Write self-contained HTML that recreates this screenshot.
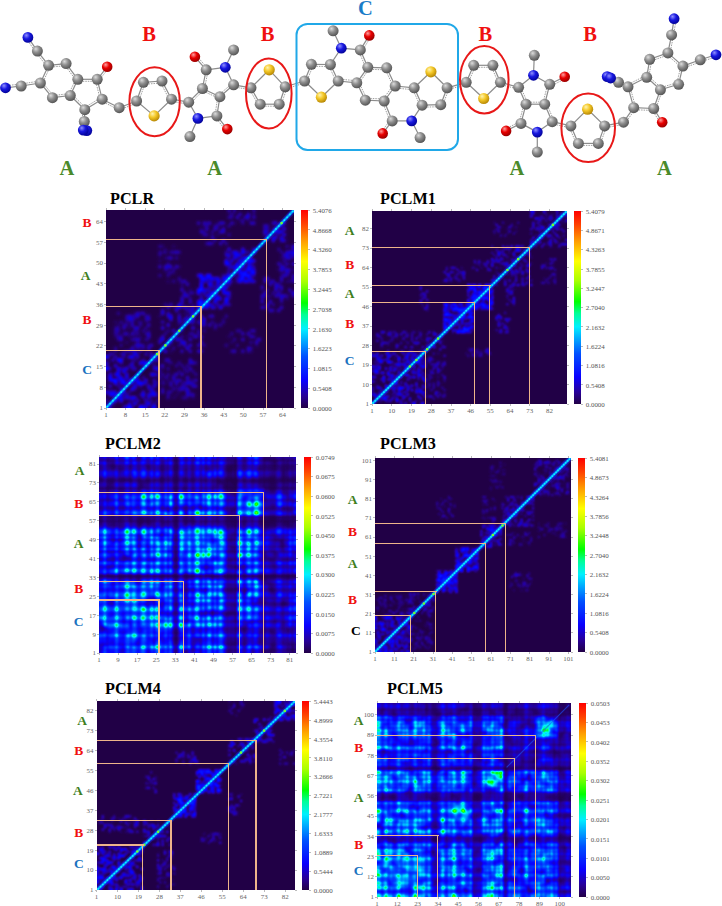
<!DOCTYPE html><html><head><meta charset="utf-8"><style>
html,body{margin:0;padding:0;background:#fff;width:722px;height:906px;overflow:hidden}
body{position:relative;font-family:"Liberation Serif",serif}
.ttl{position:absolute;font:bold 16.2px "Liberation Serif",serif;color:#000;white-space:nowrap;line-height:1}
.tl{position:absolute;font:6.9px "Liberation Serif",serif;color:#666;line-height:9px;white-space:nowrap}
.cl{position:absolute;font:6.9px "Liberation Serif",serif;color:#555;line-height:9px;white-space:nowrap}
.rl{position:absolute;font:bold 13.5px "Liberation Serif",serif;width:20px;text-align:center;line-height:18px}
.bl{position:absolute;background:#eeb48a}
.tk{position:absolute;background:#bbb}
.ml{position:absolute;font:bold 20.5px "Liberation Serif",serif;line-height:1;white-space:nowrap}
</style></head><body>
<svg width="722" height="180" style="position:absolute;left:0;top:0" viewBox="0 0 722 180"><defs><radialGradient id="atC" cx="0.4" cy="0.35" r="0.7" fx="0.35" fy="0.3"><stop offset="0" stop-color="#dcdcdc"/><stop offset="0.45" stop-color="#8e8e8e"/><stop offset="1" stop-color="#4e4e4e"/></radialGradient><radialGradient id="atN" cx="0.4" cy="0.35" r="0.7" fx="0.35" fy="0.3"><stop offset="0" stop-color="#9090ff"/><stop offset="0.45" stop-color="#1818e0"/><stop offset="1" stop-color="#000090"/></radialGradient><radialGradient id="atO" cx="0.4" cy="0.35" r="0.7" fx="0.35" fy="0.3"><stop offset="0" stop-color="#ffa0a0"/><stop offset="0.45" stop-color="#e80000"/><stop offset="1" stop-color="#900000"/></radialGradient><radialGradient id="atS" cx="0.4" cy="0.35" r="0.7" fx="0.35" fy="0.3"><stop offset="0" stop-color="#fff4b0"/><stop offset="0.45" stop-color="#f4c828"/><stop offset="1" stop-color="#b08000"/></radialGradient></defs><line x1="27.9" y1="37.4" x2="37.4" y2="51.1" stroke="#8c8c8c" stroke-width="1.2"/><line x1="26.3" y1="38.5" x2="35.8" y2="52.2" stroke="#a0a0a0" stroke-width="1" stroke-dasharray="1.5 1"/><line x1="37.4" y1="51.1" x2="48.6" y2="65.3" stroke="#8c8c8c" stroke-width="1.2"/><line x1="35.8" y1="52.3" x2="47.0" y2="66.5" stroke="#a0a0a0" stroke-width="1" stroke-dasharray="1.5 1"/><line x1="48.6" y1="65.3" x2="66.1" y2="63.6" stroke="#8c8c8c" stroke-width="1.2"/><line x1="48.8" y1="67.3" x2="66.3" y2="65.6" stroke="#a0a0a0" stroke-width="1" stroke-dasharray="1.5 1"/><line x1="66.1" y1="63.6" x2="77.8" y2="79.3" stroke="#8c8c8c" stroke-width="1.2"/><line x1="64.5" y1="64.8" x2="76.2" y2="80.5" stroke="#a0a0a0" stroke-width="1" stroke-dasharray="1.5 1"/><line x1="77.8" y1="79.3" x2="70.3" y2="95.5" stroke="#8c8c8c" stroke-width="1.2"/><line x1="76.0" y1="78.5" x2="68.5" y2="94.7" stroke="#a0a0a0" stroke-width="1" stroke-dasharray="1.5 1"/><line x1="70.3" y1="95.5" x2="52.4" y2="97.7" stroke="#8c8c8c" stroke-width="1.2"/><line x1="70.1" y1="93.5" x2="52.2" y2="95.7" stroke="#a0a0a0" stroke-width="1" stroke-dasharray="1.5 1"/><line x1="52.4" y1="97.7" x2="40.4" y2="83.0" stroke="#8c8c8c" stroke-width="1.2"/><line x1="53.9" y1="96.4" x2="41.9" y2="81.7" stroke="#a0a0a0" stroke-width="1" stroke-dasharray="1.5 1"/><line x1="40.4" y1="83.0" x2="48.6" y2="65.3" stroke="#8c8c8c" stroke-width="1.2"/><line x1="42.2" y1="83.8" x2="50.4" y2="66.1" stroke="#a0a0a0" stroke-width="1" stroke-dasharray="1.5 1"/><line x1="40.4" y1="83.0" x2="21.2" y2="86.0" stroke="#8c8c8c" stroke-width="1.2"/><line x1="40.1" y1="81.0" x2="20.9" y2="84.0" stroke="#a0a0a0" stroke-width="1" stroke-dasharray="1.5 1"/><line x1="21.2" y1="86.0" x2="5.5" y2="87.8" stroke="#8c8c8c" stroke-width="1.2"/><line x1="21.0" y1="84.0" x2="5.3" y2="85.8" stroke="#a0a0a0" stroke-width="1" stroke-dasharray="1.5 1"/><line x1="77.8" y1="79.3" x2="97.2" y2="79.3" stroke="#8c8c8c" stroke-width="1.2"/><line x1="77.8" y1="81.3" x2="97.2" y2="81.3" stroke="#a0a0a0" stroke-width="1" stroke-dasharray="1.5 1"/><line x1="97.2" y1="79.3" x2="107.2" y2="66.8" stroke="#8c8c8c" stroke-width="1.2"/><line x1="98.8" y1="80.5" x2="108.8" y2="68.0" stroke="#a0a0a0" stroke-width="1" stroke-dasharray="1.5 1"/><line x1="97.2" y1="79.3" x2="102.2" y2="99.2" stroke="#8c8c8c" stroke-width="1.2"/><line x1="95.3" y1="79.8" x2="100.3" y2="99.7" stroke="#a0a0a0" stroke-width="1" stroke-dasharray="1.5 1"/><line x1="102.2" y1="99.2" x2="84.8" y2="109.7" stroke="#8c8c8c" stroke-width="1.2"/><line x1="101.2" y1="97.5" x2="83.8" y2="108.0" stroke="#a0a0a0" stroke-width="1" stroke-dasharray="1.5 1"/><line x1="84.8" y1="109.7" x2="70.3" y2="95.5" stroke="#8c8c8c" stroke-width="1.2"/><line x1="86.2" y1="108.3" x2="71.7" y2="94.1" stroke="#a0a0a0" stroke-width="1" stroke-dasharray="1.5 1"/><line x1="84.8" y1="109.7" x2="84.3" y2="121.5" stroke="#8c8c8c" stroke-width="1.2"/><line x1="82.8" y1="109.6" x2="82.3" y2="121.4" stroke="#a0a0a0" stroke-width="1" stroke-dasharray="1.5 1"/><line x1="84.3" y1="121.5" x2="83.3" y2="130.1" stroke="#8c8c8c" stroke-width="1.2"/><line x1="82.3" y1="121.3" x2="81.3" y2="129.9" stroke="#a0a0a0" stroke-width="1" stroke-dasharray="1.5 1"/><line x1="102.2" y1="99.2" x2="119.2" y2="107.7" stroke="#8c8c8c" stroke-width="1.2"/><line x1="101.3" y1="101.0" x2="118.3" y2="109.5" stroke="#a0a0a0" stroke-width="1" stroke-dasharray="1.5 1"/><line x1="119.2" y1="107.7" x2="136.6" y2="101.0" stroke="#8c8c8c" stroke-width="1.2"/><line x1="119.9" y1="109.6" x2="137.3" y2="102.9" stroke="#a0a0a0" stroke-width="1" stroke-dasharray="1.5 1"/><line x1="136.6" y1="101.0" x2="143.4" y2="82.3" stroke="#8c8c8c" stroke-width="1.2"/><line x1="138.5" y1="101.7" x2="145.3" y2="83.0" stroke="#a0a0a0" stroke-width="1" stroke-dasharray="1.5 1"/><line x1="143.4" y1="82.3" x2="162.0" y2="81.0" stroke="#8c8c8c" stroke-width="1.2"/><line x1="143.5" y1="84.3" x2="162.1" y2="83.0" stroke="#a0a0a0" stroke-width="1" stroke-dasharray="1.5 1"/><line x1="162.0" y1="81.0" x2="171.5" y2="99.2" stroke="#8c8c8c" stroke-width="1.2"/><line x1="160.2" y1="81.9" x2="169.7" y2="100.1" stroke="#a0a0a0" stroke-width="1" stroke-dasharray="1.5 1"/><line x1="171.5" y1="99.2" x2="188.7" y2="102.2" stroke="#8c8c8c" stroke-width="1.2"/><line x1="171.2" y1="101.2" x2="188.4" y2="104.2" stroke="#a0a0a0" stroke-width="1" stroke-dasharray="1.5 1"/><line x1="171.5" y1="99.2" x2="154.1" y2="115.9" stroke="#8c8c8c" stroke-width="1.2"/><line x1="154.1" y1="115.9" x2="136.6" y2="101.0" stroke="#8c8c8c" stroke-width="1.2"/><line x1="188.7" y1="102.2" x2="202.4" y2="88.5" stroke="#8c8c8c" stroke-width="1.2"/><line x1="190.1" y1="103.6" x2="203.8" y2="89.9" stroke="#a0a0a0" stroke-width="1" stroke-dasharray="1.5 1"/><line x1="202.4" y1="88.5" x2="206.2" y2="69.8" stroke="#8c8c8c" stroke-width="1.2"/><line x1="204.4" y1="88.9" x2="208.2" y2="70.2" stroke="#a0a0a0" stroke-width="1" stroke-dasharray="1.5 1"/><line x1="206.2" y1="69.8" x2="194.9" y2="56.8" stroke="#8c8c8c" stroke-width="1.2"/><line x1="207.7" y1="68.5" x2="196.4" y2="55.5" stroke="#a0a0a0" stroke-width="1" stroke-dasharray="1.5 1"/><line x1="202.4" y1="88.5" x2="219.9" y2="96.7" stroke="#8c8c8c" stroke-width="1.2"/><line x1="201.6" y1="90.3" x2="219.1" y2="98.5" stroke="#a0a0a0" stroke-width="1" stroke-dasharray="1.5 1"/><line x1="219.9" y1="96.7" x2="216.9" y2="115.9" stroke="#8c8c8c" stroke-width="1.2"/><line x1="217.9" y1="96.4" x2="214.9" y2="115.6" stroke="#a0a0a0" stroke-width="1" stroke-dasharray="1.5 1"/><line x1="216.9" y1="115.9" x2="227.3" y2="129.1" stroke="#8c8c8c" stroke-width="1.2"/><line x1="215.3" y1="117.1" x2="225.7" y2="130.3" stroke="#a0a0a0" stroke-width="1" stroke-dasharray="1.5 1"/><line x1="233.6" y1="84.8" x2="219.9" y2="96.7" stroke="#8c8c8c" stroke-width="1.2"/><line x1="232.3" y1="83.3" x2="218.6" y2="95.2" stroke="#a0a0a0" stroke-width="1" stroke-dasharray="1.5 1"/><line x1="233.6" y1="84.8" x2="251.0" y2="87.8" stroke="#8c8c8c" stroke-width="1.2"/><line x1="233.3" y1="86.8" x2="250.7" y2="89.8" stroke="#a0a0a0" stroke-width="1" stroke-dasharray="1.5 1"/><line x1="206.2" y1="69.8" x2="225.3" y2="67.3" stroke="#8c8c8c" stroke-width="1.2"/><line x1="225.3" y1="67.3" x2="233.6" y2="84.8" stroke="#8c8c8c" stroke-width="1.2"/><line x1="216.9" y1="115.9" x2="197.9" y2="118.4" stroke="#8c8c8c" stroke-width="1.2"/><line x1="197.9" y1="118.4" x2="188.7" y2="102.2" stroke="#8c8c8c" stroke-width="1.2"/><line x1="225.3" y1="67.3" x2="233.6" y2="49.9" stroke="#8c8c8c" stroke-width="1.2"/><line x1="197.9" y1="118.4" x2="189.9" y2="136.6" stroke="#8c8c8c" stroke-width="1.2"/><line x1="251.0" y1="87.8" x2="260.2" y2="104.2" stroke="#8c8c8c" stroke-width="1.2"/><line x1="249.3" y1="88.8" x2="258.5" y2="105.2" stroke="#a0a0a0" stroke-width="1" stroke-dasharray="1.5 1"/><line x1="260.2" y1="104.2" x2="279.2" y2="104.2" stroke="#8c8c8c" stroke-width="1.2"/><line x1="260.2" y1="106.2" x2="279.2" y2="106.2" stroke="#a0a0a0" stroke-width="1" stroke-dasharray="1.5 1"/><line x1="279.2" y1="104.2" x2="285.2" y2="86.8" stroke="#8c8c8c" stroke-width="1.2"/><line x1="281.1" y1="104.9" x2="287.1" y2="87.5" stroke="#a0a0a0" stroke-width="1" stroke-dasharray="1.5 1"/><line x1="285.2" y1="86.8" x2="304.6" y2="81.0" stroke="#8c8c8c" stroke-width="1.2"/><line x1="285.8" y1="88.7" x2="305.2" y2="82.9" stroke="#a0a0a0" stroke-width="1" stroke-dasharray="1.5 1"/><line x1="251.0" y1="87.8" x2="269.2" y2="69.8" stroke="#8c8c8c" stroke-width="1.2"/><line x1="269.2" y1="69.8" x2="285.2" y2="86.8" stroke="#8c8c8c" stroke-width="1.2"/><line x1="304.6" y1="81.0" x2="311.4" y2="64.3" stroke="#8c8c8c" stroke-width="1.2"/><line x1="306.5" y1="81.8" x2="313.3" y2="65.1" stroke="#a0a0a0" stroke-width="1" stroke-dasharray="1.5 1"/><line x1="311.4" y1="64.3" x2="330.4" y2="64.5" stroke="#8c8c8c" stroke-width="1.2"/><line x1="311.4" y1="66.3" x2="330.4" y2="66.5" stroke="#a0a0a0" stroke-width="1" stroke-dasharray="1.5 1"/><line x1="330.4" y1="64.5" x2="338.2" y2="81.0" stroke="#8c8c8c" stroke-width="1.2"/><line x1="328.6" y1="65.4" x2="336.4" y2="81.9" stroke="#a0a0a0" stroke-width="1" stroke-dasharray="1.5 1"/><line x1="367.8" y1="67.3" x2="386.7" y2="67.8" stroke="#8c8c8c" stroke-width="1.2"/><line x1="367.7" y1="69.3" x2="386.6" y2="69.8" stroke="#a0a0a0" stroke-width="1" stroke-dasharray="1.5 1"/><line x1="386.7" y1="67.8" x2="395.2" y2="86.0" stroke="#8c8c8c" stroke-width="1.2"/><line x1="384.9" y1="68.6" x2="393.4" y2="86.8" stroke="#a0a0a0" stroke-width="1" stroke-dasharray="1.5 1"/><line x1="395.2" y1="86.0" x2="384.2" y2="101.0" stroke="#8c8c8c" stroke-width="1.2"/><line x1="393.6" y1="84.8" x2="382.6" y2="99.8" stroke="#a0a0a0" stroke-width="1" stroke-dasharray="1.5 1"/><line x1="384.2" y1="101.0" x2="365.3" y2="100.2" stroke="#8c8c8c" stroke-width="1.2"/><line x1="384.3" y1="99.0" x2="365.4" y2="98.2" stroke="#a0a0a0" stroke-width="1" stroke-dasharray="1.5 1"/><line x1="365.3" y1="100.2" x2="356.8" y2="82.8" stroke="#8c8c8c" stroke-width="1.2"/><line x1="367.1" y1="99.3" x2="358.6" y2="81.9" stroke="#a0a0a0" stroke-width="1" stroke-dasharray="1.5 1"/><line x1="356.8" y1="82.8" x2="367.8" y2="67.3" stroke="#8c8c8c" stroke-width="1.2"/><line x1="358.4" y1="84.0" x2="369.4" y2="68.5" stroke="#a0a0a0" stroke-width="1" stroke-dasharray="1.5 1"/><line x1="356.8" y1="82.8" x2="338.2" y2="81.0" stroke="#8c8c8c" stroke-width="1.2"/><line x1="357.0" y1="80.8" x2="338.4" y2="79.0" stroke="#a0a0a0" stroke-width="1" stroke-dasharray="1.5 1"/><line x1="360.3" y1="49.9" x2="369.3" y2="35.4" stroke="#8c8c8c" stroke-width="1.2"/><line x1="362.0" y1="51.0" x2="371.0" y2="36.5" stroke="#a0a0a0" stroke-width="1" stroke-dasharray="1.5 1"/><line x1="360.3" y1="49.9" x2="367.8" y2="67.3" stroke="#8c8c8c" stroke-width="1.2"/><line x1="358.5" y1="50.7" x2="366.0" y2="68.1" stroke="#a0a0a0" stroke-width="1" stroke-dasharray="1.5 1"/><line x1="395.2" y1="86.0" x2="414.2" y2="87.8" stroke="#8c8c8c" stroke-width="1.2"/><line x1="395.0" y1="88.0" x2="414.0" y2="89.8" stroke="#a0a0a0" stroke-width="1" stroke-dasharray="1.5 1"/><line x1="414.2" y1="87.8" x2="422.1" y2="105.2" stroke="#8c8c8c" stroke-width="1.2"/><line x1="412.4" y1="88.6" x2="420.3" y2="106.0" stroke="#a0a0a0" stroke-width="1" stroke-dasharray="1.5 1"/><line x1="422.1" y1="105.2" x2="440.8" y2="104.7" stroke="#8c8c8c" stroke-width="1.2"/><line x1="422.2" y1="107.2" x2="440.9" y2="106.7" stroke="#a0a0a0" stroke-width="1" stroke-dasharray="1.5 1"/><line x1="440.8" y1="104.7" x2="447.1" y2="87.8" stroke="#8c8c8c" stroke-width="1.2"/><line x1="442.7" y1="105.4" x2="449.0" y2="88.5" stroke="#a0a0a0" stroke-width="1" stroke-dasharray="1.5 1"/><line x1="384.2" y1="101.0" x2="392.2" y2="120.9" stroke="#8c8c8c" stroke-width="1.2"/><line x1="382.3" y1="101.7" x2="390.3" y2="121.6" stroke="#a0a0a0" stroke-width="1" stroke-dasharray="1.5 1"/><line x1="392.2" y1="120.9" x2="382.7" y2="133.4" stroke="#8c8c8c" stroke-width="1.2"/><line x1="390.6" y1="119.7" x2="381.1" y2="132.2" stroke="#a0a0a0" stroke-width="1" stroke-dasharray="1.5 1"/><line x1="447.1" y1="87.8" x2="466.2" y2="82.3" stroke="#8c8c8c" stroke-width="1.2"/><line x1="447.7" y1="89.7" x2="466.8" y2="84.2" stroke="#a0a0a0" stroke-width="1" stroke-dasharray="1.5 1"/><line x1="338.2" y1="81.0" x2="321.4" y2="97.2" stroke="#8c8c8c" stroke-width="1.2"/><line x1="321.4" y1="97.2" x2="304.6" y2="81.0" stroke="#8c8c8c" stroke-width="1.2"/><line x1="330.4" y1="64.5" x2="341.3" y2="48.2" stroke="#8c8c8c" stroke-width="1.2"/><line x1="341.3" y1="48.2" x2="333.1" y2="30.8" stroke="#8c8c8c" stroke-width="1.2"/><line x1="341.3" y1="48.2" x2="360.3" y2="49.9" stroke="#8c8c8c" stroke-width="1.2"/><line x1="392.2" y1="120.9" x2="411.7" y2="120.9" stroke="#8c8c8c" stroke-width="1.2"/><line x1="411.7" y1="120.9" x2="420.1" y2="137.6" stroke="#8c8c8c" stroke-width="1.2"/><line x1="411.7" y1="120.9" x2="422.1" y2="105.2" stroke="#8c8c8c" stroke-width="1.2"/><line x1="414.2" y1="87.8" x2="430.9" y2="71.8" stroke="#8c8c8c" stroke-width="1.2"/><line x1="430.9" y1="71.8" x2="447.1" y2="87.8" stroke="#8c8c8c" stroke-width="1.2"/><line x1="466.2" y1="82.3" x2="473.7" y2="65.3" stroke="#8c8c8c" stroke-width="1.2"/><line x1="468.0" y1="83.1" x2="475.5" y2="66.1" stroke="#a0a0a0" stroke-width="1" stroke-dasharray="1.5 1"/><line x1="473.7" y1="65.3" x2="492.9" y2="65.3" stroke="#8c8c8c" stroke-width="1.2"/><line x1="473.7" y1="67.3" x2="492.9" y2="67.3" stroke="#a0a0a0" stroke-width="1" stroke-dasharray="1.5 1"/><line x1="492.9" y1="65.3" x2="500.4" y2="82.3" stroke="#8c8c8c" stroke-width="1.2"/><line x1="491.1" y1="66.1" x2="498.6" y2="83.1" stroke="#a0a0a0" stroke-width="1" stroke-dasharray="1.5 1"/><line x1="500.4" y1="82.3" x2="518.6" y2="87.3" stroke="#8c8c8c" stroke-width="1.2"/><line x1="499.9" y1="84.2" x2="518.1" y2="89.2" stroke="#a0a0a0" stroke-width="1" stroke-dasharray="1.5 1"/><line x1="500.4" y1="82.3" x2="483.7" y2="98.5" stroke="#8c8c8c" stroke-width="1.2"/><line x1="483.7" y1="98.5" x2="466.2" y2="82.3" stroke="#8c8c8c" stroke-width="1.2"/><line x1="549.7" y1="84.3" x2="564.7" y2="76.8" stroke="#8c8c8c" stroke-width="1.2"/><line x1="550.6" y1="86.1" x2="565.6" y2="78.6" stroke="#a0a0a0" stroke-width="1" stroke-dasharray="1.5 1"/><line x1="549.7" y1="84.3" x2="544.7" y2="104.2" stroke="#8c8c8c" stroke-width="1.2"/><line x1="547.8" y1="83.8" x2="542.8" y2="103.7" stroke="#a0a0a0" stroke-width="1" stroke-dasharray="1.5 1"/><line x1="544.7" y1="104.2" x2="526.0" y2="104.2" stroke="#8c8c8c" stroke-width="1.2"/><line x1="544.7" y1="102.2" x2="526.0" y2="102.2" stroke="#a0a0a0" stroke-width="1" stroke-dasharray="1.5 1"/><line x1="526.0" y1="104.2" x2="518.6" y2="87.3" stroke="#8c8c8c" stroke-width="1.2"/><line x1="527.8" y1="103.4" x2="520.4" y2="86.5" stroke="#a0a0a0" stroke-width="1" stroke-dasharray="1.5 1"/><line x1="526.0" y1="104.2" x2="521.0" y2="123.4" stroke="#8c8c8c" stroke-width="1.2"/><line x1="524.1" y1="103.7" x2="519.1" y2="122.9" stroke="#a0a0a0" stroke-width="1" stroke-dasharray="1.5 1"/><line x1="521.0" y1="123.4" x2="506.1" y2="130.9" stroke="#8c8c8c" stroke-width="1.2"/><line x1="520.1" y1="121.6" x2="505.2" y2="129.1" stroke="#a0a0a0" stroke-width="1" stroke-dasharray="1.5 1"/><line x1="552.2" y1="121.7" x2="544.7" y2="104.2" stroke="#8c8c8c" stroke-width="1.2"/><line x1="554.0" y1="120.9" x2="546.5" y2="103.4" stroke="#a0a0a0" stroke-width="1" stroke-dasharray="1.5 1"/><line x1="552.2" y1="121.7" x2="570.9" y2="125.9" stroke="#8c8c8c" stroke-width="1.2"/><line x1="551.8" y1="123.7" x2="570.5" y2="127.9" stroke="#a0a0a0" stroke-width="1" stroke-dasharray="1.5 1"/><line x1="518.6" y1="87.3" x2="533.5" y2="75.3" stroke="#8c8c8c" stroke-width="1.2"/><line x1="533.5" y1="75.3" x2="534.3" y2="55.3" stroke="#8c8c8c" stroke-width="1.2"/><line x1="533.5" y1="75.3" x2="549.7" y2="84.3" stroke="#8c8c8c" stroke-width="1.2"/><line x1="521.0" y1="123.4" x2="537.3" y2="132.1" stroke="#8c8c8c" stroke-width="1.2"/><line x1="537.3" y1="132.1" x2="537.3" y2="152.1" stroke="#8c8c8c" stroke-width="1.2"/><line x1="537.3" y1="132.1" x2="552.2" y2="121.7" stroke="#8c8c8c" stroke-width="1.2"/><line x1="570.9" y1="125.9" x2="578.4" y2="143.4" stroke="#8c8c8c" stroke-width="1.2"/><line x1="569.1" y1="126.7" x2="576.6" y2="144.2" stroke="#a0a0a0" stroke-width="1" stroke-dasharray="1.5 1"/><line x1="578.4" y1="143.4" x2="598.3" y2="143.4" stroke="#8c8c8c" stroke-width="1.2"/><line x1="578.4" y1="145.4" x2="598.3" y2="145.4" stroke="#a0a0a0" stroke-width="1" stroke-dasharray="1.5 1"/><line x1="598.3" y1="143.4" x2="604.6" y2="125.9" stroke="#8c8c8c" stroke-width="1.2"/><line x1="600.2" y1="144.1" x2="606.5" y2="126.6" stroke="#a0a0a0" stroke-width="1" stroke-dasharray="1.5 1"/><line x1="604.6" y1="125.9" x2="623.5" y2="122.2" stroke="#8c8c8c" stroke-width="1.2"/><line x1="605.0" y1="127.9" x2="623.9" y2="124.2" stroke="#a0a0a0" stroke-width="1" stroke-dasharray="1.5 1"/><line x1="570.9" y1="125.9" x2="587.6" y2="109.2" stroke="#8c8c8c" stroke-width="1.2"/><line x1="587.6" y1="109.2" x2="604.6" y2="125.9" stroke="#8c8c8c" stroke-width="1.2"/><line x1="623.5" y1="122.2" x2="633.7" y2="107.7" stroke="#8c8c8c" stroke-width="1.2"/><line x1="625.1" y1="123.4" x2="635.3" y2="108.9" stroke="#a0a0a0" stroke-width="1" stroke-dasharray="1.5 1"/><line x1="633.7" y1="107.7" x2="628.0" y2="86.8" stroke="#8c8c8c" stroke-width="1.2"/><line x1="635.6" y1="107.2" x2="629.9" y2="86.3" stroke="#a0a0a0" stroke-width="1" stroke-dasharray="1.5 1"/><line x1="628.0" y1="86.8" x2="618.5" y2="82.3" stroke="#8c8c8c" stroke-width="1.2"/><line x1="628.9" y1="85.0" x2="619.4" y2="80.5" stroke="#a0a0a0" stroke-width="1" stroke-dasharray="1.5 1"/><line x1="618.5" y1="82.3" x2="610.6" y2="78.0" stroke="#8c8c8c" stroke-width="1.2"/><line x1="619.5" y1="80.5" x2="611.6" y2="76.2" stroke="#a0a0a0" stroke-width="1" stroke-dasharray="1.5 1"/><line x1="633.7" y1="107.7" x2="653.7" y2="108.5" stroke="#8c8c8c" stroke-width="1.2"/><line x1="633.6" y1="109.7" x2="653.6" y2="110.5" stroke="#a0a0a0" stroke-width="1" stroke-dasharray="1.5 1"/><line x1="653.7" y1="108.5" x2="662.2" y2="122.2" stroke="#8c8c8c" stroke-width="1.2"/><line x1="652.0" y1="109.6" x2="660.5" y2="123.3" stroke="#a0a0a0" stroke-width="1" stroke-dasharray="1.5 1"/><line x1="653.7" y1="108.5" x2="660.4" y2="89.8" stroke="#8c8c8c" stroke-width="1.2"/><line x1="655.6" y1="109.2" x2="662.3" y2="90.5" stroke="#a0a0a0" stroke-width="1" stroke-dasharray="1.5 1"/><line x1="660.4" y1="89.8" x2="646.7" y2="77.3" stroke="#8c8c8c" stroke-width="1.2"/><line x1="661.7" y1="88.3" x2="648.0" y2="75.8" stroke="#a0a0a0" stroke-width="1" stroke-dasharray="1.5 1"/><line x1="646.7" y1="77.3" x2="628.0" y2="86.8" stroke="#8c8c8c" stroke-width="1.2"/><line x1="645.8" y1="75.5" x2="627.1" y2="85.0" stroke="#a0a0a0" stroke-width="1" stroke-dasharray="1.5 1"/><line x1="646.7" y1="77.3" x2="649.7" y2="59.3" stroke="#8c8c8c" stroke-width="1.2"/><line x1="648.7" y1="77.6" x2="651.7" y2="59.6" stroke="#a0a0a0" stroke-width="1" stroke-dasharray="1.5 1"/><line x1="649.7" y1="59.3" x2="667.9" y2="52.9" stroke="#8c8c8c" stroke-width="1.2"/><line x1="650.4" y1="61.2" x2="668.6" y2="54.8" stroke="#a0a0a0" stroke-width="1" stroke-dasharray="1.5 1"/><line x1="667.9" y1="52.9" x2="682.9" y2="66.1" stroke="#8c8c8c" stroke-width="1.2"/><line x1="666.6" y1="54.4" x2="681.6" y2="67.6" stroke="#a0a0a0" stroke-width="1" stroke-dasharray="1.5 1"/><line x1="682.9" y1="66.1" x2="678.6" y2="84.3" stroke="#8c8c8c" stroke-width="1.2"/><line x1="681.0" y1="65.6" x2="676.7" y2="83.8" stroke="#a0a0a0" stroke-width="1" stroke-dasharray="1.5 1"/><line x1="678.6" y1="84.3" x2="660.4" y2="89.8" stroke="#8c8c8c" stroke-width="1.2"/><line x1="678.0" y1="82.4" x2="659.8" y2="87.9" stroke="#a0a0a0" stroke-width="1" stroke-dasharray="1.5 1"/><line x1="667.9" y1="52.9" x2="671.6" y2="34.9" stroke="#8c8c8c" stroke-width="1.2"/><line x1="669.9" y1="53.3" x2="673.6" y2="35.3" stroke="#a0a0a0" stroke-width="1" stroke-dasharray="1.5 1"/><line x1="671.6" y1="34.9" x2="674.1" y2="18.7" stroke="#8c8c8c" stroke-width="1.2"/><line x1="673.6" y1="35.2" x2="676.1" y2="19.0" stroke="#a0a0a0" stroke-width="1" stroke-dasharray="1.5 1"/><line x1="682.9" y1="66.1" x2="700.3" y2="59.8" stroke="#8c8c8c" stroke-width="1.2"/><line x1="683.6" y1="68.0" x2="701.0" y2="61.7" stroke="#a0a0a0" stroke-width="1" stroke-dasharray="1.5 1"/><line x1="700.3" y1="59.8" x2="716.0" y2="54.8" stroke="#8c8c8c" stroke-width="1.2"/><line x1="700.9" y1="61.7" x2="716.6" y2="56.7" stroke="#a0a0a0" stroke-width="1" stroke-dasharray="1.5 1"/><circle cx="27.9" cy="37.4" r="5.4" fill="url(#atN)"/><circle cx="37.4" cy="51.1" r="5.5" fill="url(#atC)"/><circle cx="48.6" cy="65.3" r="5.5" fill="url(#atC)"/><circle cx="66.1" cy="63.6" r="5.5" fill="url(#atC)"/><circle cx="77.8" cy="79.3" r="5.5" fill="url(#atC)"/><circle cx="70.3" cy="95.5" r="5.5" fill="url(#atC)"/><circle cx="52.4" cy="97.7" r="5.5" fill="url(#atC)"/><circle cx="40.4" cy="83.0" r="5.5" fill="url(#atC)"/><circle cx="21.2" cy="86.0" r="5.5" fill="url(#atC)"/><circle cx="5.5" cy="87.8" r="5.4" fill="url(#atN)"/><circle cx="97.2" cy="79.3" r="5.5" fill="url(#atC)"/><circle cx="107.2" cy="66.8" r="5.3" fill="url(#atO)"/><circle cx="102.2" cy="99.2" r="5.5" fill="url(#atC)"/><circle cx="84.8" cy="109.7" r="5.5" fill="url(#atC)"/><circle cx="84.3" cy="121.5" r="5.5" fill="url(#atC)"/><circle cx="86.8" cy="130.6" r="5.4" fill="url(#atN)"/><circle cx="83.3" cy="130.1" r="5.4" fill="url(#atN)"/><circle cx="119.2" cy="107.7" r="5.5" fill="url(#atC)"/><circle cx="136.6" cy="101.0" r="5.5" fill="url(#atC)"/><circle cx="143.4" cy="82.3" r="5.5" fill="url(#atC)"/><circle cx="162.0" cy="81.0" r="5.5" fill="url(#atC)"/><circle cx="171.5" cy="99.2" r="5.5" fill="url(#atC)"/><circle cx="154.1" cy="115.9" r="5.6" fill="url(#atS)"/><circle cx="188.7" cy="102.2" r="5.5" fill="url(#atC)"/><circle cx="202.4" cy="88.5" r="5.5" fill="url(#atC)"/><circle cx="206.2" cy="69.8" r="5.5" fill="url(#atC)"/><circle cx="194.9" cy="56.8" r="5.3" fill="url(#atO)"/><circle cx="225.3" cy="67.3" r="5.4" fill="url(#atN)"/><circle cx="233.6" cy="49.9" r="5.5" fill="url(#atC)"/><circle cx="233.6" cy="84.8" r="5.5" fill="url(#atC)"/><circle cx="219.9" cy="96.7" r="5.5" fill="url(#atC)"/><circle cx="216.9" cy="115.9" r="5.5" fill="url(#atC)"/><circle cx="227.3" cy="129.1" r="5.3" fill="url(#atO)"/><circle cx="197.9" cy="118.4" r="5.4" fill="url(#atN)"/><circle cx="189.9" cy="136.6" r="5.5" fill="url(#atC)"/><circle cx="251.0" cy="87.8" r="5.5" fill="url(#atC)"/><circle cx="269.2" cy="69.8" r="5.6" fill="url(#atS)"/><circle cx="285.2" cy="86.8" r="5.5" fill="url(#atC)"/><circle cx="279.2" cy="104.2" r="5.5" fill="url(#atC)"/><circle cx="260.2" cy="104.2" r="5.5" fill="url(#atC)"/><circle cx="304.6" cy="81.0" r="5.5" fill="url(#atC)"/><circle cx="311.4" cy="64.3" r="5.5" fill="url(#atC)"/><circle cx="330.4" cy="64.5" r="5.5" fill="url(#atC)"/><circle cx="338.2" cy="81.0" r="5.5" fill="url(#atC)"/><circle cx="321.4" cy="97.2" r="5.6" fill="url(#atS)"/><circle cx="341.3" cy="48.2" r="5.4" fill="url(#atN)"/><circle cx="333.1" cy="30.8" r="5.5" fill="url(#atC)"/><circle cx="360.3" cy="49.9" r="5.5" fill="url(#atC)"/><circle cx="369.3" cy="35.4" r="5.3" fill="url(#atO)"/><circle cx="367.8" cy="67.3" r="5.5" fill="url(#atC)"/><circle cx="386.7" cy="67.8" r="5.5" fill="url(#atC)"/><circle cx="356.8" cy="82.8" r="5.5" fill="url(#atC)"/><circle cx="395.2" cy="86.0" r="5.5" fill="url(#atC)"/><circle cx="365.3" cy="100.2" r="5.5" fill="url(#atC)"/><circle cx="384.2" cy="101.0" r="5.5" fill="url(#atC)"/><circle cx="392.2" cy="120.9" r="5.5" fill="url(#atC)"/><circle cx="382.7" cy="133.4" r="5.3" fill="url(#atO)"/><circle cx="411.7" cy="120.9" r="5.4" fill="url(#atN)"/><circle cx="420.1" cy="137.6" r="5.5" fill="url(#atC)"/><circle cx="414.2" cy="87.8" r="5.5" fill="url(#atC)"/><circle cx="422.1" cy="105.2" r="5.5" fill="url(#atC)"/><circle cx="430.9" cy="71.8" r="5.6" fill="url(#atS)"/><circle cx="447.1" cy="87.8" r="5.5" fill="url(#atC)"/><circle cx="440.8" cy="104.7" r="5.5" fill="url(#atC)"/><circle cx="466.2" cy="82.3" r="5.5" fill="url(#atC)"/><circle cx="473.7" cy="65.3" r="5.5" fill="url(#atC)"/><circle cx="492.9" cy="65.3" r="5.5" fill="url(#atC)"/><circle cx="500.4" cy="82.3" r="5.5" fill="url(#atC)"/><circle cx="483.7" cy="98.5" r="5.6" fill="url(#atS)"/><circle cx="518.6" cy="87.3" r="5.5" fill="url(#atC)"/><circle cx="533.5" cy="75.3" r="5.4" fill="url(#atN)"/><circle cx="534.3" cy="55.3" r="5.5" fill="url(#atC)"/><circle cx="549.7" cy="84.3" r="5.5" fill="url(#atC)"/><circle cx="564.7" cy="76.8" r="5.3" fill="url(#atO)"/><circle cx="526.0" cy="104.2" r="5.5" fill="url(#atC)"/><circle cx="544.7" cy="104.2" r="5.5" fill="url(#atC)"/><circle cx="552.2" cy="121.7" r="5.5" fill="url(#atC)"/><circle cx="521.0" cy="123.4" r="5.5" fill="url(#atC)"/><circle cx="506.1" cy="130.9" r="5.3" fill="url(#atO)"/><circle cx="537.3" cy="132.1" r="5.4" fill="url(#atN)"/><circle cx="537.3" cy="152.1" r="5.5" fill="url(#atC)"/><circle cx="570.9" cy="125.9" r="5.5" fill="url(#atC)"/><circle cx="587.6" cy="109.2" r="5.6" fill="url(#atS)"/><circle cx="604.6" cy="125.9" r="5.5" fill="url(#atC)"/><circle cx="598.3" cy="143.4" r="5.5" fill="url(#atC)"/><circle cx="578.4" cy="143.4" r="5.5" fill="url(#atC)"/><circle cx="623.5" cy="122.2" r="5.5" fill="url(#atC)"/><circle cx="633.7" cy="107.7" r="5.5" fill="url(#atC)"/><circle cx="628.0" cy="86.8" r="5.5" fill="url(#atC)"/><circle cx="618.5" cy="82.3" r="5.5" fill="url(#atC)"/><circle cx="607.2" cy="76.6" r="5.4" fill="url(#atN)"/><circle cx="610.6" cy="78.0" r="5.4" fill="url(#atN)"/><circle cx="653.7" cy="108.5" r="5.5" fill="url(#atC)"/><circle cx="662.2" cy="122.2" r="5.3" fill="url(#atO)"/><circle cx="646.7" cy="77.3" r="5.5" fill="url(#atC)"/><circle cx="660.4" cy="89.8" r="5.5" fill="url(#atC)"/><circle cx="678.6" cy="84.3" r="5.5" fill="url(#atC)"/><circle cx="682.9" cy="66.1" r="5.5" fill="url(#atC)"/><circle cx="667.9" cy="52.9" r="5.5" fill="url(#atC)"/><circle cx="649.7" cy="59.3" r="5.5" fill="url(#atC)"/><circle cx="671.6" cy="34.9" r="5.5" fill="url(#atC)"/><circle cx="674.1" cy="18.7" r="5.4" fill="url(#atN)"/><circle cx="700.3" cy="59.8" r="5.5" fill="url(#atC)"/><circle cx="716.0" cy="54.8" r="5.4" fill="url(#atN)"/><ellipse cx="154.6" cy="101.7" rx="25.2" ry="34.5" fill="none" stroke="#e81818" stroke-width="2"/><ellipse cx="268.8" cy="93.5" rx="22.8" ry="34.9" fill="none" stroke="#e81818" stroke-width="2"/><ellipse cx="484.3" cy="79.8" rx="24.3" ry="33.7" fill="none" stroke="#e81818" stroke-width="2"/><ellipse cx="588.2" cy="127.8" rx="26.8" ry="34.3" fill="none" stroke="#e81818" stroke-width="2"/><rect x="296.5" y="23.9" width="161.5" height="126" rx="11" ry="11" fill="none" stroke="#20a8e8" stroke-width="2"/></svg><div class="ml" style="left:149.0px;top:24.4px;color:#f01010;width:30px;margin-left:-15px;text-align:center">B</div><div class="ml" style="left:267.6px;top:24.4px;color:#f01010;width:30px;margin-left:-15px;text-align:center">B</div><div class="ml" style="left:485.3px;top:24.4px;color:#f01010;width:30px;margin-left:-15px;text-align:center">B</div><div class="ml" style="left:590.0px;top:24.4px;color:#f01010;width:30px;margin-left:-15px;text-align:center">B</div><div class="ml" style="left:67.0px;top:158.3px;color:#4a8a2a;width:30px;margin-left:-15px;text-align:center">A</div><div class="ml" style="left:214.6px;top:158.3px;color:#4a8a2a;width:30px;margin-left:-15px;text-align:center">A</div><div class="ml" style="left:517.0px;top:158.3px;color:#4a8a2a;width:30px;margin-left:-15px;text-align:center">A</div><div class="ml" style="left:664.4px;top:158.3px;color:#4a8a2a;width:30px;margin-left:-15px;text-align:center">A</div><div class="ml" style="left:365.4px;top:-2.0px;color:#1a7cc8;width:30px;margin-left:-15px;text-align:center">C</div><div class="ttl" style="left:110.0px;top:191.0px">PCLR</div><svg width="188.00" height="198.00" viewBox="0 0 68 68" preserveAspectRatio="none" style="position:absolute;left:106.00px;top:210.00px"><defs><filter id="cmPCLR" x="0" y="0" width="100%" height="100%" color-interpolation-filters="sRGB"><feGaussianBlur stdDeviation="0.55" edgeMode="duplicate"/><feComponentTransfer><feFuncR type="table" tableValues="0.133 0.141 0.153 0.133 0.098 0.063 0.035 0.027 0.020 0.012 0.004 0.000 0.000 0.000 0.000 0.000 0.000 0.000 0.000 0.000 0.000 0.000 0.122 0.275 0.424 0.576 0.698 0.784 0.867 0.949 1.000 1.000 1.000 1.000 1.000 1.000 1.000 1.000 1.000 1.000 1.000"/><feFuncG type="table" tableValues="0.000 0.000 0.000 0.000 0.000 0.000 0.027 0.090 0.157 0.224 0.286 0.380 0.490 0.600 0.714 0.827 0.941 0.961 0.984 1.000 1.000 1.000 1.000 1.000 1.000 1.000 1.000 1.000 1.000 1.000 0.965 0.871 0.776 0.682 0.584 0.482 0.376 0.271 0.180 0.090 0.000"/><feFuncB type="table" tableValues="0.275 0.404 0.537 0.667 0.792 0.922 1.000 1.000 1.000 1.000 1.000 1.000 1.000 1.000 1.000 1.000 1.000 0.855 0.706 0.541 0.294 0.047 0.000 0.000 0.000 0.000 0.000 0.000 0.000 0.000 0.000 0.000 0.000 0.000 0.000 0.000 0.000 0.000 0.000 0.000 0.000"/><feFuncA type="linear" slope="0" intercept="1"/></feComponentTransfer></filter></defs><g filter="url(#cmPCLR)"><rect width="68" height="68" fill="#000"/><path fill="#fff" fill-opacity="0.04" d="M53 1h1v1h-1zM48 3h1v1h-1zM51 3h1v1h-1zM40 4h1v1h-1zM46 4h1v1h-1zM35 5h1v1h-1zM34 6h1v1h-1zM40 6h1v1h-1zM62 6h1v1h-1zM38 8h1v1h-1zM40 8h1v1h-1zM62 8h1v1h-1zM20 12h1v1h-1zM24 12h1v1h-1zM21 13h1v1h-1zM20 14h1v1h-1zM66 15h1v1h-1zM21 16h1v1h-1zM63 16h2v1h-2zM67 16h1v1h-1zM19 17h1v1h-1zM63 18h1v1h-1zM26 19h1v1h-1zM22 20h1v1h-1zM62 20h1v1h-1zM67 20h1v1h-1zM22 21h1v1h-1zM24 21h1v1h-1zM63 21h1v1h-1zM66 21h1v1h-1zM63 22h1v1h-1zM22 24h1v1h-1zM26 24h1v1h-1zM65 24h2v1h-2zM27 25h1v1h-1zM27 26h1v1h-1zM30 27h1v1h-1zM56 27h1v1h-1zM27 29h1v1h-1zM58 29h2v1h-2zM58 30h1v1h-1zM65 30h1v1h-1zM31 32h1v1h-1zM24 33h1v1h-1zM27 33h1v1h-1zM30 33h1v1h-1zM57 33h1v1h-1zM10 35h1v1h-1zM26 35h1v1h-1zM28 35h1v1h-1zM19 36h1v1h-1zM10 37h1v1h-1zM34 37h1v1h-1zM42 37h1v1h-1zM3 38h1v1h-1zM7 38h2v1h-2zM11 38h1v1h-1zM14 38h1v1h-1zM28 38h1v1h-1zM4 39h1v1h-1zM26 39h1v1h-1zM40 39h1v1h-1zM8 40h1v1h-1zM11 41h1v1h-1zM15 41h1v1h-1zM4 42h1v1h-1zM10 42h1v1h-1zM3 43h1v1h-1zM8 43h1v1h-1zM10 43h1v1h-1zM12 43h1v1h-1zM25 43h1v1h-1zM29 43h1v1h-1zM31 43h1v1h-1zM44 43h1v1h-1zM12 44h1v1h-1zM15 44h1v1h-1zM22 44h1v1h-1zM27 44h1v1h-1zM34 44h1v1h-1zM54 44h1v1h-1zM7 45h1v1h-1zM45 45h1v1h-1zM34 46h1v1h-1zM54 46h1v1h-1zM6 48h1v1h-1zM15 48h1v1h-1zM23 48h1v1h-1zM52 48h1v1h-1zM22 52h1v1h-1zM12 53h1v1h-1zM19 53h1v1h-1zM20 54h1v1h-1zM28 55h1v1h-1zM24 56h1v1h-1zM22 57h1v1h-1zM20 58h1v1h-1zM22 58h1v1h-1zM27 58h1v1h-1zM30 58h2v1h-2zM21 59h1v1h-1zM27 59h1v1h-1zM25 60h1v1h-1zM25 61h1v1h-1zM26 62h1v1h-1zM30 62h1v1h-1zM25 63h1v1h-1zM24 64h1v1h-1zM27 64h1v1h-1zM29 64h1v1h-1zM31 64h1v1h-1z"/><path fill="#fff" fill-opacity="0.08" d="M44 0h1v1h-1zM46 0h1v1h-1zM53 0h1v1h-1zM45 1h1v1h-1zM44 2h2v1h-2zM49 3h1v1h-1zM36 4h1v1h-1zM49 4h1v1h-1zM63 4h1v1h-1zM36 5h1v1h-1zM39 5h2v1h-2zM44 5h1v1h-1zM58 5h1v1h-1zM57 6h2v1h-2zM60 6h1v1h-1zM35 7h1v1h-1zM38 7h1v1h-1zM58 7h1v1h-1zM35 8h2v1h-2zM44 8h1v1h-1zM57 8h2v1h-2zM61 8h1v1h-1zM39 10h1v1h-1zM36 11h1v1h-1zM38 11h1v1h-1zM43 11h1v1h-1zM19 12h1v1h-1zM65 12h1v1h-1zM62 13h1v1h-1zM67 13h1v1h-1zM19 14h1v1h-1zM21 14h1v1h-1zM23 14h2v1h-2zM26 14h1v1h-1zM43 14h1v1h-1zM45 14h1v1h-1zM50 14h2v1h-2zM63 14h1v1h-1zM19 15h1v1h-1zM22 16h1v1h-1zM25 16h1v1h-1zM44 16h1v1h-1zM47 16h1v1h-1zM64 17h1v1h-1zM22 18h1v1h-1zM52 18h1v1h-1zM44 19h1v1h-1zM53 19h1v1h-1zM64 19h1v1h-1zM21 20h1v1h-1zM24 20h1v1h-1zM44 20h1v1h-1zM47 20h1v1h-1zM50 20h1v1h-1zM64 20h1v1h-1zM66 20h1v1h-1zM23 21h1v1h-1zM44 21h1v1h-1zM47 21h1v1h-1zM19 22h1v1h-1zM22 22h1v1h-1zM42 22h2v1h-2zM46 22h1v1h-1zM52 22h2v1h-2zM65 22h1v1h-1zM67 22h1v1h-1zM26 23h1v1h-1zM47 23h1v1h-1zM57 23h1v1h-1zM67 23h1v1h-1zM24 24h1v1h-1zM27 24h1v1h-1zM36 24h3v1h-3zM42 24h1v1h-1zM45 24h1v1h-1zM47 24h1v1h-1zM49 24h1v1h-1zM59 24h1v1h-1zM63 24h1v1h-1zM67 24h1v1h-1zM38 25h1v1h-1zM62 25h1v1h-1zM37 26h3v1h-3zM41 26h1v1h-1zM62 26h1v1h-1zM37 27h1v1h-1zM39 27h1v1h-1zM58 27h1v1h-1zM63 27h1v1h-1zM30 28h2v1h-2zM37 28h1v1h-1zM60 28h1v1h-1zM34 29h1v1h-1zM38 29h2v1h-2zM57 29h1v1h-1zM62 29h1v1h-1zM65 29h1v1h-1zM67 29h1v1h-1zM30 30h1v1h-1zM44 30h1v1h-1zM56 30h1v1h-1zM35 31h1v1h-1zM63 31h1v1h-1zM21 32h1v1h-1zM27 32h1v1h-1zM35 32h1v1h-1zM38 32h1v1h-1zM43 32h1v1h-1zM60 32h1v1h-1zM25 33h1v1h-1zM29 33h1v1h-1zM35 33h1v1h-1zM39 33h1v1h-1zM58 33h1v1h-1zM29 34h2v1h-2zM33 34h1v1h-1zM60 34h1v1h-1zM4 35h1v1h-1zM12 35h1v1h-1zM30 35h1v1h-1zM7 36h1v1h-1zM9 36h2v1h-2zM14 36h2v1h-2zM29 36h1v1h-1zM37 36h1v1h-1zM43 36h1v1h-1zM7 37h1v1h-1zM14 37h1v1h-1zM5 38h1v1h-1zM9 38h1v1h-1zM12 38h1v1h-1zM26 38h2v1h-2zM34 38h1v1h-1zM38 38h1v1h-1zM42 38h1v1h-1zM6 39h2v1h-2zM12 39h1v1h-1zM34 39h1v1h-1zM39 39h1v1h-1zM41 39h1v1h-1zM3 40h2v1h-2zM14 40h1v1h-1zM39 40h1v1h-1zM3 41h2v1h-2zM10 41h1v1h-1zM13 41h1v1h-1zM22 41h1v1h-1zM27 41h1v1h-1zM33 41h1v1h-1zM35 41h1v1h-1zM47 41h2v1h-2zM52 41h1v1h-1zM3 42h1v1h-1zM6 42h1v1h-1zM11 42h1v1h-1zM14 42h1v1h-1zM21 42h1v1h-1zM30 42h2v1h-2zM33 42h1v1h-1zM45 42h1v1h-1zM4 43h2v1h-2zM27 43h1v1h-1zM53 43h1v1h-1zM4 44h1v1h-1zM9 44h2v1h-2zM14 44h1v1h-1zM19 44h1v1h-1zM46 44h1v1h-1zM11 45h1v1h-1zM52 45h1v1h-1zM5 46h1v1h-1zM10 46h1v1h-1zM13 46h1v1h-1zM15 46h1v1h-1zM26 46h1v1h-1zM35 46h1v1h-1zM43 46h1v1h-1zM47 46h1v1h-1zM3 47h1v1h-1zM11 47h1v1h-1zM13 47h1v1h-1zM20 47h1v1h-1zM24 47h1v1h-1zM52 47h1v1h-1zM3 48h1v1h-1zM7 48h4v1h-4zM12 48h1v1h-1zM45 48h1v1h-1zM51 48h1v1h-1zM2 49h1v1h-1zM5 49h1v1h-1zM11 49h1v1h-1zM6 50h1v1h-1zM18 50h1v1h-1zM10 51h1v1h-1zM13 51h1v1h-1zM21 51h1v1h-1zM16 52h1v1h-1zM23 52h1v1h-1zM26 52h1v1h-1zM32 52h1v1h-1zM0 53h1v1h-1zM8 53h1v1h-1zM17 53h1v1h-1zM25 53h1v1h-1zM27 53h1v1h-1zM29 53h1v1h-1zM1 54h1v1h-1zM5 54h2v1h-2zM9 54h1v1h-1zM22 54h1v1h-1zM28 54h1v1h-1zM19 55h1v1h-1zM26 55h1v1h-1zM29 55h1v1h-1zM31 55h1v1h-1zM18 56h1v1h-1zM20 56h1v1h-1zM22 56h1v1h-1zM32 56h1v1h-1zM11 57h1v1h-1zM13 57h1v1h-1zM19 57h1v1h-1zM21 57h1v1h-1zM4 58h1v1h-1zM24 58h2v1h-2zM29 58h1v1h-1zM14 59h1v1h-1zM17 59h2v1h-2zM20 59h1v1h-1zM28 59h1v1h-1zM31 59h1v1h-1zM4 60h1v1h-1zM7 60h1v1h-1zM12 60h1v1h-1zM23 60h1v1h-1zM27 60h2v1h-2zM10 61h1v1h-1zM15 61h1v1h-1zM20 61h1v1h-1zM24 61h1v1h-1zM26 61h1v1h-1zM28 61h1v1h-1zM8 62h1v1h-1zM22 62h2v1h-2zM4 63h1v1h-1zM12 63h1v1h-1zM18 63h1v1h-1zM22 63h1v1h-1zM30 63h1v1h-1zM6 64h1v1h-1zM13 64h1v1h-1zM22 64h1v1h-1zM28 64h1v1h-1zM0 65h1v1h-1zM9 65h1v1h-1zM16 65h1v1h-1zM18 65h1v1h-1zM14 66h1v1h-1zM17 66h1v1h-1zM6 67h1v1h-1zM9 67h1v1h-1zM16 67h1v1h-1z"/><path fill="#fff" fill-opacity="0.12" d="M48 1h1v1h-1zM51 1h1v1h-1zM47 2h1v1h-1zM50 2h2v1h-2zM53 2h1v1h-1zM33 4h1v1h-1zM35 4h1v1h-1zM37 4h1v1h-1zM41 4h2v1h-2zM45 4h1v1h-1zM52 4h2v1h-2zM60 4h1v1h-1zM57 5h1v1h-1zM36 6h1v1h-1zM39 6h1v1h-1zM42 6h1v1h-1zM61 6h1v1h-1zM34 7h1v1h-1zM41 7h2v1h-2zM61 7h1v1h-1zM38 9h1v1h-1zM58 9h1v1h-1zM61 9h1v1h-1zM42 10h1v1h-1zM63 10h2v1h-2zM37 11h1v1h-1zM41 11h1v1h-1zM67 12h1v1h-1zM53 13h1v1h-1zM25 14h1v1h-1zM47 14h1v1h-1zM65 14h3v1h-3zM43 15h1v1h-1zM46 15h1v1h-1zM64 15h2v1h-2zM67 15h1v1h-1zM23 16h1v1h-1zM49 16h1v1h-1zM51 16h2v1h-2zM65 16h2v1h-2zM49 17h1v1h-1zM51 18h1v1h-1zM62 18h1v1h-1zM65 18h1v1h-1zM67 18h1v1h-1zM19 19h1v1h-1zM21 19h3v1h-3zM25 19h1v1h-1zM45 19h2v1h-2zM52 19h1v1h-1zM63 19h1v1h-1zM46 20h1v1h-1zM52 20h2v1h-2zM63 20h1v1h-1zM65 20h1v1h-1zM65 21h1v1h-1zM48 22h1v1h-1zM64 22h1v1h-1zM36 23h2v1h-2zM39 23h1v1h-1zM48 23h1v1h-1zM51 23h2v1h-2zM58 23h1v1h-1zM63 23h1v1h-1zM28 24h1v1h-1zM34 24h2v1h-2zM41 24h1v1h-1zM51 24h2v1h-2zM57 24h1v1h-1zM60 24h1v1h-1zM29 25h1v1h-1zM44 25h1v1h-1zM59 25h1v1h-1zM61 25h1v1h-1zM40 26h1v1h-1zM42 26h1v1h-1zM56 26h1v1h-1zM61 26h1v1h-1zM63 26h1v1h-1zM27 27h1v1h-1zM35 27h2v1h-2zM61 27h1v1h-1zM66 27h1v1h-1zM28 28h1v1h-1zM35 28h1v1h-1zM42 28h1v1h-1zM57 28h1v1h-1zM62 28h1v1h-1zM67 28h1v1h-1zM28 29h2v1h-2zM40 29h1v1h-1zM44 29h1v1h-1zM56 29h1v1h-1zM61 29h1v1h-1zM63 29h2v1h-2zM27 30h1v1h-1zM34 30h1v1h-1zM39 30h1v1h-1zM41 30h1v1h-1zM63 30h1v1h-1zM27 31h1v1h-1zM30 31h1v1h-1zM56 31h1v1h-1zM59 31h1v1h-1zM23 32h1v1h-1zM40 32h1v1h-1zM42 32h1v1h-1zM44 32h1v1h-1zM58 32h1v1h-1zM22 33h1v1h-1zM28 33h1v1h-1zM31 33h1v1h-1zM34 33h1v1h-1zM56 33h1v1h-1zM63 33h1v1h-1zM20 34h1v1h-1zM25 34h1v1h-1zM31 34h1v1h-1zM59 34h1v1h-1zM62 34h1v1h-1zM11 35h1v1h-1zM13 35h1v1h-1zM22 35h1v1h-1zM31 35h1v1h-1zM8 36h1v1h-1zM11 36h1v1h-1zM22 36h1v1h-1zM26 36h1v1h-1zM31 36h1v1h-1zM34 36h1v1h-1zM38 36h1v1h-1zM8 37h2v1h-2zM15 37h1v1h-1zM26 37h1v1h-1zM28 37h2v1h-2zM31 37h1v1h-1zM20 38h1v1h-1zM30 38h2v1h-2zM33 38h1v1h-1zM35 38h1v1h-1zM9 39h1v1h-1zM15 39h1v1h-1zM35 39h1v1h-1zM37 39h1v1h-1zM6 40h1v1h-1zM10 40h2v1h-2zM53 41h1v1h-1zM7 42h1v1h-1zM9 42h1v1h-1zM15 42h1v1h-1zM49 42h1v1h-1zM51 42h1v1h-1zM15 43h1v1h-1zM20 43h1v1h-1zM34 43h1v1h-1zM52 43h1v1h-1zM5 44h1v1h-1zM11 44h1v1h-1zM23 44h1v1h-1zM25 44h2v1h-2zM30 44h1v1h-1zM49 44h1v1h-1zM55 44h1v1h-1zM19 45h1v1h-1zM23 45h1v1h-1zM28 45h1v1h-1zM34 45h1v1h-1zM54 45h1v1h-1zM11 46h2v1h-2zM16 46h1v1h-1zM22 46h1v1h-1zM28 46h1v1h-1zM33 46h1v1h-1zM9 47h1v1h-1zM15 47h1v1h-1zM51 47h1v1h-1zM27 48h1v1h-1zM30 48h1v1h-1zM33 48h2v1h-2zM46 48h1v1h-1zM49 48h1v1h-1zM1 49h1v1h-1zM6 49h1v1h-1zM14 49h1v1h-1zM16 49h1v1h-1zM3 50h1v1h-1zM11 50h1v1h-1zM2 51h1v1h-1zM17 51h2v1h-2zM22 51h1v1h-1zM30 51h1v1h-1zM0 52h1v1h-1zM5 52h1v1h-1zM9 52h1v1h-1zM30 52h2v1h-2zM9 53h1v1h-1zM20 53h1v1h-1zM10 54h1v1h-1zM17 54h1v1h-1zM30 54h1v1h-1zM25 56h1v1h-1zM27 56h1v1h-1zM4 57h1v1h-1zM24 57h1v1h-1zM29 57h1v1h-1zM10 58h1v1h-1zM17 58h1v1h-1zM26 58h1v1h-1zM32 58h1v1h-1zM5 59h1v1h-1zM7 59h1v1h-1zM9 59h1v1h-1zM23 59h1v1h-1zM25 59h1v1h-1zM29 59h2v1h-2zM31 60h2v1h-2zM16 61h1v1h-1zM27 61h1v1h-1zM29 61h1v1h-1zM0 62h4v1h-4zM13 62h1v1h-1zM16 62h2v1h-2zM20 62h1v1h-1zM29 62h1v1h-1zM3 63h1v1h-1zM7 63h1v1h-1zM16 63h1v1h-1zM29 63h1v1h-1zM31 63h1v1h-1zM5 64h1v1h-1zM7 64h2v1h-2zM15 64h1v1h-1zM11 65h1v1h-1zM14 65h1v1h-1zM2 66h1v1h-1zM8 66h1v1h-1zM0 67h2v1h-2zM7 67h1v1h-1zM13 67h2v1h-2z"/><path fill="#fff" fill-opacity="0.16" d="M61 4h1v1h-1zM64 4h1v1h-1zM63 5h1v1h-1zM64 6h1v1h-1zM57 7h1v1h-1zM62 7h2v1h-2zM64 8h1v1h-1zM60 9h1v1h-1zM63 9h1v1h-1zM60 10h1v1h-1zM44 13h1v1h-1zM49 13h1v1h-1zM46 14h1v1h-1zM53 14h1v1h-1zM44 15h1v1h-1zM47 15h2v1h-2zM46 16h1v1h-1zM45 17h1v1h-1zM52 17h2v1h-2zM44 18h1v1h-1zM49 18h1v1h-1zM51 19h1v1h-1zM48 20h1v1h-1zM48 21h2v1h-2zM52 21h1v1h-1zM33 22h1v1h-1zM36 22h1v1h-1zM49 22h2v1h-2zM34 23h2v1h-2zM38 23h1v1h-1zM40 23h1v1h-1zM42 23h2v1h-2zM40 24h1v1h-1zM43 24h2v1h-2zM53 24h1v1h-1zM40 25h1v1h-1zM39 28h1v1h-1zM44 28h1v1h-1zM36 29h2v1h-2zM36 31h1v1h-1zM26 32h1v1h-1zM33 32h1v1h-1zM37 32h1v1h-1zM26 33h1v1h-1zM33 33h1v1h-1zM36 33h1v1h-1zM38 33h1v1h-1zM20 35h1v1h-1zM23 36h1v1h-1zM23 37h1v1h-1zM35 37h1v1h-1zM22 39h1v1h-1zM20 40h1v1h-1zM31 40h1v1h-1zM24 41h1v1h-1zM32 43h1v1h-1zM20 44h1v1h-1zM27 45h1v1h-1zM30 46h1v1h-1zM29 47h1v1h-1zM21 48h1v1h-1zM8 50h1v1h-1zM16 50h1v1h-1zM13 52h1v1h-1zM3 53h1v1h-1zM14 53h1v1h-1zM4 54h1v1h-1zM7 54h1v1h-1zM4 55h1v1h-1zM1 56h1v1h-1zM3 56h2v1h-2zM7 56h1v1h-1zM16 56h2v1h-2zM5 57h1v1h-1zM7 57h1v1h-1zM1 58h1v1h-1zM5 58h2v1h-2zM8 58h1v1h-1zM11 58h1v1h-1zM14 58h1v1h-1zM11 59h1v1h-1zM13 59h1v1h-1zM1 60h1v1h-1zM15 60h1v1h-1zM17 60h1v1h-1zM5 61h1v1h-1zM1 63h1v1h-1zM15 63h1v1h-1zM4 64h1v1h-1zM9 64h2v1h-2z"/><path fill="#fff" fill-opacity="0.20" d="M49 14h1v1h-1zM50 16h1v1h-1zM43 17h1v1h-1zM48 17h1v1h-1zM51 17h1v1h-1zM43 18h1v1h-1zM47 18h1v1h-1zM47 19h1v1h-1zM49 19h1v1h-1zM51 20h1v1h-1zM50 21h1v1h-1zM53 21h1v1h-1zM34 22h1v1h-1zM37 22h1v1h-1zM44 22h1v1h-1zM51 22h1v1h-1zM44 23h1v1h-1zM49 23h1v1h-1zM48 24h1v1h-1zM50 24h1v1h-1zM34 25h1v1h-1zM37 25h1v1h-1zM34 26h1v1h-1zM43 26h1v1h-1zM33 27h2v1h-2zM42 27h1v1h-1zM33 28h1v1h-1zM38 28h1v1h-1zM43 28h1v1h-1zM40 30h1v1h-1zM43 30h1v1h-1zM33 31h2v1h-2zM39 31h1v1h-1zM43 31h1v1h-1zM34 32h1v1h-1zM36 32h1v1h-1zM41 33h1v1h-1zM10 49h1v1h-1zM0 50h1v1h-1zM9 50h1v1h-1zM4 51h2v1h-2zM12 52h1v1h-1zM14 52h1v1h-1zM0 54h1v1h-1zM18 54h1v1h-1zM6 55h1v1h-1zM1 57h1v1h-1zM2 58h2v1h-2zM9 58h1v1h-1zM3 59h1v1h-1zM6 59h1v1h-1zM12 59h1v1h-1zM10 60h1v1h-1zM9 61h1v1h-1zM6 62h1v1h-1zM2 63h1v1h-1zM5 63h1v1h-1zM13 63h1v1h-1zM17 63h1v1h-1zM3 65h1v1h-1zM5 65h1v1h-1zM10 66h1v1h-1zM15 66h1v1h-1zM8 67h1v1h-1zM12 67h1v1h-1zM17 67h1v1h-1z"/></g></svg><svg width="188.00" height="198.00" style="position:absolute;left:106.00px;top:210.00px"><line x1="0" y1="198.00" x2="188.00" y2="0" stroke="#1030ff" stroke-width="5.5" opacity="0.35"/><line x1="0" y1="198.00" x2="188.00" y2="0" stroke="#0858ff" stroke-width="3.2" opacity="0.8"/><line x1="0" y1="198.00" x2="188.00" y2="0" stroke="#00b0ff" stroke-width="1.7"/><path d="M1.4 196.5h0M4.1 193.6h0M6.9 190.7h0M9.7 187.8h0M12.4 184.9h0M15.2 182.0h0M18.0 179.1h0M20.7 176.2h0M23.5 173.2h0M26.3 170.3h0M29.0 167.4h0M31.8 164.5h0M34.6 161.6h0M37.3 158.7h0M40.1 155.8h0M42.9 152.9h0M45.6 150.0h0M48.4 147.0h0M53.9 141.2h0M56.7 138.3h0M62.2 132.5h0M65.0 129.6h0M67.7 126.7h0M70.5 123.8h0M76.0 117.9h0M78.8 115.0h0M81.6 112.1h0M84.3 109.2h0M89.9 103.4h0M92.6 100.5h0M95.4 97.5h0M98.1 94.6h0M100.9 91.7h0M103.7 88.8h0M106.4 85.9h0M109.2 83.0h0M112.0 80.1h0M114.7 77.2h0M117.5 74.2h0M120.3 71.3h0M123.0 68.4h0M125.8 65.5h0M128.6 62.6h0M131.3 59.7h0M134.1 56.8h0M136.9 53.9h0M139.6 51.0h0M142.4 48.0h0M145.1 45.1h0M147.9 42.2h0M150.7 39.3h0M153.4 36.4h0M156.2 33.5h0M159.0 30.6h0M161.7 27.7h0M164.5 24.8h0M167.3 21.8h0M170.0 18.9h0M172.8 16.0h0M178.3 10.2h0M181.1 7.3h0M183.9 4.4h0M186.6 1.5h0" stroke="#10f0ff" stroke-width="1.7" stroke-linecap="round"/><path d="M51.1 144.1h0M59.4 135.4h0M73.3 120.8h0M87.1 106.3h0M175.6 13.1h0" stroke="#70ff30" stroke-width="2.7" stroke-linecap="round"/></svg><div class="tl" style="left:106.0px;top:410.0px;width:20px;margin-left:-10px;text-align:center">1</div><div class="tl" style="left:83.0px;top:403.4px;width:20px;text-align:right">1</div><div class="tk" style="left:105.6px;top:208.0px;width:0.8px;height:2px"></div><div class="tk" style="left:105.6px;top:408.0px;width:0.8px;height:2px"></div><div class="tk" style="left:104.0px;top:407.6px;width:2px;height:0.8px"></div><div class="tk" style="left:294.0px;top:407.6px;width:2px;height:0.8px"></div><div class="tl" style="left:125.6px;top:410.0px;width:20px;margin-left:-10px;text-align:center">8</div><div class="tl" style="left:83.0px;top:382.7px;width:20px;text-align:right">8</div><div class="tk" style="left:125.2px;top:208.0px;width:0.8px;height:2px"></div><div class="tk" style="left:125.2px;top:408.0px;width:0.8px;height:2px"></div><div class="tk" style="left:104.0px;top:386.9px;width:2px;height:0.8px"></div><div class="tk" style="left:294.0px;top:386.9px;width:2px;height:0.8px"></div><div class="tl" style="left:145.2px;top:410.0px;width:20px;margin-left:-10px;text-align:center">15</div><div class="tl" style="left:83.0px;top:362.0px;width:20px;text-align:right">15</div><div class="tk" style="left:144.8px;top:208.0px;width:0.8px;height:2px"></div><div class="tk" style="left:144.8px;top:408.0px;width:0.8px;height:2px"></div><div class="tk" style="left:104.0px;top:366.2px;width:2px;height:0.8px"></div><div class="tk" style="left:294.0px;top:366.2px;width:2px;height:0.8px"></div><div class="tl" style="left:164.8px;top:410.0px;width:20px;margin-left:-10px;text-align:center">22</div><div class="tl" style="left:83.0px;top:341.2px;width:20px;text-align:right">22</div><div class="tk" style="left:164.4px;top:208.0px;width:0.8px;height:2px"></div><div class="tk" style="left:164.4px;top:408.0px;width:0.8px;height:2px"></div><div class="tk" style="left:104.0px;top:345.4px;width:2px;height:0.8px"></div><div class="tk" style="left:294.0px;top:345.4px;width:2px;height:0.8px"></div><div class="tl" style="left:184.5px;top:410.0px;width:20px;margin-left:-10px;text-align:center">29</div><div class="tl" style="left:83.0px;top:320.5px;width:20px;text-align:right">29</div><div class="tk" style="left:184.1px;top:208.0px;width:0.8px;height:2px"></div><div class="tk" style="left:184.1px;top:408.0px;width:0.8px;height:2px"></div><div class="tk" style="left:104.0px;top:324.7px;width:2px;height:0.8px"></div><div class="tk" style="left:294.0px;top:324.7px;width:2px;height:0.8px"></div><div class="tl" style="left:204.1px;top:410.0px;width:20px;margin-left:-10px;text-align:center">36</div><div class="tl" style="left:83.0px;top:299.8px;width:20px;text-align:right">36</div><div class="tk" style="left:203.7px;top:208.0px;width:0.8px;height:2px"></div><div class="tk" style="left:203.7px;top:408.0px;width:0.8px;height:2px"></div><div class="tk" style="left:104.0px;top:304.0px;width:2px;height:0.8px"></div><div class="tk" style="left:294.0px;top:304.0px;width:2px;height:0.8px"></div><div class="tl" style="left:223.7px;top:410.0px;width:20px;margin-left:-10px;text-align:center">43</div><div class="tl" style="left:83.0px;top:279.1px;width:20px;text-align:right">43</div><div class="tk" style="left:223.3px;top:208.0px;width:0.8px;height:2px"></div><div class="tk" style="left:223.3px;top:408.0px;width:0.8px;height:2px"></div><div class="tk" style="left:104.0px;top:283.3px;width:2px;height:0.8px"></div><div class="tk" style="left:294.0px;top:283.3px;width:2px;height:0.8px"></div><div class="tl" style="left:243.3px;top:410.0px;width:20px;margin-left:-10px;text-align:center">50</div><div class="tl" style="left:83.0px;top:258.4px;width:20px;text-align:right">50</div><div class="tk" style="left:242.9px;top:208.0px;width:0.8px;height:2px"></div><div class="tk" style="left:242.9px;top:408.0px;width:0.8px;height:2px"></div><div class="tk" style="left:104.0px;top:262.6px;width:2px;height:0.8px"></div><div class="tk" style="left:294.0px;top:262.6px;width:2px;height:0.8px"></div><div class="tl" style="left:262.9px;top:410.0px;width:20px;margin-left:-10px;text-align:center">57</div><div class="tl" style="left:83.0px;top:237.7px;width:20px;text-align:right">57</div><div class="tk" style="left:262.5px;top:208.0px;width:0.8px;height:2px"></div><div class="tk" style="left:262.5px;top:408.0px;width:0.8px;height:2px"></div><div class="tk" style="left:104.0px;top:241.9px;width:2px;height:0.8px"></div><div class="tk" style="left:294.0px;top:241.9px;width:2px;height:0.8px"></div><div class="tl" style="left:282.5px;top:410.0px;width:20px;margin-left:-10px;text-align:center">64</div><div class="tl" style="left:83.0px;top:216.9px;width:20px;text-align:right">64</div><div class="tk" style="left:282.1px;top:208.0px;width:0.8px;height:2px"></div><div class="tk" style="left:282.1px;top:408.0px;width:0.8px;height:2px"></div><div class="tk" style="left:104.0px;top:221.1px;width:2px;height:0.8px"></div><div class="tk" style="left:294.0px;top:221.1px;width:2px;height:0.8px"></div><svg style="position:absolute;left:301.00px;top:210.00px" width="7.00" height="198.00"><defs><linearGradient id="gPCLR" x1="0" y1="0" x2="0" y2="1"><stop offset="0.000" stop-color="#ff0000"/><stop offset="0.070" stop-color="#ff4000"/><stop offset="0.160" stop-color="#ffa000"/><stop offset="0.260" stop-color="#ffff00"/><stop offset="0.360" stop-color="#aaff00"/><stop offset="0.470" stop-color="#00ff00"/><stop offset="0.530" stop-color="#00ff96"/><stop offset="0.600" stop-color="#00f0ff"/><stop offset="0.660" stop-color="#00aaff"/><stop offset="0.740" stop-color="#0050ff"/><stop offset="0.860" stop-color="#0a00ff"/><stop offset="0.940" stop-color="#280096"/><stop offset="1.000" stop-color="#220046"/></linearGradient></defs><rect width="100%" height="100%" fill="url(#gPCLR)"/></svg><div class="cl" style="left:312.8px;top:403.8px">0.0000</div><div class="tk" style="left:308.0px;top:407.6px;width:2px;height:0.8px"></div><div class="cl" style="left:312.8px;top:384.0px">0.5408</div><div class="tk" style="left:308.0px;top:387.8px;width:2px;height:0.8px"></div><div class="cl" style="left:312.8px;top:364.2px">1.0815</div><div class="tk" style="left:308.0px;top:368.0px;width:2px;height:0.8px"></div><div class="cl" style="left:312.8px;top:344.4px">1.6223</div><div class="tk" style="left:308.0px;top:348.2px;width:2px;height:0.8px"></div><div class="cl" style="left:312.8px;top:324.6px">2.1630</div><div class="tk" style="left:308.0px;top:328.4px;width:2px;height:0.8px"></div><div class="cl" style="left:312.8px;top:304.8px">2.7038</div><div class="tk" style="left:308.0px;top:308.6px;width:2px;height:0.8px"></div><div class="cl" style="left:312.8px;top:285.0px">3.2445</div><div class="tk" style="left:308.0px;top:288.8px;width:2px;height:0.8px"></div><div class="cl" style="left:312.8px;top:265.2px">3.7853</div><div class="tk" style="left:308.0px;top:269.0px;width:2px;height:0.8px"></div><div class="cl" style="left:312.8px;top:245.4px">4.3260</div><div class="tk" style="left:308.0px;top:249.2px;width:2px;height:0.8px"></div><div class="cl" style="left:312.8px;top:225.6px">4.8668</div><div class="tk" style="left:308.0px;top:229.4px;width:2px;height:0.8px"></div><div class="cl" style="left:312.8px;top:205.8px">5.4076</div><div class="tk" style="left:308.0px;top:209.6px;width:2px;height:0.8px"></div><div class="rl" style="left:77.0px;top:213.5px;color:#f01010">B</div><div class="rl" style="left:75.5px;top:267.2px;color:#3f7f1f">A</div><div class="rl" style="left:77.0px;top:311.2px;color:#f01010">B</div><div class="rl" style="left:77.0px;top:360.6px;color:#1a72c0">C</div><div class="bl" style="left:106.0px;top:350.2px;width:53.7px;height:1.3px"></div><div class="bl" style="left:158.4px;top:350.2px;width:1.3px;height:57.8px"></div><div class="bl" style="left:106.0px;top:305.6px;width:95.7px;height:1.3px"></div><div class="bl" style="left:200.3px;top:305.6px;width:1.3px;height:102.5px"></div><div class="bl" style="left:106.0px;top:238.5px;width:161.0px;height:1.3px"></div><div class="bl" style="left:265.7px;top:238.5px;width:1.3px;height:169.5px"></div><div class="ttl" style="left:380.0px;top:191.0px">PCLM1</div><svg width="195.00" height="193.00" viewBox="0 0 90 90" preserveAspectRatio="none" style="position:absolute;left:372.00px;top:211.00px"><defs><filter id="cmPCLM1" x="0" y="0" width="100%" height="100%" color-interpolation-filters="sRGB"><feGaussianBlur stdDeviation="0.55" edgeMode="duplicate"/><feComponentTransfer><feFuncR type="table" tableValues="0.133 0.141 0.153 0.133 0.098 0.063 0.035 0.027 0.020 0.012 0.004 0.000 0.000 0.000 0.000 0.000 0.000 0.000 0.000 0.000 0.000 0.000 0.122 0.275 0.424 0.576 0.698 0.784 0.867 0.949 1.000 1.000 1.000 1.000 1.000 1.000 1.000 1.000 1.000 1.000 1.000"/><feFuncG type="table" tableValues="0.000 0.000 0.000 0.000 0.000 0.000 0.027 0.090 0.157 0.224 0.286 0.380 0.490 0.600 0.714 0.827 0.941 0.961 0.984 1.000 1.000 1.000 1.000 1.000 1.000 1.000 1.000 1.000 1.000 1.000 0.965 0.871 0.776 0.682 0.584 0.482 0.376 0.271 0.180 0.090 0.000"/><feFuncB type="table" tableValues="0.275 0.404 0.537 0.667 0.792 0.922 1.000 1.000 1.000 1.000 1.000 1.000 1.000 1.000 1.000 1.000 1.000 0.855 0.706 0.541 0.294 0.047 0.000 0.000 0.000 0.000 0.000 0.000 0.000 0.000 0.000 0.000 0.000 0.000 0.000 0.000 0.000 0.000 0.000 0.000 0.000"/><feFuncA type="linear" slope="0" intercept="1"/></feComponentTransfer></filter></defs><g filter="url(#cmPCLM1)"><rect width="90" height="90" fill="#000"/><path fill="#fff" fill-opacity="0.04" d="M83 1h1v1h-1zM77 2h1v1h-1zM80 2h1v1h-1zM86 2h1v1h-1zM56 5h1v1h-1zM78 5h1v1h-1zM88 5h1v1h-1zM59 7h1v1h-1zM64 7h1v1h-1zM66 7h1v1h-1zM77 7h1v1h-1zM58 8h1v1h-1zM62 8h1v1h-1zM86 8h1v1h-1zM66 9h1v1h-1zM56 10h1v1h-1zM62 10h1v1h-1zM77 10h1v1h-1zM80 10h1v1h-1zM75 11h2v1h-2zM78 11h3v1h-3zM81 12h1v1h-1zM86 15h1v1h-1zM57 17h1v1h-1zM66 17h1v1h-1zM72 17h1v1h-1zM58 18h2v1h-2zM63 18h1v1h-1zM63 19h1v1h-1zM59 21h1v1h-1zM72 21h2v1h-2zM83 22h1v1h-1zM62 23h1v1h-1zM47 24h2v1h-2zM73 24h1v1h-1zM80 24h1v1h-1zM83 24h1v1h-1zM49 25h1v1h-1zM41 26h1v1h-1zM47 26h1v1h-1zM50 26h1v1h-1zM59 26h1v1h-1zM61 26h1v1h-1zM71 26h1v1h-1zM81 26h1v1h-1zM72 27h1v1h-1zM82 27h1v1h-1zM57 28h1v1h-1zM66 29h1v1h-1zM41 30h1v1h-1zM64 30h1v1h-1zM84 30h1v1h-1zM60 31h1v1h-1zM79 31h1v1h-1zM84 31h1v1h-1zM35 32h1v1h-1zM39 32h1v1h-1zM72 32h1v1h-1zM83 32h1v1h-1zM63 34h1v1h-1zM66 34h1v1h-1zM63 36h1v1h-1zM65 36h1v1h-1zM22 38h1v1h-1zM62 40h1v1h-1zM23 41h1v1h-1zM23 43h1v1h-1zM23 44h1v1h-1zM25 46h1v1h-1zM59 52h1v1h-1zM59 53h1v1h-1zM60 54h1v1h-1zM7 56h1v1h-1zM9 56h1v1h-1zM18 56h1v1h-1zM21 56h2v1h-2zM58 56h1v1h-1zM4 57h1v1h-1zM10 57h1v1h-1zM15 57h1v1h-1zM8 58h2v1h-2zM22 58h1v1h-1zM22 59h1v1h-1zM4 60h1v1h-1zM9 60h1v1h-1zM15 60h1v1h-1zM23 60h1v1h-1zM32 60h1v1h-1zM7 62h1v1h-1zM12 62h1v1h-1zM20 62h1v1h-1zM32 62h1v1h-1zM4 63h1v1h-1zM17 63h1v1h-1zM26 63h1v1h-1zM29 63h1v1h-1zM44 64h1v1h-1zM48 64h1v1h-1zM52 64h1v1h-1zM21 65h1v1h-1zM47 65h1v1h-1zM49 65h2v1h-2zM15 66h1v1h-1zM22 66h1v1h-1zM30 66h1v1h-1zM43 66h1v1h-1zM48 66h2v1h-2zM10 68h1v1h-1zM11 69h1v1h-1zM28 69h1v1h-1zM31 70h1v1h-1zM11 72h1v1h-1zM28 72h1v1h-1zM32 73h1v1h-1zM26 74h1v1h-1zM26 77h1v1h-1zM30 77h1v1h-1zM17 78h1v1h-1zM1 79h1v1h-1zM33 79h1v1h-1zM31 80h1v1h-1zM17 81h1v1h-1zM4 82h1v1h-1zM20 82h1v1h-1zM26 82h1v1h-1zM0 84h1v1h-1zM4 88h1v1h-1z"/><path fill="#fff" fill-opacity="0.08" d="M73 1h2v1h-2zM80 1h1v1h-1zM85 1h1v1h-1zM78 2h1v1h-1zM89 2h1v1h-1zM77 3h3v1h-3zM81 3h1v1h-1zM83 3h1v1h-1zM85 3h1v1h-1zM80 4h1v1h-1zM82 4h1v1h-1zM87 4h1v1h-1zM60 5h1v1h-1zM67 5h1v1h-1zM64 6h1v1h-1zM77 6h1v1h-1zM81 6h1v1h-1zM84 6h1v1h-1zM76 7h1v1h-1zM79 7h1v1h-1zM85 7h1v1h-1zM57 8h1v1h-1zM75 8h1v1h-1zM77 8h3v1h-3zM83 8h1v1h-1zM56 9h1v1h-1zM77 9h1v1h-1zM83 9h1v1h-1zM65 10h1v1h-1zM73 10h1v1h-1zM78 10h1v1h-1zM59 11h1v1h-1zM61 11h1v1h-1zM88 11h1v1h-1zM83 12h1v1h-1zM86 12h1v1h-1zM73 13h1v1h-1zM81 14h1v1h-1zM84 14h2v1h-2zM76 15h1v1h-1zM81 15h1v1h-1zM55 16h1v1h-1zM62 16h1v1h-1zM68 16h1v1h-1zM75 16h1v1h-1zM82 16h1v1h-1zM57 18h1v1h-1zM60 18h1v1h-1zM55 19h1v1h-1zM59 19h2v1h-2zM71 19h1v1h-1zM56 20h1v1h-1zM60 20h1v1h-1zM57 21h1v1h-1zM62 21h1v1h-1zM66 21h2v1h-2zM60 22h1v1h-1zM64 22h2v1h-2zM69 22h2v1h-2zM55 23h1v1h-1zM57 23h1v1h-1zM64 23h2v1h-2zM70 23h2v1h-2zM83 23h1v1h-1zM49 24h1v1h-1zM51 24h3v1h-3zM59 24h1v1h-1zM68 24h1v1h-1zM72 24h1v1h-1zM61 25h1v1h-1zM63 25h1v1h-1zM66 25h1v1h-1zM69 25h1v1h-1zM78 25h1v1h-1zM34 26h1v1h-1zM36 26h1v1h-1zM38 26h1v1h-1zM46 26h1v1h-1zM53 26h1v1h-1zM57 26h1v1h-1zM80 26h1v1h-1zM83 26h1v1h-1zM34 27h1v1h-1zM53 27h1v1h-1zM68 27h1v1h-1zM84 27h1v1h-1zM37 28h1v1h-1zM40 28h2v1h-2zM65 28h2v1h-2zM71 28h2v1h-2zM41 29h1v1h-1zM62 29h1v1h-1zM64 29h2v1h-2zM84 29h1v1h-1zM38 30h1v1h-1zM42 30h1v1h-1zM59 30h1v1h-1zM66 30h1v1h-1zM82 30h1v1h-1zM34 31h1v1h-1zM38 31h2v1h-2zM56 31h1v1h-1zM66 31h1v1h-1zM81 31h1v1h-1zM36 32h1v1h-1zM40 32h1v1h-1zM58 32h1v1h-1zM61 32h1v1h-1zM69 32h1v1h-1zM73 32h1v1h-1zM80 32h1v1h-1zM84 32h1v1h-1zM65 33h1v1h-1zM78 33h2v1h-2zM81 33h1v1h-1zM84 33h1v1h-1zM50 34h1v1h-1zM57 34h1v1h-1zM64 34h1v1h-1zM70 34h1v1h-1zM47 35h2v1h-2zM63 35h2v1h-2zM63 37h1v1h-1zM24 38h1v1h-1zM44 38h1v1h-1zM48 38h1v1h-1zM55 38h1v1h-1zM63 38h1v1h-1zM22 39h1v1h-1zM51 39h2v1h-2zM62 39h1v1h-1zM23 40h2v1h-2zM49 40h1v1h-1zM22 41h1v1h-1zM55 41h1v1h-1zM63 41h1v1h-1zM45 42h1v1h-1zM50 42h2v1h-2zM64 42h1v1h-1zM25 43h1v1h-1zM35 43h2v1h-2zM65 43h1v1h-1zM33 44h1v1h-1zM43 44h1v1h-1zM50 44h1v1h-1zM25 45h1v1h-1zM35 45h2v1h-2zM34 46h2v1h-2zM33 47h1v1h-1zM61 47h1v1h-1zM38 48h1v1h-1zM40 48h1v1h-1zM33 49h1v1h-1zM35 49h1v1h-1zM37 49h1v1h-1zM43 49h1v1h-1zM37 50h1v1h-1zM42 50h2v1h-2zM45 50h1v1h-1zM59 50h1v1h-1zM58 51h1v1h-1zM42 52h1v1h-1zM60 52h1v1h-1zM43 53h1v1h-1zM45 53h1v1h-1zM46 54h1v1h-1zM62 54h1v1h-1zM33 55h1v1h-1zM39 55h1v1h-1zM46 55h1v1h-1zM57 55h1v1h-1zM62 55h1v1h-1zM8 56h1v1h-1zM10 56h1v1h-1zM15 56h1v1h-1zM19 56h1v1h-1zM28 56h1v1h-1zM34 56h1v1h-1zM37 56h1v1h-1zM61 56h1v1h-1zM16 57h1v1h-1zM18 57h1v1h-1zM25 57h1v1h-1zM31 57h1v1h-1zM2 58h1v1h-1zM10 58h2v1h-2zM15 58h2v1h-2zM18 58h1v1h-1zM21 58h1v1h-1zM30 58h3v1h-3zM4 59h1v1h-1zM9 59h1v1h-1zM18 59h1v1h-1zM27 59h1v1h-1zM29 59h1v1h-1zM8 60h1v1h-1zM18 60h1v1h-1zM29 60h3v1h-3zM4 61h1v1h-1zM6 61h2v1h-2zM13 61h1v1h-1zM16 61h1v1h-1zM26 61h1v1h-1zM27 62h1v1h-1zM25 63h1v1h-1zM32 63h1v1h-1zM26 64h1v1h-1zM45 64h1v1h-1zM14 65h1v1h-1zM23 65h1v1h-1zM45 65h1v1h-1zM48 65h1v1h-1zM0 66h1v1h-1zM17 66h2v1h-2zM20 66h1v1h-1zM28 66h1v1h-1zM46 66h1v1h-1zM50 66h1v1h-1zM53 66h2v1h-2zM15 67h1v1h-1zM18 67h1v1h-1zM44 67h1v1h-1zM46 67h2v1h-2zM49 67h2v1h-2zM26 68h2v1h-2zM5 69h1v1h-1zM7 69h1v1h-1zM24 69h1v1h-1zM27 69h1v1h-1zM1 70h1v1h-1zM9 70h1v1h-1zM12 70h1v1h-1zM15 70h1v1h-1zM22 70h3v1h-3zM26 70h1v1h-1zM30 70h1v1h-1zM33 70h1v1h-1zM2 71h1v1h-1zM10 71h1v1h-1zM17 71h1v1h-1zM21 71h1v1h-1zM27 71h3v1h-3zM32 71h1v1h-1zM2 72h1v1h-1zM8 72h2v1h-2zM12 72h1v1h-1zM16 72h1v1h-1zM32 72h1v1h-1zM1 73h2v1h-2zM11 73h1v1h-1zM13 73h1v1h-1zM16 73h2v1h-2zM19 73h1v1h-1zM23 73h1v1h-1zM0 74h1v1h-1zM9 74h1v1h-1zM12 74h1v1h-1zM15 74h1v1h-1zM18 74h2v1h-2zM27 74h1v1h-1zM31 74h1v1h-1zM14 75h1v1h-1zM18 75h1v1h-1zM20 75h1v1h-1zM28 75h1v1h-1zM30 75h1v1h-1zM11 76h1v1h-1zM24 76h1v1h-1zM26 76h1v1h-1zM32 76h1v1h-1zM8 77h1v1h-1zM10 77h1v1h-1zM18 77h1v1h-1zM27 77h1v1h-1zM9 78h1v1h-1zM21 78h1v1h-1zM26 78h1v1h-1zM33 78h1v1h-1zM13 79h1v1h-1zM30 79h1v1h-1zM8 80h1v1h-1zM13 80h1v1h-1zM26 80h1v1h-1zM28 80h1v1h-1zM30 80h1v1h-1zM2 81h1v1h-1zM10 81h1v1h-1zM12 81h1v1h-1zM15 81h1v1h-1zM24 81h1v1h-1zM26 81h1v1h-1zM28 81h1v1h-1zM30 81h1v1h-1zM0 82h1v1h-1zM6 82h1v1h-1zM11 82h1v1h-1zM17 82h1v1h-1zM21 82h1v1h-1zM23 82h2v1h-2zM28 82h1v1h-1zM32 82h1v1h-1zM0 83h1v1h-1zM9 83h2v1h-2zM13 83h1v1h-1zM21 83h1v1h-1zM27 83h1v1h-1zM33 83h1v1h-1zM5 84h1v1h-1zM7 84h1v1h-1zM14 84h1v1h-1zM30 84h1v1h-1zM5 85h1v1h-1zM9 85h1v1h-1zM31 85h1v1h-1zM33 85h1v1h-1zM10 86h1v1h-1zM32 86h2v1h-2zM28 87h1v1h-1zM3 88h1v1h-1zM7 88h1v1h-1zM12 88h2v1h-2zM17 88h1v1h-1zM20 88h1v1h-1zM18 89h1v1h-1zM22 89h1v1h-1z"/><path fill="#fff" fill-opacity="0.12" d="M73 0h1v1h-1zM85 0h1v1h-1zM89 1h1v1h-1zM82 2h1v1h-1zM85 2h1v1h-1zM87 2h1v1h-1zM82 3h1v1h-1zM86 3h1v1h-1zM77 4h1v1h-1zM89 4h1v1h-1zM74 5h1v1h-1zM76 5h1v1h-1zM85 5h1v1h-1zM57 6h1v1h-1zM74 6h1v1h-1zM82 6h1v1h-1zM85 6h2v1h-2zM58 7h1v1h-1zM63 7h1v1h-1zM74 7h1v1h-1zM84 7h1v1h-1zM73 8h1v1h-1zM76 8h1v1h-1zM81 8h1v1h-1zM87 8h1v1h-1zM58 9h1v1h-1zM63 9h1v1h-1zM88 9h1v1h-1zM84 10h1v1h-1zM77 11h1v1h-1zM82 11h1v1h-1zM77 12h2v1h-2zM76 13h1v1h-1zM82 13h1v1h-1zM84 13h1v1h-1zM89 13h1v1h-1zM73 14h2v1h-2zM82 14h1v1h-1zM73 15h1v1h-1zM79 15h1v1h-1zM82 15h1v1h-1zM87 15h1v1h-1zM89 15h1v1h-1zM60 16h1v1h-1zM66 16h2v1h-2zM69 16h1v1h-1zM78 16h1v1h-1zM86 16h1v1h-1zM61 17h3v1h-3zM68 18h1v1h-1zM65 19h1v1h-1zM72 19h1v1h-1zM61 20h1v1h-1zM70 20h1v1h-1zM72 20h1v1h-1zM57 22h1v1h-1zM82 22h1v1h-1zM84 22h1v1h-1zM47 23h1v1h-1zM49 23h1v1h-1zM53 23h1v1h-1zM56 23h1v1h-1zM55 24h1v1h-1zM60 24h3v1h-3zM82 24h1v1h-1zM52 25h1v1h-1zM62 25h1v1h-1zM65 25h1v1h-1zM71 25h1v1h-1zM79 25h1v1h-1zM37 26h1v1h-1zM68 26h1v1h-1zM78 26h1v1h-1zM82 26h1v1h-1zM39 27h1v1h-1zM48 27h1v1h-1zM54 27h1v1h-1zM64 27h1v1h-1zM66 27h1v1h-1zM71 27h1v1h-1zM33 28h1v1h-1zM36 28h1v1h-1zM42 28h1v1h-1zM64 28h1v1h-1zM67 28h1v1h-1zM34 29h2v1h-2zM39 29h1v1h-1zM42 29h1v1h-1zM58 29h1v1h-1zM69 29h1v1h-1zM83 29h1v1h-1zM35 30h1v1h-1zM56 30h1v1h-1zM72 30h1v1h-1zM36 31h1v1h-1zM42 31h1v1h-1zM58 31h1v1h-1zM69 31h1v1h-1zM71 31h1v1h-1zM33 32h2v1h-2zM56 32h1v1h-1zM63 32h1v1h-1zM66 32h1v1h-1zM61 33h1v1h-1zM69 33h1v1h-1zM71 33h1v1h-1zM45 34h2v1h-2zM61 34h1v1h-1zM65 34h1v1h-1zM69 34h1v1h-1zM22 35h1v1h-1zM46 35h1v1h-1zM53 35h1v1h-1zM22 36h1v1h-1zM44 36h1v1h-1zM55 36h1v1h-1zM62 36h1v1h-1zM25 37h1v1h-1zM48 37h1v1h-1zM62 37h1v1h-1zM64 37h1v1h-1zM23 38h1v1h-1zM46 38h2v1h-2zM53 38h1v1h-1zM64 38h1v1h-1zM24 39h1v1h-1zM44 39h1v1h-1zM49 39h2v1h-2zM55 39h1v1h-1zM45 40h1v1h-1zM47 40h1v1h-1zM50 40h1v1h-1zM65 40h1v1h-1zM25 41h1v1h-1zM46 41h1v1h-1zM49 41h1v1h-1zM65 41h1v1h-1zM22 42h1v1h-1zM48 42h1v1h-1zM54 42h1v1h-1zM65 42h1v1h-1zM43 43h1v1h-1zM48 43h2v1h-2zM52 43h1v1h-1zM62 43h1v1h-1zM25 44h1v1h-1zM39 44h1v1h-1zM41 44h1v1h-1zM44 44h2v1h-2zM49 44h1v1h-1zM54 44h1v1h-1zM24 45h1v1h-1zM34 45h1v1h-1zM48 45h1v1h-1zM50 45h4v1h-4zM55 45h1v1h-1zM38 46h1v1h-1zM45 46h1v1h-1zM35 47h1v1h-1zM44 47h1v1h-1zM37 48h1v1h-1zM39 48h1v1h-1zM58 48h1v1h-1zM57 49h3v1h-3zM35 50h2v1h-2zM39 50h1v1h-1zM46 50h1v1h-1zM57 50h1v1h-1zM61 50h3v1h-3zM33 51h1v1h-1zM35 51h1v1h-1zM45 51h1v1h-1zM62 51h1v1h-1zM41 52h1v1h-1zM43 52h3v1h-3zM58 52h1v1h-1zM37 53h2v1h-2zM40 53h1v1h-1zM58 53h1v1h-1zM61 53h1v1h-1zM36 54h1v1h-1zM40 54h1v1h-1zM43 54h1v1h-1zM61 54h1v1h-1zM37 55h2v1h-2zM40 55h2v1h-2zM59 55h1v1h-1zM4 56h2v1h-2zM14 56h1v1h-1zM26 56h1v1h-1zM33 56h1v1h-1zM43 56h3v1h-3zM59 56h1v1h-1zM62 56h1v1h-1zM2 57h1v1h-1zM7 57h2v1h-2zM11 57h1v1h-1zM13 57h1v1h-1zM22 57h1v1h-1zM28 57h1v1h-1zM3 58h1v1h-1zM14 59h1v1h-1zM20 59h1v1h-1zM25 59h2v1h-2zM2 60h1v1h-1zM25 60h1v1h-1zM5 61h1v1h-1zM19 61h3v1h-3zM31 61h1v1h-1zM4 62h1v1h-1zM11 62h1v1h-1zM25 62h1v1h-1zM28 62h1v1h-1zM11 63h1v1h-1zM15 63h1v1h-1zM18 63h1v1h-1zM23 63h1v1h-1zM33 63h1v1h-1zM31 64h1v1h-1zM46 64h1v1h-1zM53 64h1v1h-1zM13 65h1v1h-1zM17 65h2v1h-2zM22 65h1v1h-1zM52 65h2v1h-2zM6 66h2v1h-2zM9 66h2v1h-2zM14 66h1v1h-1zM19 66h1v1h-1zM23 66h1v1h-1zM0 67h1v1h-1zM2 67h1v1h-1zM11 67h1v1h-1zM19 67h1v1h-1zM33 67h1v1h-1zM2 68h2v1h-2zM16 68h1v1h-1zM23 68h1v1h-1zM2 69h3v1h-3zM6 69h1v1h-1zM14 69h1v1h-1zM16 69h1v1h-1zM19 69h1v1h-1zM22 69h1v1h-1zM26 69h1v1h-1zM17 70h1v1h-1zM13 71h1v1h-1zM15 71h1v1h-1zM22 71h1v1h-1zM24 71h1v1h-1zM30 71h1v1h-1zM33 71h1v1h-1zM1 72h1v1h-1zM22 72h1v1h-1zM29 72h1v1h-1zM21 73h1v1h-1zM28 73h1v1h-1zM30 73h1v1h-1zM8 74h1v1h-1zM10 74h1v1h-1zM22 74h1v1h-1zM30 74h1v1h-1zM1 75h1v1h-1zM5 75h1v1h-1zM21 75h1v1h-1zM23 75h1v1h-1zM27 75h1v1h-1zM7 76h2v1h-2zM0 77h2v1h-2zM9 77h1v1h-1zM17 77h1v1h-1zM21 77h1v1h-1zM33 77h1v1h-1zM4 78h2v1h-2zM7 78h2v1h-2zM16 78h1v1h-1zM23 78h1v1h-1zM11 79h1v1h-1zM10 80h1v1h-1zM16 81h1v1h-1zM20 81h1v1h-1zM23 81h1v1h-1zM2 82h1v1h-1zM10 82h1v1h-1zM16 82h1v1h-1zM4 83h1v1h-1zM20 83h1v1h-1zM3 84h1v1h-1zM6 84h1v1h-1zM10 84h1v1h-1zM12 84h1v1h-1zM15 84h1v1h-1zM21 84h1v1h-1zM23 84h2v1h-2zM29 84h1v1h-1zM0 85h1v1h-1zM3 85h1v1h-1zM11 85h1v1h-1zM23 85h1v1h-1zM29 85h1v1h-1zM2 86h1v1h-1zM5 86h2v1h-2zM15 86h1v1h-1zM26 86h2v1h-2zM30 86h1v1h-1zM4 87h1v1h-1zM6 87h1v1h-1zM14 87h1v1h-1zM6 88h1v1h-1zM0 89h1v1h-1zM13 89h1v1h-1zM15 89h1v1h-1z"/><path fill="#fff" fill-opacity="0.16" d="M74 0h1v1h-1zM79 0h1v1h-1zM87 1h1v1h-1zM73 2h1v1h-1zM75 3h2v1h-2zM78 7h1v1h-1zM85 8h1v1h-1zM81 11h1v1h-1zM85 11h1v1h-1zM74 12h1v1h-1zM77 14h1v1h-1zM88 15h1v1h-1zM64 16h1v1h-1zM67 17h1v1h-1zM66 18h2v1h-2zM70 18h1v1h-1zM58 19h1v1h-1zM58 20h1v1h-1zM65 20h1v1h-1zM55 22h1v1h-1zM59 22h1v1h-1zM58 23h1v1h-1zM55 25h1v1h-1zM72 25h1v1h-1zM63 26h1v1h-1zM69 28h1v1h-1zM55 32h1v1h-1zM53 34h1v1h-1zM55 34h1v1h-1zM67 34h1v1h-1zM73 34h1v1h-1zM45 35h1v1h-1zM46 36h1v1h-1zM52 36h1v1h-1zM44 37h1v1h-1zM49 37h1v1h-1zM54 37h2v1h-2zM49 38h1v1h-1zM54 38h1v1h-1zM46 39h1v1h-1zM48 39h1v1h-1zM53 39h1v1h-1zM53 40h1v1h-1zM53 41h2v1h-2zM44 42h1v1h-1zM41 43h1v1h-1zM55 43h1v1h-1zM38 44h1v1h-1zM48 44h1v1h-1zM52 44h2v1h-2zM33 45h1v1h-1zM40 45h2v1h-2zM46 45h1v1h-1zM54 45h1v1h-1zM37 46h1v1h-1zM39 46h1v1h-1zM42 46h1v1h-1zM34 47h1v1h-1zM40 47h1v1h-1zM45 47h2v1h-2zM35 48h1v1h-1zM41 48h1v1h-1zM38 49h1v1h-1zM42 49h1v1h-1zM38 50h1v1h-1zM41 50h1v1h-1zM34 51h1v1h-1zM36 51h1v1h-1zM38 51h1v1h-1zM41 51h1v1h-1zM35 52h1v1h-1zM33 53h2v1h-2zM46 53h1v1h-1zM44 54h1v1h-1zM42 55h1v1h-1zM40 56h1v1h-1zM29 57h1v1h-1zM28 63h1v1h-1zM7 65h1v1h-1zM2 66h1v1h-1zM16 66h1v1h-1zM1 67h1v1h-1zM4 67h1v1h-1zM7 67h2v1h-2zM16 67h1v1h-1zM20 67h1v1h-1zM7 68h1v1h-1zM15 68h1v1h-1zM18 68h1v1h-1zM22 68h1v1h-1zM12 69h1v1h-1zM18 69h1v1h-1zM20 69h2v1h-2zM3 70h2v1h-2zM16 70h1v1h-1zM20 70h1v1h-1zM11 71h2v1h-2zM14 71h1v1h-1zM0 72h1v1h-1zM3 72h1v1h-1zM15 72h1v1h-1zM24 72h1v1h-1zM3 73h1v1h-1zM6 73h1v1h-1zM8 73h1v1h-1zM10 73h1v1h-1zM15 73h1v1h-1zM2 74h1v1h-1zM16 74h1v1h-1zM21 74h1v1h-1zM2 75h1v1h-1zM4 75h1v1h-1zM12 75h1v1h-1zM19 75h1v1h-1zM9 76h1v1h-1zM15 76h1v1h-1zM21 76h2v1h-2zM11 77h1v1h-1zM13 77h1v1h-1zM23 77h1v1h-1zM24 78h1v1h-1zM0 79h1v1h-1zM5 79h1v1h-1zM10 79h1v1h-1zM24 79h1v1h-1zM11 80h1v1h-1zM15 80h1v1h-1zM20 80h1v1h-1zM18 81h1v1h-1zM3 82h1v1h-1zM7 82h1v1h-1zM9 82h1v1h-1zM12 82h1v1h-1zM14 82h1v1h-1zM12 83h1v1h-1zM16 83h1v1h-1zM18 83h1v1h-1zM22 83h1v1h-1zM20 84h1v1h-1zM22 84h1v1h-1zM1 85h1v1h-1zM12 85h2v1h-2zM16 85h1v1h-1zM1 86h1v1h-1zM3 86h1v1h-1zM7 86h1v1h-1zM14 86h1v1h-1zM24 86h1v1h-1zM9 87h1v1h-1zM11 87h1v1h-1zM17 87h1v1h-1zM22 87h1v1h-1zM8 88h1v1h-1zM23 89h1v1h-1z"/><path fill="#fff" fill-opacity="0.20" d="M47 34h1v1h-1zM49 34h1v1h-1zM52 34h1v1h-1zM54 34h1v1h-1zM51 35h2v1h-2zM45 36h1v1h-1zM47 37h1v1h-1zM50 37h1v1h-1zM52 37h2v1h-2zM50 38h2v1h-2zM47 39h1v1h-1zM46 40h1v1h-1zM48 40h1v1h-1zM51 40h2v1h-2zM55 40h1v1h-1zM44 41h1v1h-1zM47 41h2v1h-2zM51 41h1v1h-1zM55 42h1v1h-1zM33 43h2v1h-2zM37 43h2v1h-2zM40 43h1v1h-1zM44 43h2v1h-2zM50 43h2v1h-2zM54 43h1v1h-1zM34 44h1v1h-1zM36 44h1v1h-1zM46 44h2v1h-2zM51 44h1v1h-1zM37 45h3v1h-3zM42 45h2v1h-2zM47 45h1v1h-1zM33 46h1v1h-1zM44 46h1v1h-1zM33 48h1v1h-1zM36 48h1v1h-1zM42 48h1v1h-1zM45 48h1v1h-1zM40 49h2v1h-2zM44 49h3v1h-3zM34 50h1v1h-1zM46 51h1v1h-1zM33 52h1v1h-1zM36 52h1v1h-1zM39 52h1v1h-1zM36 53h1v1h-1zM33 54h2v1h-2zM45 54h1v1h-1zM43 55h2v1h-2zM41 56h2v1h-2zM12 68h1v1h-1zM21 68h1v1h-1zM7 70h2v1h-2zM21 70h1v1h-1zM19 72h1v1h-1zM23 72h1v1h-1zM1 74h1v1h-1zM7 75h1v1h-1zM16 76h1v1h-1zM5 77h1v1h-1zM19 77h1v1h-1zM9 79h1v1h-1zM6 81h1v1h-1zM13 82h1v1h-1zM21 86h1v1h-1zM5 87h1v1h-1zM11 88h1v1h-1zM19 89h1v1h-1z"/><path fill="#fff" fill-opacity="0.24" d="M44 34h1v1h-1zM49 35h1v1h-1zM47 36h1v1h-1zM51 36h1v1h-1zM46 42h2v1h-2zM44 45h2v1h-2zM40 46h2v1h-2zM43 46h1v1h-1zM42 47h1v1h-1zM34 48h1v1h-1zM33 50h1v1h-1zM42 54h1v1h-1zM39 56h1v1h-1z"/></g></svg><svg width="195.00" height="193.00" style="position:absolute;left:372.00px;top:211.00px"><line x1="0" y1="193.00" x2="195.00" y2="0" stroke="#1030ff" stroke-width="5.5" opacity="0.35"/><line x1="0" y1="193.00" x2="195.00" y2="0" stroke="#0858ff" stroke-width="3.2" opacity="0.8"/><line x1="0" y1="193.00" x2="195.00" y2="0" stroke="#00b0ff" stroke-width="1.7"/><path d="M1.1 191.9h0M3.2 189.8h0M5.4 187.6h0M7.6 185.5h0M9.8 183.3h0M11.9 181.2h0M14.1 179.1h0M16.2 176.9h0M18.4 174.8h0M20.6 172.6h0M22.8 170.5h0M24.9 168.3h0M27.1 166.2h0M29.2 164.1h0M31.4 161.9h0M33.6 159.8h0M35.8 157.6h0M40.1 153.3h0M42.2 151.2h0M46.6 146.9h0M48.8 144.8h0M50.9 142.6h0M53.1 140.5h0M57.4 136.2h0M59.6 134.0h0M61.8 131.9h0M63.9 129.7h0M68.2 125.5h0M70.4 123.3h0M72.6 121.2h0M74.8 119.0h0M76.9 116.9h0M79.1 114.7h0M81.2 112.6h0M83.4 110.4h0M85.6 108.3h0M87.8 106.2h0M89.9 104.0h0M92.1 101.9h0M94.2 99.7h0M96.4 97.6h0M98.6 95.4h0M100.8 93.3h0M102.9 91.1h0M105.1 89.0h0M107.2 86.8h0M109.4 84.7h0M111.6 82.6h0M113.8 80.4h0M115.9 78.3h0M118.1 76.1h0M120.2 74.0h0M122.4 71.8h0M124.6 69.7h0M126.8 67.5h0M128.9 65.4h0M131.1 63.3h0M133.2 61.1h0M137.6 56.8h0M139.8 54.7h0M141.9 52.5h0M144.1 50.4h0M148.4 46.1h0M150.6 44.0h0M152.8 41.8h0M154.9 39.7h0M157.1 37.5h0M159.2 35.4h0M161.4 33.2h0M163.6 31.1h0M165.8 28.9h0M167.9 26.8h0M170.1 24.7h0M172.2 22.5h0M174.4 20.4h0M176.6 18.2h0M178.8 16.1h0M183.1 11.8h0M185.2 9.7h0M187.4 7.5h0M189.6 5.4h0M191.8 3.2h0M193.9 1.1h0" stroke="#10f0ff" stroke-width="1.7" stroke-linecap="round"/><path d="M37.9 155.5h0M44.4 149.0h0M55.2 138.3h0M66.1 127.6h0M135.4 59.0h0M146.2 48.2h0M180.9 13.9h0" stroke="#70ff30" stroke-width="2.7" stroke-linecap="round"/></svg><div class="tl" style="left:372.0px;top:406.0px;width:20px;margin-left:-10px;text-align:center">1</div><div class="tl" style="left:349.0px;top:399.4px;width:20px;text-align:right">1</div><div class="tk" style="left:371.6px;top:209.0px;width:0.8px;height:2px"></div><div class="tk" style="left:371.6px;top:404.0px;width:0.8px;height:2px"></div><div class="tk" style="left:370.0px;top:403.6px;width:2px;height:0.8px"></div><div class="tk" style="left:567.0px;top:403.6px;width:2px;height:0.8px"></div><div class="tl" style="left:391.7px;top:406.0px;width:20px;margin-left:-10px;text-align:center">10</div><div class="tl" style="left:349.0px;top:379.9px;width:20px;text-align:right">10</div><div class="tk" style="left:391.3px;top:209.0px;width:0.8px;height:2px"></div><div class="tk" style="left:391.3px;top:404.0px;width:0.8px;height:2px"></div><div class="tk" style="left:370.0px;top:384.1px;width:2px;height:0.8px"></div><div class="tk" style="left:567.0px;top:384.1px;width:2px;height:0.8px"></div><div class="tl" style="left:411.4px;top:406.0px;width:20px;margin-left:-10px;text-align:center">19</div><div class="tl" style="left:349.0px;top:360.4px;width:20px;text-align:right">19</div><div class="tk" style="left:411.0px;top:209.0px;width:0.8px;height:2px"></div><div class="tk" style="left:411.0px;top:404.0px;width:0.8px;height:2px"></div><div class="tk" style="left:370.0px;top:364.6px;width:2px;height:0.8px"></div><div class="tk" style="left:567.0px;top:364.6px;width:2px;height:0.8px"></div><div class="tl" style="left:431.2px;top:406.0px;width:20px;margin-left:-10px;text-align:center">28</div><div class="tl" style="left:349.0px;top:340.9px;width:20px;text-align:right">28</div><div class="tk" style="left:430.8px;top:209.0px;width:0.8px;height:2px"></div><div class="tk" style="left:430.8px;top:404.0px;width:0.8px;height:2px"></div><div class="tk" style="left:370.0px;top:345.1px;width:2px;height:0.8px"></div><div class="tk" style="left:567.0px;top:345.1px;width:2px;height:0.8px"></div><div class="tl" style="left:450.9px;top:406.0px;width:20px;margin-left:-10px;text-align:center">37</div><div class="tl" style="left:349.0px;top:321.4px;width:20px;text-align:right">37</div><div class="tk" style="left:450.5px;top:209.0px;width:0.8px;height:2px"></div><div class="tk" style="left:450.5px;top:404.0px;width:0.8px;height:2px"></div><div class="tk" style="left:370.0px;top:325.6px;width:2px;height:0.8px"></div><div class="tk" style="left:567.0px;top:325.6px;width:2px;height:0.8px"></div><div class="tl" style="left:470.6px;top:406.0px;width:20px;margin-left:-10px;text-align:center">46</div><div class="tl" style="left:349.0px;top:301.9px;width:20px;text-align:right">46</div><div class="tk" style="left:470.2px;top:209.0px;width:0.8px;height:2px"></div><div class="tk" style="left:470.2px;top:404.0px;width:0.8px;height:2px"></div><div class="tk" style="left:370.0px;top:306.1px;width:2px;height:0.8px"></div><div class="tk" style="left:567.0px;top:306.1px;width:2px;height:0.8px"></div><div class="tl" style="left:490.3px;top:406.0px;width:20px;margin-left:-10px;text-align:center">55</div><div class="tl" style="left:349.0px;top:282.4px;width:20px;text-align:right">55</div><div class="tk" style="left:489.9px;top:209.0px;width:0.8px;height:2px"></div><div class="tk" style="left:489.9px;top:404.0px;width:0.8px;height:2px"></div><div class="tk" style="left:370.0px;top:286.6px;width:2px;height:0.8px"></div><div class="tk" style="left:567.0px;top:286.6px;width:2px;height:0.8px"></div><div class="tl" style="left:510.0px;top:406.0px;width:20px;margin-left:-10px;text-align:center">64</div><div class="tl" style="left:349.0px;top:262.9px;width:20px;text-align:right">64</div><div class="tk" style="left:509.6px;top:209.0px;width:0.8px;height:2px"></div><div class="tk" style="left:509.6px;top:404.0px;width:0.8px;height:2px"></div><div class="tk" style="left:370.0px;top:267.1px;width:2px;height:0.8px"></div><div class="tk" style="left:567.0px;top:267.1px;width:2px;height:0.8px"></div><div class="tl" style="left:529.8px;top:406.0px;width:20px;margin-left:-10px;text-align:center">73</div><div class="tl" style="left:349.0px;top:243.4px;width:20px;text-align:right">73</div><div class="tk" style="left:529.4px;top:209.0px;width:0.8px;height:2px"></div><div class="tk" style="left:529.4px;top:404.0px;width:0.8px;height:2px"></div><div class="tk" style="left:370.0px;top:247.6px;width:2px;height:0.8px"></div><div class="tk" style="left:567.0px;top:247.6px;width:2px;height:0.8px"></div><div class="tl" style="left:549.5px;top:406.0px;width:20px;margin-left:-10px;text-align:center">82</div><div class="tl" style="left:349.0px;top:223.9px;width:20px;text-align:right">82</div><div class="tk" style="left:549.1px;top:209.0px;width:0.8px;height:2px"></div><div class="tk" style="left:549.1px;top:404.0px;width:0.8px;height:2px"></div><div class="tk" style="left:370.0px;top:228.1px;width:2px;height:0.8px"></div><div class="tk" style="left:567.0px;top:228.1px;width:2px;height:0.8px"></div><svg style="position:absolute;left:574.00px;top:211.00px" width="7.00" height="193.00"><defs><linearGradient id="gPCLM1" x1="0" y1="0" x2="0" y2="1"><stop offset="0.000" stop-color="#ff0000"/><stop offset="0.070" stop-color="#ff4000"/><stop offset="0.160" stop-color="#ffa000"/><stop offset="0.260" stop-color="#ffff00"/><stop offset="0.360" stop-color="#aaff00"/><stop offset="0.470" stop-color="#00ff00"/><stop offset="0.530" stop-color="#00ff96"/><stop offset="0.600" stop-color="#00f0ff"/><stop offset="0.660" stop-color="#00aaff"/><stop offset="0.740" stop-color="#0050ff"/><stop offset="0.860" stop-color="#0a00ff"/><stop offset="0.940" stop-color="#280096"/><stop offset="1.000" stop-color="#220046"/></linearGradient></defs><rect width="100%" height="100%" fill="url(#gPCLM1)"/></svg><div class="cl" style="left:585.8px;top:399.8px">0.0000</div><div class="tk" style="left:581.0px;top:403.6px;width:2px;height:0.8px"></div><div class="cl" style="left:585.8px;top:380.5px">0.5408</div><div class="tk" style="left:581.0px;top:384.3px;width:2px;height:0.8px"></div><div class="cl" style="left:585.8px;top:361.2px">1.0816</div><div class="tk" style="left:581.0px;top:365.0px;width:2px;height:0.8px"></div><div class="cl" style="left:585.8px;top:341.9px">1.6224</div><div class="tk" style="left:581.0px;top:345.7px;width:2px;height:0.8px"></div><div class="cl" style="left:585.8px;top:322.6px">2.1632</div><div class="tk" style="left:581.0px;top:326.4px;width:2px;height:0.8px"></div><div class="cl" style="left:585.8px;top:303.3px">2.7040</div><div class="tk" style="left:581.0px;top:307.1px;width:2px;height:0.8px"></div><div class="cl" style="left:585.8px;top:284.0px">3.2447</div><div class="tk" style="left:581.0px;top:287.8px;width:2px;height:0.8px"></div><div class="cl" style="left:585.8px;top:264.7px">3.7855</div><div class="tk" style="left:581.0px;top:268.5px;width:2px;height:0.8px"></div><div class="cl" style="left:585.8px;top:245.4px">4.3263</div><div class="tk" style="left:581.0px;top:249.2px;width:2px;height:0.8px"></div><div class="cl" style="left:585.8px;top:226.1px">4.8671</div><div class="tk" style="left:581.0px;top:229.9px;width:2px;height:0.8px"></div><div class="cl" style="left:585.8px;top:206.8px">5.4079</div><div class="tk" style="left:581.0px;top:210.6px;width:2px;height:0.8px"></div><div class="rl" style="left:339.7px;top:221.6px;color:#3f7f1f">A</div><div class="rl" style="left:339.7px;top:255.7px;color:#f01010">B</div><div class="rl" style="left:339.7px;top:284.8px;color:#3f7f1f">A</div><div class="rl" style="left:339.7px;top:315.4px;color:#f01010">B</div><div class="rl" style="left:339.7px;top:352.3px;color:#1a72c0">C</div><div class="bl" style="left:372.0px;top:351.2px;width:53.8px;height:1.3px"></div><div class="bl" style="left:424.5px;top:351.2px;width:1.3px;height:52.8px"></div><div class="bl" style="left:372.0px;top:302.1px;width:103.2px;height:1.3px"></div><div class="bl" style="left:473.9px;top:302.1px;width:1.3px;height:102.0px"></div><div class="bl" style="left:372.0px;top:284.8px;width:118.5px;height:1.3px"></div><div class="bl" style="left:489.2px;top:284.8px;width:1.3px;height:119.3px"></div><div class="bl" style="left:372.0px;top:246.9px;width:157.9px;height:1.3px"></div><div class="bl" style="left:528.6px;top:246.9px;width:1.3px;height:157.1px"></div><div class="ttl" style="left:105.0px;top:436.0px">PCLM2</div><svg width="197.00" height="196.00" viewBox="0 0 84 84" preserveAspectRatio="none" style="position:absolute;left:99.00px;top:457.00px"><defs><filter id="cmPCLM2" x="0" y="0" width="100%" height="100%" color-interpolation-filters="sRGB"><feTurbulence type="fractalNoise" baseFrequency="0.200" numOctaves="2" seed="3" result="n"/><feColorMatrix in="n" type="matrix" values="1.60 0 0 0 -0.05 1.60 0 0 0 -0.05 1.60 0 0 0 -0.05 0 0 0 0 1" result="m"/><feComposite in="SourceGraphic" in2="m" operator="arithmetic" k1="1" k2="0" k3="0" k4="0"/><feGaussianBlur stdDeviation="0.45" edgeMode="duplicate"/><feComponentTransfer><feFuncR type="table" tableValues="0.133 0.141 0.153 0.133 0.098 0.063 0.035 0.027 0.020 0.012 0.004 0.000 0.000 0.000 0.000 0.000 0.000 0.000 0.000 0.000 0.000 0.000 0.122 0.275 0.424 0.576 0.698 0.784 0.867 0.949 1.000 1.000 1.000 1.000 1.000 1.000 1.000 1.000 1.000 1.000 1.000"/><feFuncG type="table" tableValues="0.000 0.000 0.000 0.000 0.000 0.000 0.027 0.090 0.157 0.224 0.286 0.380 0.490 0.600 0.714 0.827 0.941 0.961 0.984 1.000 1.000 1.000 1.000 1.000 1.000 1.000 1.000 1.000 1.000 1.000 0.965 0.871 0.776 0.682 0.584 0.482 0.376 0.271 0.180 0.090 0.000"/><feFuncB type="table" tableValues="0.275 0.404 0.537 0.667 0.792 0.922 1.000 1.000 1.000 1.000 1.000 1.000 1.000 1.000 1.000 1.000 1.000 0.855 0.706 0.541 0.294 0.047 0.000 0.000 0.000 0.000 0.000 0.000 0.000 0.000 0.000 0.000 0.000 0.000 0.000 0.000 0.000 0.000 0.000 0.000 0.000"/><feFuncA type="linear" slope="0" intercept="1"/></feComponentTransfer></filter></defs><g filter="url(#cmPCLM2)"><rect width="84" height="84" fill="#000"/><rect x="0" y="83" width="84" height="1" fill="#fff" fill-opacity="0.396"/><rect x="0" y="82" width="84" height="1" fill="#fff" fill-opacity="0.396"/><rect x="0" y="81" width="84" height="1" fill="#fff" fill-opacity="0.900"/><rect x="0" y="80" width="84" height="1" fill="#fff" fill-opacity="0.396"/><rect x="0" y="79" width="84" height="1" fill="#fff" fill-opacity="0.396"/><rect x="0" y="78" width="84" height="1" fill="#fff" fill-opacity="0.396"/><rect x="0" y="77" width="84" height="1" fill="#fff" fill-opacity="0.396"/><rect x="0" y="76" width="84" height="1" fill="#fff" fill-opacity="0.900"/><rect x="0" y="75" width="84" height="1" fill="#fff" fill-opacity="0.396"/><rect x="0" y="74" width="84" height="1" fill="#fff" fill-opacity="0.396"/><rect x="0" y="73" width="84" height="1" fill="#fff" fill-opacity="0.396"/><rect x="0" y="72" width="84" height="1" fill="#fff" fill-opacity="0.900"/><rect x="0" y="71" width="84" height="1" fill="#fff" fill-opacity="0.900"/><rect x="0" y="70" width="84" height="1" fill="#fff" fill-opacity="0.396"/><rect x="0" y="69" width="84" height="1" fill="#fff" fill-opacity="0.900"/><rect x="0" y="68" width="84" height="1" fill="#fff" fill-opacity="0.900"/><rect x="0" y="67" width="84" height="1" fill="#fff" fill-opacity="0.396"/><rect x="0" y="66" width="84" height="1" fill="#fff" fill-opacity="0.396"/><rect x="0" y="65" width="84" height="1" fill="#fff" fill-opacity="0.900"/><rect x="0" y="64" width="84" height="1" fill="#fff" fill-opacity="0.900"/><rect x="0" y="63" width="84" height="1" fill="#fff" fill-opacity="0.396"/><rect x="0" y="62" width="84" height="1" fill="#fff" fill-opacity="0.396"/><rect x="0" y="61" width="84" height="1" fill="#fff" fill-opacity="0.900"/><rect x="0" y="60" width="84" height="1" fill="#fff" fill-opacity="0.396"/><rect x="0" y="59" width="84" height="1" fill="#fff" fill-opacity="0.900"/><rect x="0" y="58" width="84" height="1" fill="#fff" fill-opacity="0.900"/><rect x="0" y="57" width="84" height="1" fill="#fff" fill-opacity="0.396"/><rect x="0" y="56" width="84" height="1" fill="#fff" fill-opacity="0.396"/><rect x="0" y="55" width="84" height="1" fill="#fff" fill-opacity="0.900"/><rect x="0" y="54" width="84" height="1" fill="#fff" fill-opacity="0.396"/><rect x="0" y="53" width="84" height="1" fill="#fff" fill-opacity="0.900"/><rect x="0" y="52" width="84" height="1" fill="#fff" fill-opacity="0.396"/><rect x="0" y="51" width="84" height="1" fill="#fff" fill-opacity="0.097"/><rect x="0" y="50" width="84" height="1" fill="#fff" fill-opacity="0.097"/><rect x="0" y="49" width="84" height="1" fill="#fff" fill-opacity="0.900"/><rect x="0" y="48" width="84" height="1" fill="#fff" fill-opacity="0.900"/><rect x="0" y="47" width="84" height="1" fill="#fff" fill-opacity="0.396"/><rect x="0" y="46" width="84" height="1" fill="#fff" fill-opacity="0.396"/><rect x="0" y="45" width="84" height="1" fill="#fff" fill-opacity="0.900"/><rect x="0" y="44" width="84" height="1" fill="#fff" fill-opacity="0.396"/><rect x="0" y="43" width="84" height="1" fill="#fff" fill-opacity="0.396"/><rect x="0" y="42" width="84" height="1" fill="#fff" fill-opacity="0.900"/><rect x="0" y="41" width="84" height="1" fill="#fff" fill-opacity="0.900"/><rect x="0" y="40" width="84" height="1" fill="#fff" fill-opacity="0.396"/><rect x="0" y="39" width="84" height="1" fill="#fff" fill-opacity="0.900"/><rect x="0" y="38" width="84" height="1" fill="#fff" fill-opacity="0.396"/><rect x="0" y="37" width="84" height="1" fill="#fff" fill-opacity="0.900"/><rect x="0" y="36" width="84" height="1" fill="#fff" fill-opacity="0.900"/><rect x="0" y="35" width="84" height="1" fill="#fff" fill-opacity="0.396"/><rect x="0" y="34" width="84" height="1" fill="#fff" fill-opacity="0.900"/><rect x="0" y="33" width="84" height="1" fill="#fff" fill-opacity="0.396"/><rect x="0" y="32" width="84" height="1" fill="#fff" fill-opacity="0.900"/><rect x="0" y="31" width="84" height="1" fill="#fff" fill-opacity="0.900"/><rect x="0" y="30" width="84" height="1" fill="#fff" fill-opacity="0.396"/><rect x="0" y="29" width="84" height="1" fill="#fff" fill-opacity="0.200"/><rect x="0" y="28" width="84" height="1" fill="#fff" fill-opacity="0.200"/><rect x="0" y="27" width="84" height="1" fill="#fff" fill-opacity="0.088"/><rect x="0" y="26" width="84" height="1" fill="#fff" fill-opacity="0.200"/><rect x="0" y="25" width="84" height="1" fill="#fff" fill-opacity="0.088"/><rect x="0" y="24" width="84" height="1" fill="#fff" fill-opacity="0.900"/><rect x="0" y="23" width="84" height="1" fill="#fff" fill-opacity="0.900"/><rect x="0" y="22" width="84" height="1" fill="#fff" fill-opacity="0.396"/><rect x="0" y="21" width="84" height="1" fill="#fff" fill-opacity="0.396"/><rect x="0" y="20" width="84" height="1" fill="#fff" fill-opacity="0.900"/><rect x="0" y="19" width="84" height="1" fill="#fff" fill-opacity="0.900"/><rect x="0" y="18" width="84" height="1" fill="#fff" fill-opacity="0.396"/><rect x="0" y="17" width="84" height="1" fill="#fff" fill-opacity="0.900"/><rect x="0" y="16" width="84" height="1" fill="#fff" fill-opacity="0.900"/><rect x="0" y="15" width="84" height="1" fill="#fff" fill-opacity="0.396"/><rect x="0" y="14" width="84" height="1" fill="#fff" fill-opacity="0.396"/><rect x="0" y="13" width="84" height="1" fill="#fff" fill-opacity="0.110"/><rect x="0" y="12" width="84" height="1" fill="#fff" fill-opacity="0.250"/><rect x="0" y="11" width="84" height="1" fill="#fff" fill-opacity="0.250"/><rect x="0" y="10" width="84" height="1" fill="#fff" fill-opacity="0.110"/><rect x="0" y="9" width="84" height="1" fill="#fff" fill-opacity="0.110"/><rect x="0" y="8" width="84" height="1" fill="#fff" fill-opacity="0.250"/><rect x="0" y="7" width="84" height="1" fill="#fff" fill-opacity="0.440"/><rect x="0" y="6" width="84" height="1" fill="#fff" fill-opacity="0.440"/><rect x="0" y="5" width="84" height="1" fill="#fff" fill-opacity="0.198"/><rect x="0" y="4" width="84" height="1" fill="#fff" fill-opacity="0.198"/><rect x="0" y="3" width="84" height="1" fill="#fff" fill-opacity="0.198"/><rect x="0" y="2" width="84" height="1" fill="#fff" fill-opacity="0.450"/><rect x="0" y="1" width="84" height="1" fill="#fff" fill-opacity="0.198"/><rect x="0" y="0" width="84" height="1" fill="#fff" fill-opacity="0.450"/><rect x="0" y="0" width="1" height="84" fill="#000" fill-opacity="0.604"/><rect x="1" y="0" width="1" height="84" fill="#000" fill-opacity="0.604"/><rect x="2" y="0" width="1" height="84" fill="#000" fill-opacity="0.100"/><rect x="3" y="0" width="1" height="84" fill="#000" fill-opacity="0.604"/><rect x="4" y="0" width="1" height="84" fill="#000" fill-opacity="0.604"/><rect x="5" y="0" width="1" height="84" fill="#000" fill-opacity="0.604"/><rect x="6" y="0" width="1" height="84" fill="#000" fill-opacity="0.604"/><rect x="7" y="0" width="1" height="84" fill="#000" fill-opacity="0.100"/><rect x="8" y="0" width="1" height="84" fill="#000" fill-opacity="0.604"/><rect x="9" y="0" width="1" height="84" fill="#000" fill-opacity="0.604"/><rect x="10" y="0" width="1" height="84" fill="#000" fill-opacity="0.604"/><rect x="11" y="0" width="1" height="84" fill="#000" fill-opacity="0.100"/><rect x="12" y="0" width="1" height="84" fill="#000" fill-opacity="0.100"/><rect x="13" y="0" width="1" height="84" fill="#000" fill-opacity="0.604"/><rect x="14" y="0" width="1" height="84" fill="#000" fill-opacity="0.100"/><rect x="15" y="0" width="1" height="84" fill="#000" fill-opacity="0.100"/><rect x="16" y="0" width="1" height="84" fill="#000" fill-opacity="0.604"/><rect x="17" y="0" width="1" height="84" fill="#000" fill-opacity="0.604"/><rect x="18" y="0" width="1" height="84" fill="#000" fill-opacity="0.100"/><rect x="19" y="0" width="1" height="84" fill="#000" fill-opacity="0.100"/><rect x="20" y="0" width="1" height="84" fill="#000" fill-opacity="0.604"/><rect x="21" y="0" width="1" height="84" fill="#000" fill-opacity="0.604"/><rect x="22" y="0" width="1" height="84" fill="#000" fill-opacity="0.100"/><rect x="23" y="0" width="1" height="84" fill="#000" fill-opacity="0.604"/><rect x="24" y="0" width="1" height="84" fill="#000" fill-opacity="0.100"/><rect x="25" y="0" width="1" height="84" fill="#000" fill-opacity="0.100"/><rect x="26" y="0" width="1" height="84" fill="#000" fill-opacity="0.604"/><rect x="27" y="0" width="1" height="84" fill="#000" fill-opacity="0.604"/><rect x="28" y="0" width="1" height="84" fill="#000" fill-opacity="0.100"/><rect x="29" y="0" width="1" height="84" fill="#000" fill-opacity="0.604"/><rect x="30" y="0" width="1" height="84" fill="#000" fill-opacity="0.100"/><rect x="31" y="0" width="1" height="84" fill="#000" fill-opacity="0.604"/><rect x="32" y="0" width="1" height="84" fill="#000" fill-opacity="0.903"/><rect x="33" y="0" width="1" height="84" fill="#000" fill-opacity="0.903"/><rect x="34" y="0" width="1" height="84" fill="#000" fill-opacity="0.100"/><rect x="35" y="0" width="1" height="84" fill="#000" fill-opacity="0.100"/><rect x="36" y="0" width="1" height="84" fill="#000" fill-opacity="0.604"/><rect x="37" y="0" width="1" height="84" fill="#000" fill-opacity="0.604"/><rect x="38" y="0" width="1" height="84" fill="#000" fill-opacity="0.100"/><rect x="39" y="0" width="1" height="84" fill="#000" fill-opacity="0.604"/><rect x="40" y="0" width="1" height="84" fill="#000" fill-opacity="0.604"/><rect x="41" y="0" width="1" height="84" fill="#000" fill-opacity="0.100"/><rect x="42" y="0" width="1" height="84" fill="#000" fill-opacity="0.100"/><rect x="43" y="0" width="1" height="84" fill="#000" fill-opacity="0.604"/><rect x="44" y="0" width="1" height="84" fill="#000" fill-opacity="0.100"/><rect x="45" y="0" width="1" height="84" fill="#000" fill-opacity="0.604"/><rect x="46" y="0" width="1" height="84" fill="#000" fill-opacity="0.100"/><rect x="47" y="0" width="1" height="84" fill="#000" fill-opacity="0.100"/><rect x="48" y="0" width="1" height="84" fill="#000" fill-opacity="0.604"/><rect x="49" y="0" width="1" height="84" fill="#000" fill-opacity="0.100"/><rect x="50" y="0" width="1" height="84" fill="#000" fill-opacity="0.604"/><rect x="51" y="0" width="1" height="84" fill="#000" fill-opacity="0.100"/><rect x="52" y="0" width="1" height="84" fill="#000" fill-opacity="0.100"/><rect x="53" y="0" width="1" height="84" fill="#000" fill-opacity="0.604"/><rect x="54" y="0" width="1" height="84" fill="#000" fill-opacity="0.800"/><rect x="55" y="0" width="1" height="84" fill="#000" fill-opacity="0.800"/><rect x="56" y="0" width="1" height="84" fill="#000" fill-opacity="0.912"/><rect x="57" y="0" width="1" height="84" fill="#000" fill-opacity="0.800"/><rect x="58" y="0" width="1" height="84" fill="#000" fill-opacity="0.912"/><rect x="59" y="0" width="1" height="84" fill="#000" fill-opacity="0.100"/><rect x="60" y="0" width="1" height="84" fill="#000" fill-opacity="0.100"/><rect x="61" y="0" width="1" height="84" fill="#000" fill-opacity="0.604"/><rect x="62" y="0" width="1" height="84" fill="#000" fill-opacity="0.604"/><rect x="63" y="0" width="1" height="84" fill="#000" fill-opacity="0.100"/><rect x="64" y="0" width="1" height="84" fill="#000" fill-opacity="0.100"/><rect x="65" y="0" width="1" height="84" fill="#000" fill-opacity="0.604"/><rect x="66" y="0" width="1" height="84" fill="#000" fill-opacity="0.100"/><rect x="67" y="0" width="1" height="84" fill="#000" fill-opacity="0.100"/><rect x="68" y="0" width="1" height="84" fill="#000" fill-opacity="0.604"/><rect x="69" y="0" width="1" height="84" fill="#000" fill-opacity="0.604"/><rect x="70" y="0" width="1" height="84" fill="#000" fill-opacity="0.890"/><rect x="71" y="0" width="1" height="84" fill="#000" fill-opacity="0.750"/><rect x="72" y="0" width="1" height="84" fill="#000" fill-opacity="0.750"/><rect x="73" y="0" width="1" height="84" fill="#000" fill-opacity="0.890"/><rect x="74" y="0" width="1" height="84" fill="#000" fill-opacity="0.890"/><rect x="75" y="0" width="1" height="84" fill="#000" fill-opacity="0.750"/><rect x="76" y="0" width="1" height="84" fill="#000" fill-opacity="0.560"/><rect x="77" y="0" width="1" height="84" fill="#000" fill-opacity="0.560"/><rect x="78" y="0" width="1" height="84" fill="#000" fill-opacity="0.802"/><rect x="79" y="0" width="1" height="84" fill="#000" fill-opacity="0.802"/><rect x="80" y="0" width="1" height="84" fill="#000" fill-opacity="0.802"/><rect x="81" y="0" width="1" height="84" fill="#000" fill-opacity="0.550"/><rect x="82" y="0" width="1" height="84" fill="#000" fill-opacity="0.802"/><rect x="83" y="0" width="1" height="84" fill="#000" fill-opacity="0.550"/><rect x="0" y="0" width="84" height="84" fill="#000" fill-opacity="0.280"/><rect x="0" y="13" width="16" height="12" fill="#000" fill-opacity="0.300"/><rect x="59" y="68" width="12" height="16" fill="#000" fill-opacity="0.300"/><rect x="0" y="6" width="59" height="1.5" fill="#000" fill-opacity="0.100"/><rect x="76.5" y="25" width="1.5" height="59" fill="#000" fill-opacity="0.100"/><rect x="59" y="13.5" width="11.5" height="11.5" fill="#fff" fill-opacity="0.120"/><rect x="0" y="53" width="31" height="31" fill="#fff" fill-opacity="0.080"/><rect x="34.5" y="29.5" width="20" height="20" fill="#fff" fill-opacity="0.080"/></g></svg><div class="tl" style="left:99.0px;top:655.0px;width:20px;margin-left:-10px;text-align:center">1</div><div class="tl" style="left:76.0px;top:648.4px;width:20px;text-align:right">1</div><div class="tk" style="left:98.6px;top:455.0px;width:0.8px;height:2px"></div><div class="tk" style="left:98.6px;top:653.0px;width:0.8px;height:2px"></div><div class="tk" style="left:97.0px;top:652.6px;width:2px;height:0.8px"></div><div class="tk" style="left:296.0px;top:652.6px;width:2px;height:0.8px"></div><div class="tl" style="left:118.1px;top:655.0px;width:20px;margin-left:-10px;text-align:center">9</div><div class="tl" style="left:76.0px;top:629.5px;width:20px;text-align:right">9</div><div class="tk" style="left:117.7px;top:455.0px;width:0.8px;height:2px"></div><div class="tk" style="left:117.7px;top:653.0px;width:0.8px;height:2px"></div><div class="tk" style="left:97.0px;top:633.7px;width:2px;height:0.8px"></div><div class="tk" style="left:296.0px;top:633.7px;width:2px;height:0.8px"></div><div class="tl" style="left:137.2px;top:655.0px;width:20px;margin-left:-10px;text-align:center">17</div><div class="tl" style="left:76.0px;top:610.6px;width:20px;text-align:right">17</div><div class="tk" style="left:136.8px;top:455.0px;width:0.8px;height:2px"></div><div class="tk" style="left:136.8px;top:653.0px;width:0.8px;height:2px"></div><div class="tk" style="left:97.0px;top:614.8px;width:2px;height:0.8px"></div><div class="tk" style="left:296.0px;top:614.8px;width:2px;height:0.8px"></div><div class="tl" style="left:156.2px;top:655.0px;width:20px;margin-left:-10px;text-align:center">25</div><div class="tl" style="left:76.0px;top:591.7px;width:20px;text-align:right">25</div><div class="tk" style="left:155.8px;top:455.0px;width:0.8px;height:2px"></div><div class="tk" style="left:155.8px;top:653.0px;width:0.8px;height:2px"></div><div class="tk" style="left:97.0px;top:595.9px;width:2px;height:0.8px"></div><div class="tk" style="left:296.0px;top:595.9px;width:2px;height:0.8px"></div><div class="tl" style="left:175.3px;top:655.0px;width:20px;margin-left:-10px;text-align:center">33</div><div class="tl" style="left:76.0px;top:572.7px;width:20px;text-align:right">33</div><div class="tk" style="left:174.9px;top:455.0px;width:0.8px;height:2px"></div><div class="tk" style="left:174.9px;top:653.0px;width:0.8px;height:2px"></div><div class="tk" style="left:97.0px;top:576.9px;width:2px;height:0.8px"></div><div class="tk" style="left:296.0px;top:576.9px;width:2px;height:0.8px"></div><div class="tl" style="left:194.4px;top:655.0px;width:20px;margin-left:-10px;text-align:center">41</div><div class="tl" style="left:76.0px;top:553.8px;width:20px;text-align:right">41</div><div class="tk" style="left:194.0px;top:455.0px;width:0.8px;height:2px"></div><div class="tk" style="left:194.0px;top:653.0px;width:0.8px;height:2px"></div><div class="tk" style="left:97.0px;top:558.0px;width:2px;height:0.8px"></div><div class="tk" style="left:296.0px;top:558.0px;width:2px;height:0.8px"></div><div class="tl" style="left:213.5px;top:655.0px;width:20px;margin-left:-10px;text-align:center">49</div><div class="tl" style="left:76.0px;top:534.9px;width:20px;text-align:right">49</div><div class="tk" style="left:213.1px;top:455.0px;width:0.8px;height:2px"></div><div class="tk" style="left:213.1px;top:653.0px;width:0.8px;height:2px"></div><div class="tk" style="left:97.0px;top:539.1px;width:2px;height:0.8px"></div><div class="tk" style="left:296.0px;top:539.1px;width:2px;height:0.8px"></div><div class="tl" style="left:232.6px;top:655.0px;width:20px;margin-left:-10px;text-align:center">57</div><div class="tl" style="left:76.0px;top:516.0px;width:20px;text-align:right">57</div><div class="tk" style="left:232.2px;top:455.0px;width:0.8px;height:2px"></div><div class="tk" style="left:232.2px;top:653.0px;width:0.8px;height:2px"></div><div class="tk" style="left:97.0px;top:520.2px;width:2px;height:0.8px"></div><div class="tk" style="left:296.0px;top:520.2px;width:2px;height:0.8px"></div><div class="tl" style="left:251.6px;top:655.0px;width:20px;margin-left:-10px;text-align:center">65</div><div class="tl" style="left:76.0px;top:497.1px;width:20px;text-align:right">65</div><div class="tk" style="left:251.2px;top:455.0px;width:0.8px;height:2px"></div><div class="tk" style="left:251.2px;top:653.0px;width:0.8px;height:2px"></div><div class="tk" style="left:97.0px;top:501.3px;width:2px;height:0.8px"></div><div class="tk" style="left:296.0px;top:501.3px;width:2px;height:0.8px"></div><div class="tl" style="left:270.7px;top:655.0px;width:20px;margin-left:-10px;text-align:center">73</div><div class="tl" style="left:76.0px;top:478.2px;width:20px;text-align:right">73</div><div class="tk" style="left:270.3px;top:455.0px;width:0.8px;height:2px"></div><div class="tk" style="left:270.3px;top:653.0px;width:0.8px;height:2px"></div><div class="tk" style="left:97.0px;top:482.4px;width:2px;height:0.8px"></div><div class="tk" style="left:296.0px;top:482.4px;width:2px;height:0.8px"></div><div class="tl" style="left:289.8px;top:655.0px;width:20px;margin-left:-10px;text-align:center">81</div><div class="tl" style="left:76.0px;top:459.3px;width:20px;text-align:right">81</div><div class="tk" style="left:289.4px;top:455.0px;width:0.8px;height:2px"></div><div class="tk" style="left:289.4px;top:653.0px;width:0.8px;height:2px"></div><div class="tk" style="left:97.0px;top:463.5px;width:2px;height:0.8px"></div><div class="tk" style="left:296.0px;top:463.5px;width:2px;height:0.8px"></div><svg style="position:absolute;left:304.00px;top:457.00px" width="7.00" height="196.00"><defs><linearGradient id="gPCLM2" x1="0" y1="0" x2="0" y2="1"><stop offset="0.000" stop-color="#ff0000"/><stop offset="0.070" stop-color="#ff4000"/><stop offset="0.160" stop-color="#ffa000"/><stop offset="0.260" stop-color="#ffff00"/><stop offset="0.360" stop-color="#aaff00"/><stop offset="0.470" stop-color="#00ff00"/><stop offset="0.530" stop-color="#00ff96"/><stop offset="0.600" stop-color="#00f0ff"/><stop offset="0.660" stop-color="#00aaff"/><stop offset="0.740" stop-color="#0050ff"/><stop offset="0.860" stop-color="#0a00ff"/><stop offset="0.940" stop-color="#280096"/><stop offset="1.000" stop-color="#220046"/></linearGradient></defs><rect width="100%" height="100%" fill="url(#gPCLM2)"/></svg><div class="cl" style="left:315.8px;top:648.8px">0.0000</div><div class="tk" style="left:311.0px;top:652.6px;width:2px;height:0.8px"></div><div class="cl" style="left:315.8px;top:629.2px">0.0075</div><div class="tk" style="left:311.0px;top:633.0px;width:2px;height:0.8px"></div><div class="cl" style="left:315.8px;top:609.6px">0.0150</div><div class="tk" style="left:311.0px;top:613.4px;width:2px;height:0.8px"></div><div class="cl" style="left:315.8px;top:590.0px">0.0225</div><div class="tk" style="left:311.0px;top:593.8px;width:2px;height:0.8px"></div><div class="cl" style="left:315.8px;top:570.4px">0.0300</div><div class="tk" style="left:311.0px;top:574.2px;width:2px;height:0.8px"></div><div class="cl" style="left:315.8px;top:550.8px">0.0375</div><div class="tk" style="left:311.0px;top:554.6px;width:2px;height:0.8px"></div><div class="cl" style="left:315.8px;top:531.2px">0.0450</div><div class="tk" style="left:311.0px;top:535.0px;width:2px;height:0.8px"></div><div class="cl" style="left:315.8px;top:511.6px">0.0525</div><div class="tk" style="left:311.0px;top:515.4px;width:2px;height:0.8px"></div><div class="cl" style="left:315.8px;top:492.0px">0.0600</div><div class="tk" style="left:311.0px;top:495.8px;width:2px;height:0.8px"></div><div class="cl" style="left:315.8px;top:472.4px">0.0675</div><div class="tk" style="left:311.0px;top:476.2px;width:2px;height:0.8px"></div><div class="cl" style="left:315.8px;top:452.8px">0.0749</div><div class="tk" style="left:311.0px;top:456.6px;width:2px;height:0.8px"></div><div class="rl" style="left:69.5px;top:462.3px;color:#3f7f1f">A</div><div class="rl" style="left:68.7px;top:495.4px;color:#f01010">B</div><div class="rl" style="left:68.7px;top:535.0px;color:#3f7f1f">A</div><div class="rl" style="left:68.7px;top:580.3px;color:#f01010">B</div><div class="rl" style="left:68.7px;top:612.7px;color:#1a72c0">C</div><div class="bl" style="left:99.0px;top:599.4px;width:60.6px;height:1.3px"></div><div class="bl" style="left:158.3px;top:599.4px;width:1.3px;height:53.6px"></div><div class="bl" style="left:99.0px;top:580.6px;width:85.0px;height:1.3px"></div><div class="bl" style="left:182.7px;top:580.6px;width:1.3px;height:72.4px"></div><div class="bl" style="left:99.0px;top:514.5px;width:141.2px;height:1.3px"></div><div class="bl" style="left:238.8px;top:514.5px;width:1.3px;height:138.5px"></div><div class="bl" style="left:99.0px;top:492.1px;width:164.8px;height:1.3px"></div><div class="bl" style="left:262.6px;top:492.1px;width:1.3px;height:161.0px"></div><div class="ttl" style="left:380.0px;top:436.0px">PCLM3</div><svg width="195.50" height="194.00" viewBox="0 0 102 102" preserveAspectRatio="none" style="position:absolute;left:375.00px;top:458.00px"><defs><filter id="cmPCLM3" x="0" y="0" width="100%" height="100%" color-interpolation-filters="sRGB"><feGaussianBlur stdDeviation="0.55" edgeMode="duplicate"/><feComponentTransfer><feFuncR type="table" tableValues="0.133 0.141 0.153 0.133 0.098 0.063 0.035 0.027 0.020 0.012 0.004 0.000 0.000 0.000 0.000 0.000 0.000 0.000 0.000 0.000 0.000 0.000 0.122 0.275 0.424 0.576 0.698 0.784 0.867 0.949 1.000 1.000 1.000 1.000 1.000 1.000 1.000 1.000 1.000 1.000 1.000"/><feFuncG type="table" tableValues="0.000 0.000 0.000 0.000 0.000 0.000 0.027 0.090 0.157 0.224 0.286 0.380 0.490 0.600 0.714 0.827 0.941 0.961 0.984 1.000 1.000 1.000 1.000 1.000 1.000 1.000 1.000 1.000 1.000 1.000 0.965 0.871 0.776 0.682 0.584 0.482 0.376 0.271 0.180 0.090 0.000"/><feFuncB type="table" tableValues="0.275 0.404 0.537 0.667 0.792 0.922 1.000 1.000 1.000 1.000 1.000 1.000 1.000 1.000 1.000 1.000 1.000 0.855 0.706 0.541 0.294 0.047 0.000 0.000 0.000 0.000 0.000 0.000 0.000 0.000 0.000 0.000 0.000 0.000 0.000 0.000 0.000 0.000 0.000 0.000 0.000"/><feFuncA type="linear" slope="0" intercept="1"/></feComponentTransfer></filter></defs><g filter="url(#cmPCLM3)"><rect width="102" height="102" fill="#000"/><path fill="#fff" fill-opacity="0.04" d="M89 1h1v1h-1zM98 1h1v1h-1zM95 2h1v1h-1zM67 3h1v1h-1zM60 4h1v1h-1zM88 4h1v1h-1zM90 4h1v1h-1zM93 4h1v1h-1zM95 4h1v1h-1zM61 5h1v1h-1zM89 5h1v1h-1zM98 5h1v1h-1zM61 6h1v1h-1zM66 6h2v1h-2zM89 6h1v1h-1zM60 7h1v1h-1zM62 7h1v1h-1zM64 7h1v1h-1zM84 7h1v1h-1zM89 7h1v1h-1zM66 8h1v1h-1zM85 8h1v1h-1zM88 8h1v1h-1zM60 9h3v1h-3zM87 9h1v1h-1zM92 9h1v1h-1zM97 9h1v1h-1zM88 10h1v1h-1zM63 11h1v1h-1zM62 12h1v1h-1zM95 12h1v1h-1zM89 13h1v1h-1zM98 13h1v1h-1zM62 14h1v1h-1zM64 14h2v1h-2zM85 14h1v1h-1zM90 14h1v1h-1zM60 15h1v1h-1zM64 15h1v1h-1zM90 15h1v1h-1zM98 15h1v1h-1zM60 16h1v1h-1zM87 17h1v1h-1zM95 17h1v1h-1zM87 18h1v1h-1zM93 18h1v1h-1zM88 19h1v1h-1zM94 19h1v1h-1zM34 21h1v1h-1zM38 21h1v1h-1zM37 22h1v1h-1zM62 22h1v1h-1zM38 23h1v1h-1zM66 23h1v1h-1zM35 24h1v1h-1zM41 24h1v1h-1zM56 24h1v1h-1zM74 24h1v1h-1zM80 24h1v1h-1zM32 25h1v1h-1zM36 25h1v1h-1zM62 25h1v1h-1zM66 25h1v1h-1zM71 25h1v1h-1zM32 26h1v1h-1zM34 26h1v1h-1zM39 26h1v1h-1zM60 27h1v1h-1zM62 27h1v1h-1zM67 27h1v1h-1zM69 27h1v1h-1zM57 28h2v1h-2zM71 28h1v1h-1zM73 28h1v1h-1zM75 28h1v1h-1zM56 29h1v1h-1zM79 29h1v1h-1zM34 31h1v1h-1zM58 31h2v1h-2zM66 31h1v1h-1zM57 32h1v1h-1zM68 32h1v1h-1zM67 33h1v1h-1zM75 33h1v1h-1zM77 34h1v1h-1zM85 34h1v1h-1zM95 34h1v1h-1zM99 34h1v1h-1zM88 35h1v1h-1zM97 36h1v1h-1zM93 37h1v1h-1zM96 37h2v1h-2zM59 38h1v1h-1zM85 38h1v1h-1zM91 38h1v1h-1zM94 38h1v1h-1zM97 38h1v1h-1zM71 39h2v1h-2zM92 39h2v1h-2zM97 39h1v1h-1zM59 40h1v1h-1zM68 40h2v1h-2zM71 40h1v1h-1zM94 40h1v1h-1zM96 40h1v1h-1zM55 41h1v1h-1zM73 41h1v1h-1zM76 41h2v1h-2zM81 41h1v1h-1zM96 41h1v1h-1zM99 41h1v1h-1zM77 43h1v1h-1zM79 44h1v1h-1zM58 45h1v1h-1zM69 45h1v1h-1zM71 45h1v1h-1zM80 45h1v1h-1zM75 60h1v1h-1zM80 60h1v1h-1zM76 61h1v1h-1zM80 61h1v1h-1zM77 63h1v1h-1zM74 64h1v1h-1zM70 65h1v1h-1zM81 65h1v1h-1zM75 66h1v1h-1zM76 67h1v1h-1zM72 69h1v1h-1zM76 69h1v1h-1zM78 69h1v1h-1zM28 71h1v1h-1zM8 72h1v1h-1zM10 72h3v1h-3zM16 72h1v1h-1zM25 72h1v1h-1zM7 73h1v1h-1zM12 73h1v1h-1zM28 73h2v1h-2zM4 74h1v1h-1zM14 74h1v1h-1zM27 74h2v1h-2zM4 75h2v1h-2zM15 75h1v1h-1zM30 75h1v1h-1zM5 76h1v1h-1zM10 76h1v1h-1zM7 77h1v1h-1zM28 78h1v1h-1zM12 79h1v1h-1zM14 79h1v1h-1zM16 79h1v1h-1zM27 79h1v1h-1zM29 79h2v1h-2zM4 80h1v1h-1zM27 80h1v1h-1zM6 82h1v1h-1zM15 82h1v1h-1zM27 82h1v1h-1zM18 83h1v1h-1zM9 87h1v1h-1zM26 87h1v1h-1zM20 88h1v1h-1zM26 88h1v1h-1zM28 88h1v1h-1zM28 89h1v1h-1zM19 90h1v1h-1zM23 91h1v1h-1zM25 91h1v1h-1zM2 92h1v1h-1zM19 92h1v1h-1zM24 92h1v1h-1zM13 93h1v1h-1zM24 93h1v1h-1zM26 93h1v1h-1zM23 94h1v1h-1zM24 96h1v1h-1zM4 97h1v1h-1zM20 97h1v1h-1zM27 97h1v1h-1zM20 98h1v1h-1zM27 100h1v1h-1z"/><path fill="#fff" fill-opacity="0.08" d="M90 1h1v1h-1zM94 1h2v1h-2zM65 2h1v1h-1zM91 2h1v1h-1zM98 2h1v1h-1zM83 3h1v1h-1zM92 3h2v1h-2zM95 3h1v1h-1zM98 3h1v1h-1zM100 3h1v1h-1zM61 4h1v1h-1zM65 4h1v1h-1zM97 4h1v1h-1zM60 5h1v1h-1zM64 6h1v1h-1zM83 6h1v1h-1zM88 6h1v1h-1zM95 6h2v1h-2zM100 6h1v1h-1zM63 7h1v1h-1zM96 7h2v1h-2zM100 7h1v1h-1zM67 8h1v1h-1zM91 8h1v1h-1zM93 8h1v1h-1zM84 9h1v1h-1zM86 9h1v1h-1zM91 9h1v1h-1zM100 9h1v1h-1zM85 10h1v1h-1zM94 10h1v1h-1zM98 10h1v1h-1zM60 11h1v1h-1zM62 11h1v1h-1zM86 11h1v1h-1zM93 11h1v1h-1zM95 11h1v1h-1zM98 11h1v1h-1zM61 12h1v1h-1zM63 12h1v1h-1zM65 12h1v1h-1zM91 12h2v1h-2zM86 13h1v1h-1zM95 13h2v1h-2zM93 14h3v1h-3zM100 14h1v1h-1zM63 15h1v1h-1zM66 15h1v1h-1zM86 15h1v1h-1zM88 15h1v1h-1zM96 15h1v1h-1zM86 16h1v1h-1zM83 17h1v1h-1zM90 17h1v1h-1zM84 18h1v1h-1zM86 18h1v1h-1zM88 18h1v1h-1zM94 18h1v1h-1zM99 18h1v1h-1zM86 19h1v1h-1zM90 19h1v1h-1zM96 19h1v1h-1zM38 20h1v1h-1zM56 20h2v1h-2zM68 20h1v1h-1zM70 20h1v1h-1zM72 20h1v1h-1zM74 20h1v1h-1zM76 20h1v1h-1zM39 21h1v1h-1zM61 21h1v1h-1zM72 21h1v1h-1zM76 21h1v1h-1zM81 21h1v1h-1zM36 22h1v1h-1zM56 22h3v1h-3zM72 22h2v1h-2zM32 23h1v1h-1zM35 23h1v1h-1zM57 23h1v1h-1zM77 23h1v1h-1zM32 24h1v1h-1zM34 24h1v1h-1zM58 24h1v1h-1zM67 24h1v1h-1zM71 24h2v1h-2zM41 25h1v1h-1zM69 25h1v1h-1zM77 25h1v1h-1zM33 26h1v1h-1zM38 26h1v1h-1zM60 26h1v1h-1zM69 26h1v1h-1zM74 26h1v1h-1zM76 26h1v1h-1zM34 27h1v1h-1zM56 27h1v1h-1zM70 27h1v1h-1zM72 27h1v1h-1zM35 28h1v1h-1zM38 28h1v1h-1zM56 28h1v1h-1zM80 28h1v1h-1zM82 28h1v1h-1zM33 29h1v1h-1zM39 29h1v1h-1zM68 29h1v1h-1zM74 29h1v1h-1zM76 29h1v1h-1zM36 30h1v1h-1zM69 30h1v1h-1zM78 30h1v1h-1zM82 30h1v1h-1zM37 31h1v1h-1zM56 31h1v1h-1zM60 31h3v1h-3zM69 31h1v1h-1zM61 32h1v1h-1zM72 32h2v1h-2zM82 32h1v1h-1zM61 33h1v1h-1zM67 34h1v1h-1zM71 34h1v1h-1zM80 34h1v1h-1zM90 34h1v1h-1zM96 34h2v1h-2zM64 35h1v1h-1zM67 35h1v1h-1zM72 35h1v1h-1zM82 35h1v1h-1zM89 35h1v1h-1zM95 35h1v1h-1zM63 36h1v1h-1zM85 36h1v1h-1zM90 36h1v1h-1zM94 36h1v1h-1zM96 36h1v1h-1zM86 37h2v1h-2zM91 37h2v1h-2zM94 37h2v1h-2zM90 38h1v1h-1zM99 38h1v1h-1zM55 39h1v1h-1zM57 39h1v1h-1zM80 39h1v1h-1zM98 39h1v1h-1zM61 40h1v1h-1zM70 40h1v1h-1zM74 40h1v1h-1zM78 40h2v1h-2zM88 40h1v1h-1zM97 40h2v1h-2zM59 41h1v1h-1zM72 41h1v1h-1zM85 41h1v1h-1zM97 41h2v1h-2zM60 42h2v1h-2zM70 42h1v1h-1zM72 42h1v1h-1zM81 42h1v1h-1zM61 43h2v1h-2zM70 43h2v1h-2zM81 43h1v1h-1zM70 44h1v1h-1zM72 44h1v1h-1zM80 44h1v1h-1zM62 45h1v1h-1zM75 45h2v1h-2zM55 46h1v1h-1zM42 47h1v1h-1zM44 47h1v1h-1zM50 47h1v1h-1zM52 47h2v1h-2zM44 48h1v1h-1zM47 48h1v1h-1zM50 48h1v1h-1zM53 51h1v1h-1zM46 52h1v1h-1zM51 52h1v1h-1zM43 53h1v1h-1zM45 53h1v1h-1zM48 53h1v1h-1zM50 53h2v1h-2zM53 53h1v1h-1zM46 54h1v1h-1zM51 54h1v1h-1zM50 55h1v1h-1zM44 56h1v1h-1zM51 56h1v1h-1zM45 57h2v1h-2zM32 59h1v1h-1zM34 59h1v1h-1zM37 59h1v1h-1zM41 59h1v1h-1zM49 59h1v1h-1zM73 60h1v1h-1zM72 61h1v1h-1zM75 61h1v1h-1zM79 61h1v1h-1zM35 62h1v1h-1zM73 62h1v1h-1zM79 62h1v1h-1zM42 63h1v1h-1zM80 63h2v1h-2zM39 64h2v1h-2zM73 64h1v1h-1zM78 65h1v1h-1zM34 66h1v1h-1zM71 66h1v1h-1zM74 66h1v1h-1zM77 66h2v1h-2zM80 66h1v1h-1zM32 67h1v1h-1zM39 67h1v1h-1zM42 67h1v1h-1zM70 67h1v1h-1zM75 67h1v1h-1zM77 67h1v1h-1zM33 68h1v1h-1zM36 68h1v1h-1zM79 69h1v1h-1zM35 70h1v1h-1zM25 71h1v1h-1zM13 72h1v1h-1zM18 72h1v1h-1zM20 72h1v1h-1zM27 72h2v1h-2zM2 73h2v1h-2zM11 73h1v1h-1zM13 73h1v1h-1zM18 73h2v1h-2zM22 73h1v1h-1zM30 73h1v1h-1zM1 74h1v1h-1zM8 74h1v1h-1zM12 74h1v1h-1zM20 74h1v1h-1zM2 75h1v1h-1zM9 75h1v1h-1zM17 75h1v1h-1zM23 75h1v1h-1zM2 76h1v1h-1zM4 76h1v1h-1zM12 76h1v1h-1zM14 76h1v1h-1zM17 76h1v1h-1zM24 76h2v1h-2zM27 76h2v1h-2zM3 77h1v1h-1zM5 77h1v1h-1zM8 77h1v1h-1zM13 77h1v1h-1zM26 77h1v1h-1zM1 78h1v1h-1zM5 78h1v1h-1zM12 78h1v1h-1zM22 78h1v1h-1zM26 78h1v1h-1zM30 78h1v1h-1zM1 79h1v1h-1zM17 79h1v1h-1zM22 79h1v1h-1zM8 80h1v1h-1zM21 80h1v1h-1zM25 80h1v1h-1zM10 81h1v1h-1zM14 81h1v1h-1zM16 81h1v1h-1zM24 81h1v1h-1zM27 81h1v1h-1zM5 82h1v1h-1zM7 82h1v1h-1zM13 82h2v1h-2zM18 82h1v1h-1zM3 83h2v1h-2zM15 83h1v1h-1zM19 83h1v1h-1zM22 83h1v1h-1zM28 83h1v1h-1zM4 84h1v1h-1zM14 84h1v1h-1zM0 85h1v1h-1zM8 85h1v1h-1zM17 85h2v1h-2zM21 85h1v1h-1zM23 85h1v1h-1zM3 86h1v1h-1zM27 86h1v1h-1zM12 87h1v1h-1zM29 87h1v1h-1zM0 88h1v1h-1zM10 88h2v1h-2zM19 88h1v1h-1zM1 89h3v1h-3zM6 89h1v1h-1zM10 89h1v1h-1zM21 89h1v1h-1zM29 89h1v1h-1zM8 90h1v1h-1zM14 90h1v1h-1zM23 90h1v1h-1zM7 91h1v1h-1zM24 91h1v1h-1zM29 91h1v1h-1zM10 92h1v1h-1zM13 92h1v1h-1zM16 92h1v1h-1zM20 92h1v1h-1zM22 92h1v1h-1zM28 92h1v1h-1zM11 93h1v1h-1zM15 93h1v1h-1zM1 94h1v1h-1zM5 94h1v1h-1zM10 94h2v1h-2zM21 94h1v1h-1zM24 94h1v1h-1zM27 94h2v1h-2zM13 95h1v1h-1zM19 95h1v1h-1zM23 95h1v1h-1zM26 95h1v1h-1zM28 95h1v1h-1zM1 96h1v1h-1zM5 96h2v1h-2zM10 96h1v1h-1zM13 96h1v1h-1zM15 96h1v1h-1zM22 96h1v1h-1zM27 96h3v1h-3zM16 97h1v1h-1zM22 98h1v1h-1zM25 98h1v1h-1zM0 99h1v1h-1zM21 99h1v1h-1zM23 99h1v1h-1zM26 99h1v1h-1zM28 99h1v1h-1zM6 100h1v1h-1zM15 100h1v1h-1zM20 100h1v1h-1zM4 101h1v1h-1zM7 101h1v1h-1zM9 101h1v1h-1zM11 101h1v1h-1zM18 101h1v1h-1z"/><path fill="#fff" fill-opacity="0.12" d="M85 1h2v1h-2zM84 2h1v1h-1zM86 2h1v1h-1zM89 2h2v1h-2zM93 2h1v1h-1zM96 2h1v1h-1zM85 3h2v1h-2zM84 4h1v1h-1zM89 4h1v1h-1zM98 4h1v1h-1zM83 5h1v1h-1zM91 5h1v1h-1zM94 5h2v1h-2zM99 5h2v1h-2zM93 6h1v1h-1zM98 6h1v1h-1zM91 7h1v1h-1zM83 8h1v1h-1zM99 8h1v1h-1zM94 9h1v1h-1zM96 9h1v1h-1zM98 9h1v1h-1zM87 10h1v1h-1zM93 10h1v1h-1zM95 10h3v1h-3zM85 11h1v1h-1zM88 11h1v1h-1zM85 12h1v1h-1zM87 12h1v1h-1zM83 13h2v1h-2zM88 13h1v1h-1zM94 13h1v1h-1zM100 13h1v1h-1zM83 14h1v1h-1zM92 14h1v1h-1zM94 15h2v1h-2zM100 15h1v1h-1zM87 16h1v1h-1zM95 16h1v1h-1zM97 16h1v1h-1zM84 17h2v1h-2zM88 17h2v1h-2zM97 17h1v1h-1zM100 17h1v1h-1zM83 18h1v1h-1zM85 18h1v1h-1zM90 18h1v1h-1zM95 18h1v1h-1zM100 18h1v1h-1zM83 19h1v1h-1zM92 19h1v1h-1zM71 20h1v1h-1zM79 20h1v1h-1zM82 20h1v1h-1zM69 21h1v1h-1zM82 21h1v1h-1zM69 22h1v1h-1zM82 22h1v1h-1zM71 23h1v1h-1zM76 23h1v1h-1zM80 23h2v1h-2zM39 24h1v1h-1zM66 24h1v1h-1zM70 24h1v1h-1zM82 24h1v1h-1zM62 26h1v1h-1zM66 26h1v1h-1zM75 26h1v1h-1zM38 27h1v1h-1zM58 27h1v1h-1zM68 27h1v1h-1zM76 27h2v1h-2zM67 28h1v1h-1zM69 28h1v1h-1zM79 28h1v1h-1zM81 28h1v1h-1zM69 29h2v1h-2zM35 30h1v1h-1zM40 30h1v1h-1zM67 30h1v1h-1zM70 30h1v1h-1zM72 30h2v1h-2zM62 32h1v1h-1zM69 32h1v1h-1zM66 33h1v1h-1zM70 33h1v1h-1zM73 33h1v1h-1zM76 33h1v1h-1zM79 33h1v1h-1zM76 34h1v1h-1zM78 34h1v1h-1zM56 35h2v1h-2zM59 35h3v1h-3zM65 35h2v1h-2zM74 35h2v1h-2zM77 35h2v1h-2zM81 35h1v1h-1zM58 36h1v1h-1zM60 36h2v1h-2zM62 37h4v1h-4zM58 39h2v1h-2zM61 39h1v1h-1zM63 39h1v1h-1zM78 39h1v1h-1zM62 40h1v1h-1zM65 40h1v1h-1zM58 41h1v1h-1zM62 41h1v1h-1zM59 43h1v1h-1zM63 43h2v1h-2zM56 44h1v1h-1zM64 44h1v1h-1zM56 45h1v1h-1zM64 45h1v1h-1zM70 45h1v1h-1zM56 46h1v1h-1zM58 46h1v1h-1zM42 50h1v1h-1zM46 50h2v1h-2zM43 51h1v1h-1zM43 52h1v1h-1zM42 53h1v1h-1zM52 53h1v1h-1zM50 54h1v1h-1zM48 55h1v1h-1zM52 56h2v1h-2zM49 57h1v1h-1zM49 58h1v1h-1zM33 59h1v1h-1zM36 59h1v1h-1zM40 59h1v1h-1zM52 59h1v1h-1zM38 60h1v1h-1zM32 61h1v1h-1zM37 61h1v1h-1zM42 61h1v1h-1zM73 61h2v1h-2zM37 62h1v1h-1zM71 62h1v1h-1zM32 63h1v1h-1zM40 63h1v1h-1zM41 65h1v1h-1zM77 65h1v1h-1zM36 66h1v1h-1zM42 66h1v1h-1zM37 67h1v1h-1zM41 67h1v1h-1zM79 67h1v1h-1zM32 68h1v1h-1zM35 68h1v1h-1zM40 68h1v1h-1zM32 69h1v1h-1zM40 69h1v1h-1zM22 71h1v1h-1zM29 71h1v1h-1zM5 72h1v1h-1zM29 72h1v1h-1zM8 73h1v1h-1zM5 74h1v1h-1zM16 74h1v1h-1zM18 74h1v1h-1zM13 75h1v1h-1zM19 76h1v1h-1zM26 76h1v1h-1zM27 77h1v1h-1zM19 79h1v1h-1zM25 79h2v1h-2zM7 80h1v1h-1zM11 80h1v1h-1zM19 80h1v1h-1zM28 80h1v1h-1zM9 81h1v1h-1zM13 81h1v1h-1zM17 81h2v1h-2zM28 82h1v1h-1zM5 83h1v1h-1zM11 83h1v1h-1zM13 83h1v1h-1zM7 84h2v1h-2zM13 84h1v1h-1zM16 84h1v1h-1zM9 85h1v1h-1zM12 85h1v1h-1zM0 86h1v1h-1zM4 86h1v1h-1zM8 86h1v1h-1zM13 86h1v1h-1zM15 86h1v1h-1zM0 87h3v1h-3zM6 87h1v1h-1zM13 87h1v1h-1zM15 87h1v1h-1zM28 87h1v1h-1zM6 88h1v1h-1zM13 88h1v1h-1zM15 88h1v1h-1zM18 88h1v1h-1zM18 90h1v1h-1zM8 91h1v1h-1zM10 91h1v1h-1zM12 91h1v1h-1zM15 91h1v1h-1zM17 91h1v1h-1zM1 92h1v1h-1zM3 92h2v1h-2zM6 92h1v1h-1zM1 93h2v1h-2zM9 93h2v1h-2zM2 94h1v1h-1zM16 94h1v1h-1zM18 94h1v1h-1zM22 94h1v1h-1zM26 94h1v1h-1zM2 95h1v1h-1zM7 95h1v1h-1zM15 95h1v1h-1zM18 95h1v1h-1zM0 96h1v1h-1zM14 96h1v1h-1zM18 96h1v1h-1zM0 97h1v1h-1zM21 97h1v1h-1zM24 97h1v1h-1zM29 97h1v1h-1zM5 98h1v1h-1zM11 98h1v1h-1zM13 98h1v1h-1zM6 99h1v1h-1zM8 99h2v1h-2zM18 99h1v1h-1zM5 100h1v1h-1zM8 100h1v1h-1zM11 100h1v1h-1zM3 101h1v1h-1zM6 101h1v1h-1zM13 101h2v1h-2zM17 101h1v1h-1z"/><path fill="#fff" fill-opacity="0.16" d="M88 2h1v1h-1zM80 20h2v1h-2zM79 23h1v1h-1zM73 24h1v1h-1zM74 25h1v1h-1zM68 26h1v1h-1zM72 26h1v1h-1zM82 26h1v1h-1zM71 27h1v1h-1zM73 29h1v1h-1zM80 29h1v1h-1zM67 32h1v1h-1zM76 32h1v1h-1zM80 32h1v1h-1zM69 34h1v1h-1zM75 34h1v1h-1zM62 35h1v1h-1zM70 35h1v1h-1zM79 35h1v1h-1zM56 36h1v1h-1zM58 37h1v1h-1zM60 37h2v1h-2zM55 38h1v1h-1zM61 38h2v1h-2zM65 39h1v1h-1zM55 40h1v1h-1zM60 40h1v1h-1zM57 41h1v1h-1zM56 42h1v1h-1zM58 42h1v1h-1zM65 42h1v1h-1zM56 43h1v1h-1zM58 43h1v1h-1zM55 44h1v1h-1zM60 44h1v1h-1zM60 45h1v1h-1zM65 45h1v1h-1zM59 46h2v1h-2zM45 47h1v1h-1zM47 47h1v1h-1zM42 48h1v1h-1zM45 49h1v1h-1zM47 49h1v1h-1zM50 49h1v1h-1zM52 49h1v1h-1zM43 50h1v1h-1zM48 50h1v1h-1zM49 52h2v1h-2zM44 53h1v1h-1zM42 54h2v1h-2zM48 54h1v1h-1zM45 55h1v1h-1zM53 55h1v1h-1zM45 56h1v1h-1zM43 57h1v1h-1zM42 58h2v1h-2zM45 58h1v1h-1zM51 58h1v1h-1zM53 58h1v1h-1zM39 59h1v1h-1zM42 59h1v1h-1zM44 59h1v1h-1zM36 60h1v1h-1zM33 61h1v1h-1zM35 61h2v1h-2zM36 62h1v1h-1zM39 62h2v1h-2zM36 63h1v1h-1zM39 63h1v1h-1zM41 63h1v1h-1zM41 64h1v1h-1zM34 65h2v1h-2zM40 65h1v1h-1zM42 65h1v1h-1zM35 66h1v1h-1zM38 66h1v1h-1zM35 67h2v1h-2zM41 68h2v1h-2zM18 71h1v1h-1zM20 71h1v1h-1zM30 74h1v1h-1zM18 75h1v1h-1zM26 75h1v1h-1zM28 75h1v1h-1zM28 77h1v1h-1zM20 78h1v1h-1zM18 79h1v1h-1zM29 80h1v1h-1zM0 83h1v1h-1zM6 83h3v1h-3zM5 84h2v1h-2zM12 84h1v1h-1zM17 84h2v1h-2zM6 86h1v1h-1zM9 86h1v1h-1zM12 86h1v1h-1zM8 87h1v1h-1zM14 87h1v1h-1zM3 88h1v1h-1zM8 88h2v1h-2zM17 89h1v1h-1zM5 90h1v1h-1zM16 90h1v1h-1zM6 91h1v1h-1zM11 91h1v1h-1zM14 92h1v1h-1zM12 93h1v1h-1zM6 94h3v1h-3zM12 94h3v1h-3zM0 95h1v1h-1zM5 95h1v1h-1zM11 95h1v1h-1zM16 95h1v1h-1zM8 96h1v1h-1zM17 96h1v1h-1zM9 97h1v1h-1zM11 97h1v1h-1zM9 98h1v1h-1zM12 98h1v1h-1zM12 99h1v1h-1zM15 99h2v1h-2zM1 100h1v1h-1zM3 100h1v1h-1zM16 101h1v1h-1z"/><path fill="#fff" fill-opacity="0.20" d="M59 37h1v1h-1zM60 38h1v1h-1zM65 38h1v1h-1zM63 40h1v1h-1zM45 48h2v1h-2zM48 48h1v1h-1zM52 48h2v1h-2zM42 49h1v1h-1zM52 50h1v1h-1zM42 51h1v1h-1zM46 51h1v1h-1zM48 51h2v1h-2zM45 52h1v1h-1zM52 52h2v1h-2zM49 53h1v1h-1zM49 54h1v1h-1zM52 54h1v1h-1zM43 55h2v1h-2zM49 55h1v1h-1zM43 56h1v1h-1zM46 56h2v1h-2zM42 57h1v1h-1zM51 57h1v1h-1zM53 57h1v1h-1zM44 58h1v1h-1zM48 58h1v1h-1zM50 58h1v1h-1zM33 60h1v1h-1zM37 60h1v1h-1zM39 60h1v1h-1zM34 61h1v1h-1zM40 61h2v1h-2zM33 62h2v1h-2zM38 62h1v1h-1zM42 62h1v1h-1zM33 63h1v1h-1zM37 63h2v1h-2zM32 64h1v1h-1zM34 64h2v1h-2zM38 65h1v1h-1zM32 66h2v1h-2zM40 66h1v1h-1zM38 67h1v1h-1zM39 68h1v1h-1zM36 69h1v1h-1zM38 69h1v1h-1zM42 69h1v1h-1zM32 70h1v1h-1zM39 70h1v1h-1zM42 70h1v1h-1zM0 84h1v1h-1zM11 84h1v1h-1zM15 85h1v1h-1zM2 86h1v1h-1zM16 86h1v1h-1zM3 87h2v1h-2zM16 87h1v1h-1zM17 88h1v1h-1zM0 89h1v1h-1zM4 89h1v1h-1zM18 89h1v1h-1zM3 90h2v1h-2zM10 90h1v1h-1zM1 91h1v1h-1zM9 91h1v1h-1zM14 91h1v1h-1zM18 92h1v1h-1zM9 95h1v1h-1zM7 96h1v1h-1zM9 96h1v1h-1zM11 96h1v1h-1zM7 97h1v1h-1zM1 98h1v1h-1zM8 98h1v1h-1zM14 98h1v1h-1zM16 98h1v1h-1zM4 99h2v1h-2zM10 100h1v1h-1zM2 101h1v1h-1zM5 101h1v1h-1zM8 101h1v1h-1z"/><path fill="#fff" fill-opacity="0.24" d="M46 47h1v1h-1zM48 47h1v1h-1zM51 48h1v1h-1zM50 50h1v1h-1zM53 50h1v1h-1zM47 51h1v1h-1zM50 51h1v1h-1zM42 56h1v1h-1zM48 57h1v1h-1zM52 57h1v1h-1zM45 59h1v1h-1zM48 59h1v1h-1zM42 60h1v1h-1zM35 63h1v1h-1zM33 64h1v1h-1zM36 64h1v1h-1zM38 64h1v1h-1zM42 64h1v1h-1zM36 65h2v1h-2zM39 65h1v1h-1zM35 69h1v1h-1z"/></g></svg><svg width="195.50" height="194.00" style="position:absolute;left:375.00px;top:458.00px"><line x1="0" y1="194.00" x2="195.50" y2="0" stroke="#1030ff" stroke-width="5.5" opacity="0.35"/><line x1="0" y1="194.00" x2="195.50" y2="0" stroke="#0858ff" stroke-width="3.2" opacity="0.8"/><line x1="0" y1="194.00" x2="195.50" y2="0" stroke="#00b0ff" stroke-width="1.7"/><path d="M1.0 193.0h0M2.9 191.1h0M4.8 189.2h0M6.7 187.3h0M8.6 185.4h0M10.5 183.5h0M12.5 181.6h0M14.4 179.7h0M16.3 177.8h0M18.2 175.9h0M20.1 174.0h0M22.0 172.1h0M24.0 170.2h0M25.9 168.3h0M27.8 166.4h0M29.7 164.5h0M31.6 162.6h0M33.5 160.7h0M35.5 158.8h0M37.4 156.9h0M41.2 153.1h0M43.1 151.2h0M45.0 149.3h0M47.0 147.4h0M50.8 143.6h0M52.7 141.7h0M54.6 139.8h0M56.5 137.9h0M60.4 134.1h0M62.3 132.2h0M64.2 130.3h0M66.1 128.4h0M68.0 126.5h0M70.0 124.6h0M71.9 122.7h0M73.8 120.8h0M75.7 118.9h0M77.6 117.0h0M79.5 115.1h0M81.5 113.2h0M83.4 111.3h0M85.3 109.4h0M87.2 107.5h0M89.1 105.6h0M91.0 103.7h0M93.0 101.8h0M94.9 99.9h0M96.8 98.0h0M98.7 96.0h0M100.6 94.1h0M102.5 92.2h0M104.5 90.3h0M106.4 88.4h0M108.3 86.5h0M110.2 84.6h0M112.1 82.7h0M114.0 80.8h0M116.0 78.9h0M119.8 75.1h0M121.7 73.2h0M123.6 71.3h0M125.5 69.4h0M129.4 65.6h0M131.3 63.7h0M133.2 61.8h0M135.1 59.9h0M137.0 58.0h0M139.0 56.1h0M140.9 54.2h0M142.8 52.3h0M144.7 50.4h0M146.6 48.5h0M148.5 46.6h0M150.5 44.7h0M152.4 42.8h0M154.3 40.9h0M156.2 39.0h0M158.1 37.1h0M160.0 35.2h0M162.0 33.3h0M163.9 31.4h0M165.8 29.5h0M167.7 27.6h0M169.6 25.7h0M171.5 23.8h0M173.5 21.9h0M175.4 20.0h0M177.3 18.1h0M179.2 16.2h0M181.1 14.3h0M183.0 12.4h0M185.0 10.5h0M186.9 8.6h0M188.8 6.7h0M190.7 4.8h0M192.6 2.9h0M194.5 1.0h0" stroke="#10f0ff" stroke-width="1.7" stroke-linecap="round"/><path d="M39.3 155.0h0M48.9 145.5h0M58.5 136.0h0M117.9 77.0h0M127.5 67.5h0" stroke="#70ff30" stroke-width="2.7" stroke-linecap="round"/></svg><div class="tl" style="left:375.0px;top:654.0px;width:20px;margin-left:-10px;text-align:center">1</div><div class="tl" style="left:352.0px;top:647.4px;width:20px;text-align:right">1</div><div class="tk" style="left:374.6px;top:456.0px;width:0.8px;height:2px"></div><div class="tk" style="left:374.6px;top:652.0px;width:0.8px;height:2px"></div><div class="tk" style="left:373.0px;top:651.6px;width:2px;height:0.8px"></div><div class="tk" style="left:570.5px;top:651.6px;width:2px;height:0.8px"></div><div class="tl" style="left:394.3px;top:654.0px;width:20px;margin-left:-10px;text-align:center">11</div><div class="tl" style="left:352.0px;top:628.2px;width:20px;text-align:right">11</div><div class="tk" style="left:393.9px;top:456.0px;width:0.8px;height:2px"></div><div class="tk" style="left:393.9px;top:652.0px;width:0.8px;height:2px"></div><div class="tk" style="left:373.0px;top:632.4px;width:2px;height:0.8px"></div><div class="tk" style="left:570.5px;top:632.4px;width:2px;height:0.8px"></div><div class="tl" style="left:413.7px;top:654.0px;width:20px;margin-left:-10px;text-align:center">21</div><div class="tl" style="left:352.0px;top:609.0px;width:20px;text-align:right">21</div><div class="tk" style="left:413.3px;top:456.0px;width:0.8px;height:2px"></div><div class="tk" style="left:413.3px;top:652.0px;width:0.8px;height:2px"></div><div class="tk" style="left:373.0px;top:613.2px;width:2px;height:0.8px"></div><div class="tk" style="left:570.5px;top:613.2px;width:2px;height:0.8px"></div><div class="tl" style="left:433.0px;top:654.0px;width:20px;margin-left:-10px;text-align:center">31</div><div class="tl" style="left:352.0px;top:589.8px;width:20px;text-align:right">31</div><div class="tk" style="left:432.6px;top:456.0px;width:0.8px;height:2px"></div><div class="tk" style="left:432.6px;top:652.0px;width:0.8px;height:2px"></div><div class="tk" style="left:373.0px;top:594.0px;width:2px;height:0.8px"></div><div class="tk" style="left:570.5px;top:594.0px;width:2px;height:0.8px"></div><div class="tl" style="left:452.3px;top:654.0px;width:20px;margin-left:-10px;text-align:center">41</div><div class="tl" style="left:352.0px;top:570.6px;width:20px;text-align:right">41</div><div class="tk" style="left:451.9px;top:456.0px;width:0.8px;height:2px"></div><div class="tk" style="left:451.9px;top:652.0px;width:0.8px;height:2px"></div><div class="tk" style="left:373.0px;top:574.8px;width:2px;height:0.8px"></div><div class="tk" style="left:570.5px;top:574.8px;width:2px;height:0.8px"></div><div class="tl" style="left:471.7px;top:654.0px;width:20px;margin-left:-10px;text-align:center">51</div><div class="tl" style="left:352.0px;top:551.5px;width:20px;text-align:right">51</div><div class="tk" style="left:471.3px;top:456.0px;width:0.8px;height:2px"></div><div class="tk" style="left:471.3px;top:652.0px;width:0.8px;height:2px"></div><div class="tk" style="left:373.0px;top:555.7px;width:2px;height:0.8px"></div><div class="tk" style="left:570.5px;top:555.7px;width:2px;height:0.8px"></div><div class="tl" style="left:491.0px;top:654.0px;width:20px;margin-left:-10px;text-align:center">61</div><div class="tl" style="left:352.0px;top:532.3px;width:20px;text-align:right">61</div><div class="tk" style="left:490.6px;top:456.0px;width:0.8px;height:2px"></div><div class="tk" style="left:490.6px;top:652.0px;width:0.8px;height:2px"></div><div class="tk" style="left:373.0px;top:536.5px;width:2px;height:0.8px"></div><div class="tk" style="left:570.5px;top:536.5px;width:2px;height:0.8px"></div><div class="tl" style="left:510.4px;top:654.0px;width:20px;margin-left:-10px;text-align:center">71</div><div class="tl" style="left:352.0px;top:513.1px;width:20px;text-align:right">71</div><div class="tk" style="left:510.0px;top:456.0px;width:0.8px;height:2px"></div><div class="tk" style="left:510.0px;top:652.0px;width:0.8px;height:2px"></div><div class="tk" style="left:373.0px;top:517.3px;width:2px;height:0.8px"></div><div class="tk" style="left:570.5px;top:517.3px;width:2px;height:0.8px"></div><div class="tl" style="left:529.7px;top:654.0px;width:20px;margin-left:-10px;text-align:center">81</div><div class="tl" style="left:352.0px;top:493.9px;width:20px;text-align:right">81</div><div class="tk" style="left:529.3px;top:456.0px;width:0.8px;height:2px"></div><div class="tk" style="left:529.3px;top:652.0px;width:0.8px;height:2px"></div><div class="tk" style="left:373.0px;top:498.1px;width:2px;height:0.8px"></div><div class="tk" style="left:570.5px;top:498.1px;width:2px;height:0.8px"></div><div class="tl" style="left:549.0px;top:654.0px;width:20px;margin-left:-10px;text-align:center">91</div><div class="tl" style="left:352.0px;top:474.7px;width:20px;text-align:right">91</div><div class="tk" style="left:548.6px;top:456.0px;width:0.8px;height:2px"></div><div class="tk" style="left:548.6px;top:652.0px;width:0.8px;height:2px"></div><div class="tk" style="left:373.0px;top:478.9px;width:2px;height:0.8px"></div><div class="tk" style="left:570.5px;top:478.9px;width:2px;height:0.8px"></div><div class="tl" style="left:568.4px;top:654.0px;width:20px;margin-left:-10px;text-align:center">101</div><div class="tl" style="left:352.0px;top:455.5px;width:20px;text-align:right">101</div><div class="tk" style="left:568.0px;top:456.0px;width:0.8px;height:2px"></div><div class="tk" style="left:568.0px;top:652.0px;width:0.8px;height:2px"></div><div class="tk" style="left:373.0px;top:459.7px;width:2px;height:0.8px"></div><div class="tk" style="left:570.5px;top:459.7px;width:2px;height:0.8px"></div><svg style="position:absolute;left:578.00px;top:458.00px" width="7.00" height="194.00"><defs><linearGradient id="gPCLM3" x1="0" y1="0" x2="0" y2="1"><stop offset="0.000" stop-color="#ff0000"/><stop offset="0.070" stop-color="#ff4000"/><stop offset="0.160" stop-color="#ffa000"/><stop offset="0.260" stop-color="#ffff00"/><stop offset="0.360" stop-color="#aaff00"/><stop offset="0.470" stop-color="#00ff00"/><stop offset="0.530" stop-color="#00ff96"/><stop offset="0.600" stop-color="#00f0ff"/><stop offset="0.660" stop-color="#00aaff"/><stop offset="0.740" stop-color="#0050ff"/><stop offset="0.860" stop-color="#0a00ff"/><stop offset="0.940" stop-color="#280096"/><stop offset="1.000" stop-color="#220046"/></linearGradient></defs><rect width="100%" height="100%" fill="url(#gPCLM3)"/></svg><div class="cl" style="left:589.8px;top:647.8px">0.0000</div><div class="tk" style="left:585.0px;top:651.6px;width:2px;height:0.8px"></div><div class="cl" style="left:589.8px;top:628.4px">0.5408</div><div class="tk" style="left:585.0px;top:632.2px;width:2px;height:0.8px"></div><div class="cl" style="left:589.8px;top:609.0px">1.0816</div><div class="tk" style="left:585.0px;top:612.8px;width:2px;height:0.8px"></div><div class="cl" style="left:589.8px;top:589.6px">1.6224</div><div class="tk" style="left:585.0px;top:593.4px;width:2px;height:0.8px"></div><div class="cl" style="left:589.8px;top:570.2px">2.1632</div><div class="tk" style="left:585.0px;top:574.0px;width:2px;height:0.8px"></div><div class="cl" style="left:589.8px;top:550.8px">2.7040</div><div class="tk" style="left:585.0px;top:554.6px;width:2px;height:0.8px"></div><div class="cl" style="left:589.8px;top:531.4px">3.2448</div><div class="tk" style="left:585.0px;top:535.2px;width:2px;height:0.8px"></div><div class="cl" style="left:589.8px;top:512.0px">3.7856</div><div class="tk" style="left:585.0px;top:515.8px;width:2px;height:0.8px"></div><div class="cl" style="left:589.8px;top:492.6px">4.3264</div><div class="tk" style="left:585.0px;top:496.4px;width:2px;height:0.8px"></div><div class="cl" style="left:589.8px;top:473.2px">4.8673</div><div class="tk" style="left:585.0px;top:477.0px;width:2px;height:0.8px"></div><div class="cl" style="left:589.8px;top:453.8px">5.4081</div><div class="tk" style="left:585.0px;top:457.6px;width:2px;height:0.8px"></div><div class="rl" style="left:342.5px;top:491.0px;color:#3f7f1f">A</div><div class="rl" style="left:342.5px;top:522.5px;color:#f01010">B</div><div class="rl" style="left:342.5px;top:555.4px;color:#3f7f1f">A</div><div class="rl" style="left:342.5px;top:590.7px;color:#f01010">B</div><div class="rl" style="left:345.8px;top:621.8px;color:#000">C</div><div class="bl" style="left:375.0px;top:615.2px;width:36.0px;height:1.3px"></div><div class="bl" style="left:409.8px;top:615.2px;width:1.3px;height:36.8px"></div><div class="bl" style="left:375.0px;top:591.1px;width:61.5px;height:1.3px"></div><div class="bl" style="left:435.2px;top:591.1px;width:1.3px;height:60.9px"></div><div class="bl" style="left:375.0px;top:542.8px;width:110.8px;height:1.3px"></div><div class="bl" style="left:484.6px;top:542.8px;width:1.3px;height:109.3px"></div><div class="bl" style="left:375.0px;top:522.9px;width:130.8px;height:1.3px"></div><div class="bl" style="left:504.6px;top:522.9px;width:1.3px;height:129.2px"></div><div class="ttl" style="left:105.0px;top:681.0px">PCLM4</div><svg width="198.20" height="189.00" viewBox="0 0 86 86" preserveAspectRatio="none" style="position:absolute;left:96.50px;top:701.00px"><defs><filter id="cmPCLM4" x="0" y="0" width="100%" height="100%" color-interpolation-filters="sRGB"><feGaussianBlur stdDeviation="0.55" edgeMode="duplicate"/><feComponentTransfer><feFuncR type="table" tableValues="0.133 0.141 0.153 0.133 0.098 0.063 0.035 0.027 0.020 0.012 0.004 0.000 0.000 0.000 0.000 0.000 0.000 0.000 0.000 0.000 0.000 0.000 0.122 0.275 0.424 0.576 0.698 0.784 0.867 0.949 1.000 1.000 1.000 1.000 1.000 1.000 1.000 1.000 1.000 1.000 1.000"/><feFuncG type="table" tableValues="0.000 0.000 0.000 0.000 0.000 0.000 0.027 0.090 0.157 0.224 0.286 0.380 0.490 0.600 0.714 0.827 0.941 0.961 0.984 1.000 1.000 1.000 1.000 1.000 1.000 1.000 1.000 1.000 1.000 1.000 0.965 0.871 0.776 0.682 0.584 0.482 0.376 0.271 0.180 0.090 0.000"/><feFuncB type="table" tableValues="0.275 0.404 0.537 0.667 0.792 0.922 1.000 1.000 1.000 1.000 1.000 1.000 1.000 1.000 1.000 1.000 1.000 0.855 0.706 0.541 0.294 0.047 0.000 0.000 0.000 0.000 0.000 0.000 0.000 0.000 0.000 0.000 0.000 0.000 0.000 0.000 0.000 0.000 0.000 0.000 0.000"/><feFuncA type="linear" slope="0" intercept="1"/></feComponentTransfer></filter></defs><g filter="url(#cmPCLM4)"><rect width="86" height="86" fill="#000"/><path fill="#fff" fill-opacity="0.04" d="M57 0h1v1h-1zM57 2h1v1h-1zM63 2h1v1h-1zM62 3h1v1h-1zM60 6h1v1h-1zM73 8h1v1h-1zM72 14h1v1h-1zM63 17h1v1h-1zM74 18h1v1h-1zM57 19h1v1h-1zM85 22h1v1h-1zM60 23h1v1h-1zM63 23h1v1h-1zM67 24h1v1h-1zM83 24h1v1h-1zM36 25h1v1h-1zM80 25h1v1h-1zM57 26h1v1h-1zM37 28h1v1h-1zM43 28h1v1h-1zM60 28h1v1h-1zM66 28h1v1h-1zM25 34h1v1h-1zM25 35h1v1h-1zM25 36h1v1h-1zM22 37h2v1h-2zM62 42h1v1h-1zM58 43h1v1h-1zM57 50h1v1h-1zM9 53h1v1h-1zM12 53h1v1h-1zM15 54h1v1h-1zM23 54h1v1h-1zM26 54h1v1h-1zM4 55h1v1h-1zM10 55h1v1h-1zM13 55h2v1h-2zM9 56h1v1h-1zM21 56h1v1h-1zM7 57h1v1h-1zM11 57h2v1h-2zM26 57h1v1h-1zM31 57h1v1h-1zM10 59h1v1h-1zM12 59h2v1h-2zM27 60h1v1h-1zM46 60h1v1h-1zM49 60h1v1h-1zM53 60h1v1h-1zM20 61h1v1h-1zM24 61h1v1h-1zM52 61h2v1h-2zM30 62h1v1h-1zM46 62h2v1h-2zM26 63h1v1h-1zM50 63h2v1h-2zM22 64h1v1h-1zM16 66h1v1h-1zM14 68h1v1h-1zM26 69h1v1h-1zM31 69h1v1h-1zM32 70h1v1h-1zM32 71h1v1h-1zM28 72h1v1h-1zM28 75h1v1h-1zM33 75h1v1h-1zM16 78h1v1h-1zM5 79h1v1h-1zM26 80h1v1h-1zM28 80h2v1h-2zM32 81h1v1h-1zM31 83h1v1h-1zM33 83h1v1h-1z"/><path fill="#fff" fill-opacity="0.08" d="M62 0h1v1h-1zM81 0h1v1h-1zM84 0h1v1h-1zM59 1h1v1h-1zM62 1h2v1h-2zM79 1h1v1h-1zM81 1h1v1h-1zM58 3h1v1h-1zM77 3h1v1h-1zM57 4h1v1h-1zM61 4h1v1h-1zM84 4h1v1h-1zM58 5h1v1h-1zM81 5h1v1h-1zM83 5h1v1h-1zM75 7h1v1h-1zM79 7h1v1h-1zM84 7h1v1h-1zM85 8h1v1h-1zM75 9h1v1h-1zM71 11h1v1h-1zM70 12h1v1h-1zM73 12h2v1h-2zM68 13h1v1h-1zM72 13h2v1h-2zM73 14h1v1h-1zM70 15h1v1h-1zM66 17h1v1h-1zM68 17h1v1h-1zM71 17h1v1h-1zM73 17h1v1h-1zM71 18h1v1h-1zM76 18h1v1h-1zM61 20h1v1h-1zM67 20h1v1h-1zM63 21h1v1h-1zM64 22h2v1h-2zM79 22h1v1h-1zM34 23h1v1h-1zM80 23h1v1h-1zM82 23h1v1h-1zM35 24h1v1h-1zM37 24h1v1h-1zM39 24h1v1h-1zM41 24h1v1h-1zM79 24h1v1h-1zM84 24h1v1h-1zM37 25h1v1h-1zM39 25h2v1h-2zM60 25h1v1h-1zM34 26h1v1h-1zM66 26h1v1h-1zM79 26h1v1h-1zM34 27h1v1h-1zM37 27h1v1h-1zM40 27h2v1h-2zM64 27h1v1h-1zM68 27h1v1h-1zM40 28h1v1h-1zM79 28h1v1h-1zM81 28h2v1h-2zM85 28h1v1h-1zM23 32h1v1h-1zM53 32h1v1h-1zM46 33h2v1h-2zM49 33h1v1h-1zM21 34h2v1h-2zM47 34h2v1h-2zM23 36h1v1h-1zM50 36h1v1h-1zM21 37h1v1h-1zM24 37h1v1h-1zM46 37h1v1h-1zM47 38h2v1h-2zM50 38h1v1h-1zM53 38h1v1h-1zM21 39h1v1h-1zM24 39h1v1h-1zM46 39h2v1h-2zM25 40h1v1h-1zM46 41h1v1h-1zM49 41h1v1h-1zM53 41h1v1h-1zM36 42h1v1h-1zM57 42h2v1h-2zM35 43h1v1h-1zM33 44h1v1h-1zM39 44h1v1h-1zM38 46h1v1h-1zM40 47h1v1h-1zM58 47h1v1h-1zM61 47h1v1h-1zM38 48h1v1h-1zM42 48h1v1h-1zM58 48h1v1h-1zM33 49h1v1h-1zM35 49h1v1h-1zM42 49h1v1h-1zM59 49h1v1h-1zM33 50h1v1h-1zM35 50h1v1h-1zM40 50h1v1h-1zM59 50h2v1h-2zM40 51h1v1h-1zM60 51h1v1h-1zM7 52h1v1h-1zM14 52h1v1h-1zM33 52h1v1h-1zM2 53h1v1h-1zM6 53h2v1h-2zM11 53h1v1h-1zM1 54h1v1h-1zM6 54h1v1h-1zM1 55h2v1h-2zM16 55h1v1h-1zM20 55h1v1h-1zM31 55h1v1h-1zM4 56h1v1h-1zM6 56h1v1h-1zM13 56h1v1h-1zM20 56h1v1h-1zM22 56h1v1h-1zM30 56h1v1h-1zM8 57h1v1h-1zM16 57h1v1h-1zM22 57h1v1h-1zM7 58h1v1h-1zM13 58h2v1h-2zM24 58h1v1h-1zM5 59h1v1h-1zM25 59h1v1h-1zM27 59h1v1h-1zM26 60h1v1h-1zM50 60h1v1h-1zM52 60h1v1h-1zM21 61h2v1h-2zM26 61h1v1h-1zM48 61h1v1h-1zM50 61h1v1h-1zM23 62h1v1h-1zM26 62h1v1h-1zM45 62h1v1h-1zM53 62h1v1h-1zM45 63h2v1h-2zM28 64h1v1h-1zM48 64h1v1h-1zM24 65h2v1h-2zM31 65h1v1h-1zM0 66h1v1h-1zM2 66h1v1h-1zM6 66h1v1h-1zM7 67h1v1h-1zM1 68h1v1h-1zM4 69h2v1h-2zM7 69h1v1h-1zM26 70h1v1h-1zM6 71h1v1h-1zM8 71h1v1h-1zM15 71h1v1h-1zM30 71h1v1h-1zM7 72h1v1h-1zM16 72h1v1h-1zM19 72h1v1h-1zM30 72h1v1h-1zM0 73h1v1h-1zM11 73h1v1h-1zM12 74h1v1h-1zM16 74h1v1h-1zM29 74h1v1h-1zM31 74h1v1h-1zM26 75h2v1h-2zM30 75h1v1h-1zM32 75h1v1h-1zM10 76h1v1h-1zM26 76h1v1h-1zM29 76h1v1h-1zM5 77h1v1h-1zM13 77h1v1h-1zM27 77h1v1h-1zM2 78h2v1h-2zM12 78h1v1h-1zM26 78h1v1h-1zM31 78h1v1h-1zM33 78h1v1h-1zM0 79h1v1h-1zM2 79h1v1h-1zM10 79h1v1h-1zM14 79h1v1h-1zM30 79h2v1h-2zM8 80h2v1h-2zM18 80h1v1h-1zM27 80h1v1h-1zM0 81h2v1h-2zM4 81h1v1h-1zM13 81h1v1h-1zM16 81h1v1h-1zM19 81h1v1h-1zM26 81h1v1h-1zM14 82h1v1h-1zM27 82h1v1h-1zM29 82h1v1h-1zM3 83h1v1h-1zM7 83h1v1h-1zM14 83h1v1h-1zM16 83h3v1h-3zM32 83h1v1h-1zM0 84h1v1h-1zM8 84h2v1h-2zM11 84h2v1h-2zM17 84h1v1h-1zM26 84h1v1h-1zM30 84h1v1h-1z"/><path fill="#fff" fill-opacity="0.12" d="M77 0h1v1h-1zM83 0h1v1h-1zM78 1h1v1h-1zM59 2h1v1h-1zM80 2h1v1h-1zM82 3h1v1h-1zM77 4h1v1h-1zM80 4h1v1h-1zM82 4h1v1h-1zM85 4h1v1h-1zM79 6h1v1h-1zM84 6h1v1h-1zM81 7h2v1h-2zM85 7h1v1h-1zM68 8h1v1h-1zM74 8h1v1h-1zM82 8h2v1h-2zM76 9h1v1h-1zM70 10h1v1h-1zM74 10h2v1h-2zM71 12h1v1h-1zM69 13h1v1h-1zM74 13h2v1h-2zM71 15h1v1h-1zM69 16h1v1h-1zM61 17h2v1h-2zM64 17h2v1h-2zM69 17h1v1h-1zM74 17h1v1h-1zM69 18h1v1h-1zM73 18h1v1h-1zM58 19h1v1h-1zM63 19h1v1h-1zM66 19h1v1h-1zM57 20h1v1h-1zM67 21h1v1h-1zM57 22h1v1h-1zM37 23h1v1h-1zM41 23h1v1h-1zM84 23h1v1h-1zM36 24h1v1h-1zM57 24h1v1h-1zM61 24h1v1h-1zM68 24h1v1h-1zM35 25h1v1h-1zM42 25h1v1h-1zM66 25h1v1h-1zM81 25h1v1h-1zM41 26h2v1h-2zM64 26h2v1h-2zM42 27h2v1h-2zM59 27h1v1h-1zM62 27h2v1h-2zM52 31h1v1h-1zM46 32h1v1h-1zM43 33h1v1h-1zM51 33h1v1h-1zM52 34h1v1h-1zM22 35h1v1h-1zM24 35h1v1h-1zM46 36h2v1h-2zM49 36h1v1h-1zM53 36h1v1h-1zM25 37h1v1h-1zM43 37h1v1h-1zM45 37h1v1h-1zM22 39h1v1h-1zM49 39h1v1h-1zM52 39h1v1h-1zM50 40h1v1h-1zM25 41h1v1h-1zM33 42h1v1h-1zM33 43h1v1h-1zM38 43h1v1h-1zM61 43h1v1h-1zM37 44h1v1h-1zM41 44h1v1h-1zM57 44h2v1h-2zM41 45h1v1h-1zM62 45h1v1h-1zM33 46h1v1h-1zM35 46h1v1h-1zM42 46h1v1h-1zM42 47h1v1h-1zM60 47h1v1h-1zM57 48h1v1h-1zM59 48h1v1h-1zM41 49h1v1h-1zM57 49h1v1h-1zM34 50h1v1h-1zM38 50h1v1h-1zM42 50h1v1h-1zM58 50h1v1h-1zM38 51h1v1h-1zM41 51h1v1h-1zM59 51h1v1h-1zM2 52h1v1h-1zM12 52h2v1h-2zM35 52h1v1h-1zM42 52h1v1h-1zM16 53h1v1h-1zM10 54h1v1h-1zM17 54h1v1h-1zM20 54h1v1h-1zM12 55h1v1h-1zM17 55h1v1h-1zM21 55h1v1h-1zM3 56h1v1h-1zM5 56h1v1h-1zM16 56h2v1h-2zM23 56h1v1h-1zM26 56h1v1h-1zM3 57h1v1h-1zM6 57h1v1h-1zM9 57h2v1h-2zM24 57h2v1h-2zM2 58h1v1h-1zM5 58h1v1h-1zM9 58h1v1h-1zM20 58h1v1h-1zM14 59h2v1h-2zM17 59h1v1h-1zM20 59h3v1h-3zM22 60h1v1h-1zM25 60h1v1h-1zM51 60h1v1h-1zM25 61h1v1h-1zM28 61h2v1h-2zM31 62h1v1h-1zM50 62h1v1h-1zM28 63h1v1h-1zM30 63h1v1h-1zM49 63h1v1h-1zM26 64h1v1h-1zM53 64h1v1h-1zM28 65h1v1h-1zM7 66h1v1h-1zM14 66h2v1h-2zM2 67h1v1h-1zM16 67h1v1h-1zM2 68h2v1h-2zM5 68h1v1h-1zM10 68h1v1h-1zM13 68h1v1h-1zM17 68h1v1h-1zM19 68h1v1h-1zM29 68h1v1h-1zM31 68h2v1h-2zM15 69h1v1h-1zM29 69h1v1h-1zM32 69h1v1h-1zM3 70h1v1h-1zM5 70h1v1h-1zM9 70h1v1h-1zM31 70h1v1h-1zM3 71h1v1h-1zM17 72h2v1h-2zM26 72h1v1h-1zM4 73h1v1h-1zM13 73h2v1h-2zM29 73h1v1h-1zM3 74h1v1h-1zM9 74h1v1h-1zM14 74h2v1h-2zM26 74h1v1h-1zM28 74h1v1h-1zM0 75h1v1h-1zM3 75h1v1h-1zM9 75h1v1h-1zM12 75h1v1h-1zM0 76h1v1h-1zM5 76h1v1h-1zM8 76h1v1h-1zM12 76h1v1h-1zM27 76h1v1h-1zM33 76h1v1h-1zM0 77h1v1h-1zM2 77h3v1h-3zM9 77h1v1h-1zM0 78h1v1h-1zM14 78h1v1h-1zM27 78h1v1h-1zM30 78h1v1h-1zM7 79h1v1h-1zM12 79h1v1h-1zM6 80h1v1h-1zM15 80h2v1h-2zM19 80h1v1h-1zM3 81h1v1h-1zM6 81h1v1h-1zM12 81h1v1h-1zM2 82h1v1h-1zM18 82h1v1h-1zM5 84h1v1h-1zM19 84h1v1h-1zM5 85h1v1h-1zM13 85h3v1h-3z"/><path fill="#fff" fill-opacity="0.16" d="M78 0h1v1h-1zM77 1h1v1h-1zM82 1h1v1h-1zM77 2h1v1h-1zM82 2h1v1h-1zM78 3h1v1h-1zM83 3h1v1h-1zM78 4h2v1h-2zM83 4h1v1h-1zM80 6h1v1h-1zM85 6h1v1h-1zM83 7h1v1h-1zM69 8h1v1h-1zM72 8h1v1h-1zM77 8h1v1h-1zM80 8h1v1h-1zM68 9h1v1h-1zM75 11h1v1h-1zM69 14h1v1h-1zM74 14h1v1h-1zM74 15h3v1h-3zM70 16h1v1h-1zM67 17h1v1h-1zM70 17h1v1h-1zM75 17h1v1h-1zM58 18h1v1h-1zM65 18h1v1h-1zM72 18h1v1h-1zM59 19h1v1h-1zM62 19h1v1h-1zM58 20h1v1h-1zM63 20h1v1h-1zM59 22h1v1h-1zM65 24h1v1h-1zM68 25h1v1h-1zM58 27h1v1h-1zM66 27h1v1h-1zM45 31h3v1h-3zM51 31h1v1h-1zM53 31h1v1h-1zM44 32h1v1h-1zM46 34h1v1h-1zM53 35h1v1h-1zM44 36h1v1h-1zM50 37h1v1h-1zM45 38h1v1h-1zM51 38h1v1h-1zM50 39h1v1h-1zM43 40h1v1h-1zM49 40h1v1h-1zM48 41h1v1h-1zM52 41h1v1h-1zM35 42h1v1h-1zM40 42h1v1h-1zM36 43h1v1h-1zM39 43h1v1h-1zM34 44h1v1h-1zM36 44h1v1h-1zM38 44h1v1h-1zM39 45h1v1h-1zM36 47h1v1h-1zM41 47h1v1h-1zM33 48h1v1h-1zM36 48h2v1h-2zM40 48h2v1h-2zM38 49h1v1h-1zM40 49h1v1h-1zM35 51h1v1h-1zM39 51h1v1h-1zM34 52h1v1h-1zM36 52h1v1h-1zM41 52h1v1h-1zM24 56h1v1h-1zM28 59h1v1h-1zM30 59h1v1h-1zM27 61h1v1h-1zM24 62h1v1h-1zM20 64h1v1h-1zM26 65h1v1h-1zM5 66h1v1h-1zM9 66h1v1h-1zM17 66h1v1h-1zM19 66h1v1h-1zM8 67h1v1h-1zM11 67h1v1h-1zM19 67h1v1h-1zM16 68h1v1h-1zM2 69h1v1h-1zM9 69h1v1h-1zM12 69h1v1h-1zM4 70h1v1h-1zM7 70h1v1h-1zM15 70h1v1h-1zM1 71h2v1h-2zM7 71h1v1h-1zM2 72h3v1h-3zM1 73h2v1h-2zM6 73h1v1h-1zM15 73h1v1h-1zM4 74h1v1h-1zM11 74h1v1h-1zM6 75h1v1h-1zM10 75h1v1h-1zM13 75h2v1h-2zM17 75h1v1h-1zM1 76h3v1h-3zM7 76h1v1h-1zM14 76h1v1h-1zM19 76h1v1h-1zM8 77h1v1h-1zM14 77h2v1h-2zM6 78h1v1h-1zM11 78h1v1h-1zM1 79h1v1h-1zM11 79h1v1h-1zM13 79h1v1h-1zM16 79h1v1h-1zM18 79h1v1h-1zM0 80h2v1h-2zM4 80h1v1h-1zM7 80h1v1h-1zM5 81h1v1h-1zM8 81h1v1h-1zM14 81h1v1h-1zM18 81h1v1h-1zM3 82h4v1h-4zM17 82h1v1h-1zM6 83h1v1h-1zM8 83h1v1h-1zM13 83h1v1h-1zM15 83h1v1h-1zM1 84h1v1h-1zM1 85h1v1h-1zM6 85h1v1h-1zM19 85h1v1h-1z"/><path fill="#fff" fill-opacity="0.20" d="M79 0h1v1h-1zM84 1h2v1h-2zM77 5h1v1h-1zM81 6h1v1h-1zM77 7h1v1h-1zM79 8h1v1h-1zM44 31h1v1h-1zM48 31h1v1h-1zM43 32h1v1h-1zM45 32h1v1h-1zM47 32h3v1h-3zM51 32h2v1h-2zM45 33h1v1h-1zM44 34h1v1h-1zM50 34h1v1h-1zM47 35h1v1h-1zM49 35h1v1h-1zM52 35h1v1h-1zM52 36h1v1h-1zM48 37h1v1h-1zM51 37h1v1h-1zM43 38h1v1h-1zM46 38h1v1h-1zM49 38h1v1h-1zM43 39h1v1h-1zM46 40h2v1h-2zM53 40h1v1h-1zM50 41h1v1h-1zM42 42h1v1h-1zM35 44h1v1h-1zM42 44h1v1h-1zM35 45h2v1h-2zM40 45h1v1h-1zM42 45h1v1h-1zM36 46h1v1h-1zM39 46h2v1h-2zM34 47h1v1h-1zM34 49h1v1h-1zM37 49h1v1h-1zM36 50h1v1h-1zM36 51h1v1h-1zM42 51h1v1h-1zM38 52h1v1h-1zM1 67h1v1h-1zM10 67h1v1h-1zM12 67h1v1h-1zM15 68h1v1h-1zM0 69h1v1h-1zM17 69h2v1h-2zM10 70h2v1h-2zM9 71h1v1h-1zM18 71h1v1h-1zM5 73h1v1h-1zM9 73h1v1h-1zM7 75h1v1h-1zM6 77h1v1h-1zM15 78h1v1h-1zM2 80h1v1h-1zM10 80h1v1h-1zM0 82h1v1h-1zM12 82h1v1h-1zM2 84h1v1h-1zM8 85h1v1h-1zM10 85h1v1h-1z"/><path fill="#fff" fill-opacity="0.24" d="M50 33h1v1h-1zM48 35h1v1h-1zM43 36h1v1h-1zM49 37h1v1h-1zM44 38h1v1h-1zM52 38h1v1h-1zM44 39h1v1h-1zM44 40h1v1h-1zM52 40h1v1h-1zM45 41h1v1h-1zM37 46h1v1h-1zM41 46h1v1h-1zM37 50h1v1h-1z"/></g></svg><svg width="198.20" height="189.00" style="position:absolute;left:96.50px;top:701.00px"><line x1="0" y1="189.00" x2="198.20" y2="0" stroke="#1030ff" stroke-width="5.5" opacity="0.35"/><line x1="0" y1="189.00" x2="198.20" y2="0" stroke="#0858ff" stroke-width="3.2" opacity="0.8"/><line x1="0" y1="189.00" x2="198.20" y2="0" stroke="#00b0ff" stroke-width="1.7"/><path d="M1.2 187.9h0M3.5 185.7h0M5.8 183.5h0M8.1 181.3h0M10.4 179.1h0M12.7 176.9h0M15.0 174.7h0M17.3 172.5h0M19.6 170.3h0M21.9 168.1h0M24.2 165.9h0M26.5 163.7h0M28.8 161.5h0M31.1 159.3h0M33.4 157.1h0M35.7 154.9h0M38.0 152.7h0M42.6 148.3h0M44.9 146.1h0M49.6 141.8h0M51.9 139.6h0M54.2 137.4h0M56.5 135.2h0M58.8 133.0h0M63.4 128.6h0M65.7 126.4h0M68.0 124.2h0M70.3 122.0h0M72.6 119.8h0M74.9 117.6h0M77.2 115.4h0M79.5 113.2h0M81.8 111.0h0M84.1 108.8h0M86.4 106.6h0M88.7 104.4h0M91.0 102.2h0M93.3 100.0h0M95.6 97.8h0M97.9 95.6h0M100.3 93.4h0M102.6 91.2h0M104.9 89.0h0M107.2 86.8h0M109.5 84.6h0M111.8 82.4h0M114.1 80.2h0M116.4 78.0h0M118.7 75.8h0M121.0 73.6h0M123.3 71.4h0M125.6 69.2h0M127.9 67.0h0M130.2 64.8h0M132.5 62.6h0M134.8 60.4h0M137.1 58.2h0M139.4 56.0h0M141.7 53.8h0M146.3 49.4h0M148.7 47.2h0M151.0 45.1h0M153.3 42.9h0M155.6 40.7h0M157.9 38.5h0M160.2 36.3h0M162.5 34.1h0M164.8 31.9h0M169.4 27.5h0M171.7 25.3h0M174.0 23.1h0M176.3 20.9h0M178.6 18.7h0M180.9 16.5h0M183.2 14.3h0M185.5 12.1h0M190.1 7.7h0M192.4 5.5h0M194.7 3.3h0M197.0 1.1h0" stroke="#10f0ff" stroke-width="1.7" stroke-linecap="round"/><path d="M40.3 150.5h0M47.2 143.9h0M61.1 130.8h0M144.0 51.6h0M167.1 29.7h0M187.8 9.9h0" stroke="#70ff30" stroke-width="2.7" stroke-linecap="round"/></svg><div class="tl" style="left:96.5px;top:892.0px;width:20px;margin-left:-10px;text-align:center">1</div><div class="tl" style="left:73.5px;top:885.4px;width:20px;text-align:right">1</div><div class="tk" style="left:96.1px;top:699.0px;width:0.8px;height:2px"></div><div class="tk" style="left:96.1px;top:890.0px;width:0.8px;height:2px"></div><div class="tk" style="left:94.5px;top:889.6px;width:2px;height:0.8px"></div><div class="tk" style="left:294.7px;top:889.6px;width:2px;height:0.8px"></div><div class="tl" style="left:117.5px;top:892.0px;width:20px;margin-left:-10px;text-align:center">10</div><div class="tl" style="left:73.5px;top:865.4px;width:20px;text-align:right">10</div><div class="tk" style="left:117.1px;top:699.0px;width:0.8px;height:2px"></div><div class="tk" style="left:117.1px;top:890.0px;width:0.8px;height:2px"></div><div class="tk" style="left:94.5px;top:869.6px;width:2px;height:0.8px"></div><div class="tk" style="left:294.7px;top:869.6px;width:2px;height:0.8px"></div><div class="tl" style="left:138.4px;top:892.0px;width:20px;margin-left:-10px;text-align:center">19</div><div class="tl" style="left:73.5px;top:845.5px;width:20px;text-align:right">19</div><div class="tk" style="left:138.0px;top:699.0px;width:0.8px;height:2px"></div><div class="tk" style="left:138.0px;top:890.0px;width:0.8px;height:2px"></div><div class="tk" style="left:94.5px;top:849.7px;width:2px;height:0.8px"></div><div class="tk" style="left:294.7px;top:849.7px;width:2px;height:0.8px"></div><div class="tl" style="left:159.4px;top:892.0px;width:20px;margin-left:-10px;text-align:center">28</div><div class="tl" style="left:73.5px;top:825.5px;width:20px;text-align:right">28</div><div class="tk" style="left:159.0px;top:699.0px;width:0.8px;height:2px"></div><div class="tk" style="left:159.0px;top:890.0px;width:0.8px;height:2px"></div><div class="tk" style="left:94.5px;top:829.7px;width:2px;height:0.8px"></div><div class="tk" style="left:294.7px;top:829.7px;width:2px;height:0.8px"></div><div class="tl" style="left:180.3px;top:892.0px;width:20px;margin-left:-10px;text-align:center">37</div><div class="tl" style="left:73.5px;top:805.5px;width:20px;text-align:right">37</div><div class="tk" style="left:179.9px;top:699.0px;width:0.8px;height:2px"></div><div class="tk" style="left:179.9px;top:890.0px;width:0.8px;height:2px"></div><div class="tk" style="left:94.5px;top:809.7px;width:2px;height:0.8px"></div><div class="tk" style="left:294.7px;top:809.7px;width:2px;height:0.8px"></div><div class="tl" style="left:201.3px;top:892.0px;width:20px;margin-left:-10px;text-align:center">46</div><div class="tl" style="left:73.5px;top:785.6px;width:20px;text-align:right">46</div><div class="tk" style="left:200.9px;top:699.0px;width:0.8px;height:2px"></div><div class="tk" style="left:200.9px;top:890.0px;width:0.8px;height:2px"></div><div class="tk" style="left:94.5px;top:789.8px;width:2px;height:0.8px"></div><div class="tk" style="left:294.7px;top:789.8px;width:2px;height:0.8px"></div><div class="tl" style="left:222.3px;top:892.0px;width:20px;margin-left:-10px;text-align:center">55</div><div class="tl" style="left:73.5px;top:765.6px;width:20px;text-align:right">55</div><div class="tk" style="left:221.9px;top:699.0px;width:0.8px;height:2px"></div><div class="tk" style="left:221.9px;top:890.0px;width:0.8px;height:2px"></div><div class="tk" style="left:94.5px;top:769.8px;width:2px;height:0.8px"></div><div class="tk" style="left:294.7px;top:769.8px;width:2px;height:0.8px"></div><div class="tl" style="left:243.2px;top:892.0px;width:20px;margin-left:-10px;text-align:center">64</div><div class="tl" style="left:73.5px;top:745.6px;width:20px;text-align:right">64</div><div class="tk" style="left:242.8px;top:699.0px;width:0.8px;height:2px"></div><div class="tk" style="left:242.8px;top:890.0px;width:0.8px;height:2px"></div><div class="tk" style="left:94.5px;top:749.8px;width:2px;height:0.8px"></div><div class="tk" style="left:294.7px;top:749.8px;width:2px;height:0.8px"></div><div class="tl" style="left:264.2px;top:892.0px;width:20px;margin-left:-10px;text-align:center">73</div><div class="tl" style="left:73.5px;top:725.7px;width:20px;text-align:right">73</div><div class="tk" style="left:263.8px;top:699.0px;width:0.8px;height:2px"></div><div class="tk" style="left:263.8px;top:890.0px;width:0.8px;height:2px"></div><div class="tk" style="left:94.5px;top:729.9px;width:2px;height:0.8px"></div><div class="tk" style="left:294.7px;top:729.9px;width:2px;height:0.8px"></div><div class="tl" style="left:285.2px;top:892.0px;width:20px;margin-left:-10px;text-align:center">82</div><div class="tl" style="left:73.5px;top:705.7px;width:20px;text-align:right">82</div><div class="tk" style="left:284.8px;top:699.0px;width:0.8px;height:2px"></div><div class="tk" style="left:284.8px;top:890.0px;width:0.8px;height:2px"></div><div class="tk" style="left:94.5px;top:709.9px;width:2px;height:0.8px"></div><div class="tk" style="left:294.7px;top:709.9px;width:2px;height:0.8px"></div><svg style="position:absolute;left:302.00px;top:701.00px" width="7.00" height="189.00"><defs><linearGradient id="gPCLM4" x1="0" y1="0" x2="0" y2="1"><stop offset="0.000" stop-color="#ff0000"/><stop offset="0.070" stop-color="#ff4000"/><stop offset="0.160" stop-color="#ffa000"/><stop offset="0.260" stop-color="#ffff00"/><stop offset="0.360" stop-color="#aaff00"/><stop offset="0.470" stop-color="#00ff00"/><stop offset="0.530" stop-color="#00ff96"/><stop offset="0.600" stop-color="#00f0ff"/><stop offset="0.660" stop-color="#00aaff"/><stop offset="0.740" stop-color="#0050ff"/><stop offset="0.860" stop-color="#0a00ff"/><stop offset="0.940" stop-color="#280096"/><stop offset="1.000" stop-color="#220046"/></linearGradient></defs><rect width="100%" height="100%" fill="url(#gPCLM4)"/></svg><div class="cl" style="left:313.8px;top:885.8px">0.0000</div><div class="tk" style="left:309.0px;top:889.6px;width:2px;height:0.8px"></div><div class="cl" style="left:313.8px;top:866.9px">0.5444</div><div class="tk" style="left:309.0px;top:870.7px;width:2px;height:0.8px"></div><div class="cl" style="left:313.8px;top:848.0px">1.0889</div><div class="tk" style="left:309.0px;top:851.8px;width:2px;height:0.8px"></div><div class="cl" style="left:313.8px;top:829.1px">1.6333</div><div class="tk" style="left:309.0px;top:832.9px;width:2px;height:0.8px"></div><div class="cl" style="left:313.8px;top:810.2px">2.1777</div><div class="tk" style="left:309.0px;top:814.0px;width:2px;height:0.8px"></div><div class="cl" style="left:313.8px;top:791.3px">2.7221</div><div class="tk" style="left:309.0px;top:795.1px;width:2px;height:0.8px"></div><div class="cl" style="left:313.8px;top:772.4px">3.2666</div><div class="tk" style="left:309.0px;top:776.2px;width:2px;height:0.8px"></div><div class="cl" style="left:313.8px;top:753.5px">3.8110</div><div class="tk" style="left:309.0px;top:757.3px;width:2px;height:0.8px"></div><div class="cl" style="left:313.8px;top:734.6px">4.3554</div><div class="tk" style="left:309.0px;top:738.4px;width:2px;height:0.8px"></div><div class="cl" style="left:313.8px;top:715.7px">4.8999</div><div class="tk" style="left:309.0px;top:719.5px;width:2px;height:0.8px"></div><div class="cl" style="left:313.8px;top:696.8px">5.4443</div><div class="tk" style="left:309.0px;top:700.6px;width:2px;height:0.8px"></div><div class="rl" style="left:72.0px;top:711.8px;color:#3f7f1f">A</div><div class="rl" style="left:68.8px;top:741.8px;color:#f01010">B</div><div class="rl" style="left:67.8px;top:781.7px;color:#3f7f1f">A</div><div class="rl" style="left:68.8px;top:824.4px;color:#f01010">B</div><div class="rl" style="left:68.8px;top:855.4px;color:#1a72c0">C</div><div class="bl" style="left:96.5px;top:844.4px;width:47.1px;height:1.3px"></div><div class="bl" style="left:142.2px;top:844.4px;width:1.3px;height:45.6px"></div><div class="bl" style="left:96.5px;top:820.0px;width:75.2px;height:1.3px"></div><div class="bl" style="left:170.3px;top:820.0px;width:1.3px;height:70.0px"></div><div class="bl" style="left:96.5px;top:762.8px;width:132.8px;height:1.3px"></div><div class="bl" style="left:227.9px;top:762.8px;width:1.3px;height:127.3px"></div><div class="bl" style="left:96.5px;top:739.9px;width:160.2px;height:1.3px"></div><div class="bl" style="left:255.3px;top:739.9px;width:1.3px;height:150.2px"></div><div class="ttl" style="left:387.0px;top:681.0px">PCLM5</div><svg width="194.00" height="194.00" viewBox="0 0 106 106" preserveAspectRatio="none" style="position:absolute;left:377.00px;top:703.00px"><defs><filter id="cmPCLM5" x="0" y="0" width="100%" height="100%" color-interpolation-filters="sRGB"><feTurbulence type="fractalNoise" baseFrequency="0.200" numOctaves="2" seed="7" result="n"/><feColorMatrix in="n" type="matrix" values="1.70 0 0 0 -0.10 1.70 0 0 0 -0.10 1.70 0 0 0 -0.10 0 0 0 0 1" result="m"/><feComposite in="SourceGraphic" in2="m" operator="arithmetic" k1="1" k2="0" k3="0" k4="0"/><feGaussianBlur stdDeviation="0.45" edgeMode="duplicate"/><feComponentTransfer><feFuncR type="table" tableValues="0.133 0.141 0.153 0.133 0.098 0.063 0.035 0.027 0.020 0.012 0.004 0.000 0.000 0.000 0.000 0.000 0.000 0.000 0.000 0.000 0.000 0.000 0.122 0.275 0.424 0.576 0.698 0.784 0.867 0.949 1.000 1.000 1.000 1.000 1.000 1.000 1.000 1.000 1.000 1.000 1.000"/><feFuncG type="table" tableValues="0.000 0.000 0.000 0.000 0.000 0.000 0.027 0.090 0.157 0.224 0.286 0.380 0.490 0.600 0.714 0.827 0.941 0.961 0.984 1.000 1.000 1.000 1.000 1.000 1.000 1.000 1.000 1.000 1.000 1.000 0.965 0.871 0.776 0.682 0.584 0.482 0.376 0.271 0.180 0.090 0.000"/><feFuncB type="table" tableValues="0.275 0.404 0.537 0.667 0.792 0.922 1.000 1.000 1.000 1.000 1.000 1.000 1.000 1.000 1.000 1.000 1.000 0.855 0.706 0.541 0.294 0.047 0.000 0.000 0.000 0.000 0.000 0.000 0.000 0.000 0.000 0.000 0.000 0.000 0.000 0.000 0.000 0.000 0.000 0.000 0.000"/><feFuncA type="linear" slope="0" intercept="1"/></feComponentTransfer></filter></defs><g filter="url(#cmPCLM5)"><rect width="106" height="106" fill="#000"/><rect x="0" y="105" width="106" height="1" fill="#fff" fill-opacity="0.900"/><rect x="0" y="104" width="106" height="1" fill="#fff" fill-opacity="0.900"/><rect x="0" y="103" width="106" height="1" fill="#fff" fill-opacity="0.468"/><rect x="0" y="102" width="106" height="1" fill="#fff" fill-opacity="0.468"/><rect x="0" y="101" width="106" height="1" fill="#fff" fill-opacity="0.900"/><rect x="0" y="100" width="106" height="1" fill="#fff" fill-opacity="0.900"/><rect x="0" y="99" width="106" height="1" fill="#fff" fill-opacity="0.468"/><rect x="0" y="98" width="106" height="1" fill="#fff" fill-opacity="0.900"/><rect x="0" y="97" width="106" height="1" fill="#fff" fill-opacity="0.468"/><rect x="0" y="96" width="106" height="1" fill="#fff" fill-opacity="0.468"/><rect x="0" y="95" width="106" height="1" fill="#fff" fill-opacity="0.468"/><rect x="0" y="94" width="106" height="1" fill="#fff" fill-opacity="0.900"/><rect x="0" y="93" width="106" height="1" fill="#fff" fill-opacity="0.900"/><rect x="0" y="92" width="106" height="1" fill="#fff" fill-opacity="0.468"/><rect x="0" y="91" width="106" height="1" fill="#fff" fill-opacity="0.900"/><rect x="0" y="90" width="106" height="1" fill="#fff" fill-opacity="0.468"/><rect x="0" y="89" width="106" height="1" fill="#fff" fill-opacity="0.900"/><rect x="0" y="88" width="106" height="1" fill="#fff" fill-opacity="0.468"/><rect x="0" y="87" width="106" height="1" fill="#fff" fill-opacity="0.468"/><rect x="0" y="86" width="106" height="1" fill="#fff" fill-opacity="0.468"/><rect x="0" y="85" width="106" height="1" fill="#fff" fill-opacity="0.900"/><rect x="0" y="84" width="106" height="1" fill="#fff" fill-opacity="0.900"/><rect x="0" y="83" width="106" height="1" fill="#fff" fill-opacity="0.468"/><rect x="0" y="82" width="106" height="1" fill="#fff" fill-opacity="0.900"/><rect x="0" y="81" width="106" height="1" fill="#fff" fill-opacity="0.468"/><rect x="0" y="80" width="106" height="1" fill="#fff" fill-opacity="0.900"/><rect x="0" y="79" width="106" height="1" fill="#fff" fill-opacity="0.468"/><rect x="0" y="78" width="106" height="1" fill="#fff" fill-opacity="0.468"/><rect x="0" y="77" width="106" height="1" fill="#fff" fill-opacity="0.900"/><rect x="0" y="76" width="106" height="1" fill="#fff" fill-opacity="0.468"/><rect x="0" y="75" width="106" height="1" fill="#fff" fill-opacity="0.220"/><rect x="0" y="74" width="106" height="1" fill="#fff" fill-opacity="0.220"/><rect x="0" y="73" width="106" height="1" fill="#fff" fill-opacity="0.114"/><rect x="0" y="72" width="106" height="1" fill="#fff" fill-opacity="0.468"/><rect x="0" y="71" width="106" height="1" fill="#fff" fill-opacity="0.468"/><rect x="0" y="70" width="106" height="1" fill="#fff" fill-opacity="0.900"/><rect x="0" y="69" width="106" height="1" fill="#fff" fill-opacity="0.900"/><rect x="0" y="68" width="106" height="1" fill="#fff" fill-opacity="0.468"/><rect x="0" y="67" width="106" height="1" fill="#fff" fill-opacity="0.468"/><rect x="0" y="66" width="106" height="1" fill="#fff" fill-opacity="0.900"/><rect x="0" y="65" width="106" height="1" fill="#fff" fill-opacity="0.468"/><rect x="0" y="64" width="106" height="1" fill="#fff" fill-opacity="0.900"/><rect x="0" y="63" width="106" height="1" fill="#fff" fill-opacity="0.900"/><rect x="0" y="62" width="106" height="1" fill="#fff" fill-opacity="0.468"/><rect x="0" y="61" width="106" height="1" fill="#fff" fill-opacity="0.468"/><rect x="0" y="60" width="106" height="1" fill="#fff" fill-opacity="0.468"/><rect x="0" y="59" width="106" height="1" fill="#fff" fill-opacity="0.900"/><rect x="0" y="58" width="106" height="1" fill="#fff" fill-opacity="0.900"/><rect x="0" y="57" width="106" height="1" fill="#fff" fill-opacity="0.468"/><rect x="0" y="56" width="106" height="1" fill="#fff" fill-opacity="0.468"/><rect x="0" y="55" width="106" height="1" fill="#fff" fill-opacity="0.468"/><rect x="0" y="54" width="106" height="1" fill="#fff" fill-opacity="0.900"/><rect x="0" y="53" width="106" height="1" fill="#fff" fill-opacity="0.114"/><rect x="0" y="52" width="106" height="1" fill="#fff" fill-opacity="0.220"/><rect x="0" y="51" width="106" height="1" fill="#fff" fill-opacity="0.114"/><rect x="0" y="50" width="106" height="1" fill="#fff" fill-opacity="0.220"/><rect x="0" y="49" width="106" height="1" fill="#fff" fill-opacity="0.114"/><rect x="0" y="48" width="106" height="1" fill="#fff" fill-opacity="0.468"/><rect x="0" y="47" width="106" height="1" fill="#fff" fill-opacity="0.900"/><rect x="0" y="46" width="106" height="1" fill="#fff" fill-opacity="0.468"/><rect x="0" y="45" width="106" height="1" fill="#fff" fill-opacity="0.900"/><rect x="0" y="44" width="106" height="1" fill="#fff" fill-opacity="0.468"/><rect x="0" y="43" width="106" height="1" fill="#fff" fill-opacity="0.900"/><rect x="0" y="42" width="106" height="1" fill="#fff" fill-opacity="0.900"/><rect x="0" y="41" width="106" height="1" fill="#fff" fill-opacity="0.468"/><rect x="0" y="40" width="106" height="1" fill="#fff" fill-opacity="0.900"/><rect x="0" y="39" width="106" height="1" fill="#fff" fill-opacity="0.468"/><rect x="0" y="38" width="106" height="1" fill="#fff" fill-opacity="0.900"/><rect x="0" y="37" width="106" height="1" fill="#fff" fill-opacity="0.900"/><rect x="0" y="36" width="106" height="1" fill="#fff" fill-opacity="0.114"/><rect x="0" y="35" width="106" height="1" fill="#fff" fill-opacity="0.114"/><rect x="0" y="34" width="106" height="1" fill="#fff" fill-opacity="0.312"/><rect x="0" y="33" width="106" height="1" fill="#fff" fill-opacity="0.600"/><rect x="0" y="32" width="106" height="1" fill="#fff" fill-opacity="0.312"/><rect x="0" y="31" width="106" height="1" fill="#fff" fill-opacity="0.600"/><rect x="0" y="30" width="106" height="1" fill="#fff" fill-opacity="0.600"/><rect x="0" y="29" width="106" height="1" fill="#fff" fill-opacity="0.312"/><rect x="0" y="28" width="106" height="1" fill="#fff" fill-opacity="0.600"/><rect x="0" y="27" width="106" height="1" fill="#fff" fill-opacity="0.312"/><rect x="0" y="26" width="106" height="1" fill="#fff" fill-opacity="0.312"/><rect x="0" y="25" width="106" height="1" fill="#fff" fill-opacity="0.494"/><rect x="0" y="24" width="106" height="1" fill="#fff" fill-opacity="0.950"/><rect x="0" y="23" width="106" height="1" fill="#fff" fill-opacity="0.600"/><rect x="0" y="22" width="106" height="1" fill="#fff" fill-opacity="0.312"/><rect x="0" y="21" width="106" height="1" fill="#fff" fill-opacity="0.600"/><rect x="0" y="20" width="106" height="1" fill="#fff" fill-opacity="0.312"/><rect x="0" y="19" width="106" height="1" fill="#fff" fill-opacity="0.600"/><rect x="0" y="18" width="106" height="1" fill="#fff" fill-opacity="0.442"/><rect x="0" y="17" width="106" height="1" fill="#fff" fill-opacity="0.850"/><rect x="0" y="16" width="106" height="1" fill="#fff" fill-opacity="0.442"/><rect x="0" y="15" width="106" height="1" fill="#fff" fill-opacity="0.850"/><rect x="0" y="14" width="106" height="1" fill="#fff" fill-opacity="0.850"/><rect x="0" y="13" width="106" height="1" fill="#fff" fill-opacity="0.442"/><rect x="0" y="12" width="106" height="1" fill="#fff" fill-opacity="0.850"/><rect x="0" y="11" width="106" height="1" fill="#fff" fill-opacity="0.442"/><rect x="0" y="10" width="106" height="1" fill="#fff" fill-opacity="0.850"/><rect x="0" y="9" width="106" height="1" fill="#fff" fill-opacity="0.260"/><rect x="0" y="8" width="106" height="1" fill="#fff" fill-opacity="0.500"/><rect x="0" y="7" width="106" height="1" fill="#fff" fill-opacity="0.500"/><rect x="0" y="6" width="106" height="1" fill="#fff" fill-opacity="0.094"/><rect x="0" y="5" width="106" height="1" fill="#fff" fill-opacity="0.180"/><rect x="0" y="4" width="106" height="1" fill="#fff" fill-opacity="0.180"/><rect x="0" y="3" width="106" height="1" fill="#fff" fill-opacity="0.094"/><rect x="0" y="2" width="106" height="1" fill="#fff" fill-opacity="0.260"/><rect x="0" y="1" width="106" height="1" fill="#fff" fill-opacity="0.300"/><rect x="0" y="0" width="106" height="1" fill="#fff" fill-opacity="0.156"/><rect x="0" y="0" width="1" height="106" fill="#000" fill-opacity="0.100"/><rect x="1" y="0" width="1" height="106" fill="#000" fill-opacity="0.100"/><rect x="2" y="0" width="1" height="106" fill="#000" fill-opacity="0.532"/><rect x="3" y="0" width="1" height="106" fill="#000" fill-opacity="0.532"/><rect x="4" y="0" width="1" height="106" fill="#000" fill-opacity="0.100"/><rect x="5" y="0" width="1" height="106" fill="#000" fill-opacity="0.100"/><rect x="6" y="0" width="1" height="106" fill="#000" fill-opacity="0.532"/><rect x="7" y="0" width="1" height="106" fill="#000" fill-opacity="0.100"/><rect x="8" y="0" width="1" height="106" fill="#000" fill-opacity="0.532"/><rect x="9" y="0" width="1" height="106" fill="#000" fill-opacity="0.532"/><rect x="10" y="0" width="1" height="106" fill="#000" fill-opacity="0.532"/><rect x="11" y="0" width="1" height="106" fill="#000" fill-opacity="0.100"/><rect x="12" y="0" width="1" height="106" fill="#000" fill-opacity="0.100"/><rect x="13" y="0" width="1" height="106" fill="#000" fill-opacity="0.532"/><rect x="14" y="0" width="1" height="106" fill="#000" fill-opacity="0.100"/><rect x="15" y="0" width="1" height="106" fill="#000" fill-opacity="0.532"/><rect x="16" y="0" width="1" height="106" fill="#000" fill-opacity="0.100"/><rect x="17" y="0" width="1" height="106" fill="#000" fill-opacity="0.532"/><rect x="18" y="0" width="1" height="106" fill="#000" fill-opacity="0.532"/><rect x="19" y="0" width="1" height="106" fill="#000" fill-opacity="0.532"/><rect x="20" y="0" width="1" height="106" fill="#000" fill-opacity="0.100"/><rect x="21" y="0" width="1" height="106" fill="#000" fill-opacity="0.100"/><rect x="22" y="0" width="1" height="106" fill="#000" fill-opacity="0.532"/><rect x="23" y="0" width="1" height="106" fill="#000" fill-opacity="0.100"/><rect x="24" y="0" width="1" height="106" fill="#000" fill-opacity="0.532"/><rect x="25" y="0" width="1" height="106" fill="#000" fill-opacity="0.100"/><rect x="26" y="0" width="1" height="106" fill="#000" fill-opacity="0.532"/><rect x="27" y="0" width="1" height="106" fill="#000" fill-opacity="0.532"/><rect x="28" y="0" width="1" height="106" fill="#000" fill-opacity="0.100"/><rect x="29" y="0" width="1" height="106" fill="#000" fill-opacity="0.532"/><rect x="30" y="0" width="1" height="106" fill="#000" fill-opacity="0.780"/><rect x="31" y="0" width="1" height="106" fill="#000" fill-opacity="0.780"/><rect x="32" y="0" width="1" height="106" fill="#000" fill-opacity="0.886"/><rect x="33" y="0" width="1" height="106" fill="#000" fill-opacity="0.532"/><rect x="34" y="0" width="1" height="106" fill="#000" fill-opacity="0.532"/><rect x="35" y="0" width="1" height="106" fill="#000" fill-opacity="0.100"/><rect x="36" y="0" width="1" height="106" fill="#000" fill-opacity="0.100"/><rect x="37" y="0" width="1" height="106" fill="#000" fill-opacity="0.532"/><rect x="38" y="0" width="1" height="106" fill="#000" fill-opacity="0.532"/><rect x="39" y="0" width="1" height="106" fill="#000" fill-opacity="0.100"/><rect x="40" y="0" width="1" height="106" fill="#000" fill-opacity="0.532"/><rect x="41" y="0" width="1" height="106" fill="#000" fill-opacity="0.100"/><rect x="42" y="0" width="1" height="106" fill="#000" fill-opacity="0.100"/><rect x="43" y="0" width="1" height="106" fill="#000" fill-opacity="0.532"/><rect x="44" y="0" width="1" height="106" fill="#000" fill-opacity="0.532"/><rect x="45" y="0" width="1" height="106" fill="#000" fill-opacity="0.532"/><rect x="46" y="0" width="1" height="106" fill="#000" fill-opacity="0.100"/><rect x="47" y="0" width="1" height="106" fill="#000" fill-opacity="0.100"/><rect x="48" y="0" width="1" height="106" fill="#000" fill-opacity="0.532"/><rect x="49" y="0" width="1" height="106" fill="#000" fill-opacity="0.532"/><rect x="50" y="0" width="1" height="106" fill="#000" fill-opacity="0.532"/><rect x="51" y="0" width="1" height="106" fill="#000" fill-opacity="0.100"/><rect x="52" y="0" width="1" height="106" fill="#000" fill-opacity="0.886"/><rect x="53" y="0" width="1" height="106" fill="#000" fill-opacity="0.780"/><rect x="54" y="0" width="1" height="106" fill="#000" fill-opacity="0.886"/><rect x="55" y="0" width="1" height="106" fill="#000" fill-opacity="0.780"/><rect x="56" y="0" width="1" height="106" fill="#000" fill-opacity="0.886"/><rect x="57" y="0" width="1" height="106" fill="#000" fill-opacity="0.532"/><rect x="58" y="0" width="1" height="106" fill="#000" fill-opacity="0.100"/><rect x="59" y="0" width="1" height="106" fill="#000" fill-opacity="0.532"/><rect x="60" y="0" width="1" height="106" fill="#000" fill-opacity="0.100"/><rect x="61" y="0" width="1" height="106" fill="#000" fill-opacity="0.532"/><rect x="62" y="0" width="1" height="106" fill="#000" fill-opacity="0.100"/><rect x="63" y="0" width="1" height="106" fill="#000" fill-opacity="0.100"/><rect x="64" y="0" width="1" height="106" fill="#000" fill-opacity="0.532"/><rect x="65" y="0" width="1" height="106" fill="#000" fill-opacity="0.100"/><rect x="66" y="0" width="1" height="106" fill="#000" fill-opacity="0.532"/><rect x="67" y="0" width="1" height="106" fill="#000" fill-opacity="0.100"/><rect x="68" y="0" width="1" height="106" fill="#000" fill-opacity="0.100"/><rect x="69" y="0" width="1" height="106" fill="#000" fill-opacity="0.886"/><rect x="70" y="0" width="1" height="106" fill="#000" fill-opacity="0.886"/><rect x="71" y="0" width="1" height="106" fill="#000" fill-opacity="0.688"/><rect x="72" y="0" width="1" height="106" fill="#000" fill-opacity="0.400"/><rect x="73" y="0" width="1" height="106" fill="#000" fill-opacity="0.688"/><rect x="74" y="0" width="1" height="106" fill="#000" fill-opacity="0.400"/><rect x="75" y="0" width="1" height="106" fill="#000" fill-opacity="0.400"/><rect x="76" y="0" width="1" height="106" fill="#000" fill-opacity="0.688"/><rect x="77" y="0" width="1" height="106" fill="#000" fill-opacity="0.400"/><rect x="78" y="0" width="1" height="106" fill="#000" fill-opacity="0.688"/><rect x="79" y="0" width="1" height="106" fill="#000" fill-opacity="0.688"/><rect x="80" y="0" width="1" height="106" fill="#000" fill-opacity="0.506"/><rect x="81" y="0" width="1" height="106" fill="#000" fill-opacity="0.050"/><rect x="82" y="0" width="1" height="106" fill="#000" fill-opacity="0.400"/><rect x="83" y="0" width="1" height="106" fill="#000" fill-opacity="0.688"/><rect x="84" y="0" width="1" height="106" fill="#000" fill-opacity="0.400"/><rect x="85" y="0" width="1" height="106" fill="#000" fill-opacity="0.688"/><rect x="86" y="0" width="1" height="106" fill="#000" fill-opacity="0.400"/><rect x="87" y="0" width="1" height="106" fill="#000" fill-opacity="0.558"/><rect x="88" y="0" width="1" height="106" fill="#000" fill-opacity="0.150"/><rect x="89" y="0" width="1" height="106" fill="#000" fill-opacity="0.558"/><rect x="90" y="0" width="1" height="106" fill="#000" fill-opacity="0.150"/><rect x="91" y="0" width="1" height="106" fill="#000" fill-opacity="0.150"/><rect x="92" y="0" width="1" height="106" fill="#000" fill-opacity="0.558"/><rect x="93" y="0" width="1" height="106" fill="#000" fill-opacity="0.150"/><rect x="94" y="0" width="1" height="106" fill="#000" fill-opacity="0.558"/><rect x="95" y="0" width="1" height="106" fill="#000" fill-opacity="0.150"/><rect x="96" y="0" width="1" height="106" fill="#000" fill-opacity="0.740"/><rect x="97" y="0" width="1" height="106" fill="#000" fill-opacity="0.500"/><rect x="98" y="0" width="1" height="106" fill="#000" fill-opacity="0.500"/><rect x="99" y="0" width="1" height="106" fill="#000" fill-opacity="0.906"/><rect x="100" y="0" width="1" height="106" fill="#000" fill-opacity="0.820"/><rect x="101" y="0" width="1" height="106" fill="#000" fill-opacity="0.820"/><rect x="102" y="0" width="1" height="106" fill="#000" fill-opacity="0.906"/><rect x="103" y="0" width="1" height="106" fill="#000" fill-opacity="0.740"/><rect x="104" y="0" width="1" height="106" fill="#000" fill-opacity="0.700"/><rect x="105" y="0" width="1" height="106" fill="#000" fill-opacity="0.844"/><rect x="0" y="0" width="106" height="106" fill="#000" fill-opacity="0.200"/><rect x="71.0299" y="18.8224" width="16.1477" height="16.1477" fill="#000" fill-opacity="0.450"/><rect x="71.0299" y="6.93458" width="16.1477" height="11.8879" fill="#000" fill-opacity="0.400"/><rect x="87.1776" y="18.8224" width="11.8879" height="16.1477" fill="#000" fill-opacity="0.400"/><rect x="42.5981" y="55.4766" width="7.92523" height="7.92523" fill="#fff" fill-opacity="0.250"/><rect x="60.4299" y="37.6449" width="7.92523" height="7.92523" fill="#fff" fill-opacity="0.250"/><rect x="86.1869" y="8.3215" width="11.3925" height="10.6991" fill="#fff" fill-opacity="0.120"/><rect x="90.1495" y="12.8785" width="3.96262" height="2.97196" fill="#fff" fill-opacity="0.120"/><rect x="2.97196" y="80.243" width="22.785" height="22.785" fill="#fff" fill-opacity="0.100"/></g></svg><svg width="194.00" height="194.00" style="position:absolute;left:377.00px;top:703.00px"><line x1="129.64" y1="64.36" x2="192.19" y2="1.81" stroke="#1a50ff" stroke-width="1.2" opacity="0.6"/></svg><div class="tl" style="left:377.0px;top:899.0px;width:20px;margin-left:-10px;text-align:center">1</div><div class="tl" style="left:354.0px;top:892.4px;width:20px;text-align:right">1</div><div class="tk" style="left:376.6px;top:701.0px;width:0.8px;height:2px"></div><div class="tk" style="left:376.6px;top:897.0px;width:0.8px;height:2px"></div><div class="tk" style="left:375.0px;top:896.6px;width:2px;height:0.8px"></div><div class="tk" style="left:571.0px;top:896.6px;width:2px;height:0.8px"></div><div class="tl" style="left:397.3px;top:899.0px;width:20px;margin-left:-10px;text-align:center">12</div><div class="tl" style="left:354.0px;top:872.2px;width:20px;text-align:right">12</div><div class="tk" style="left:396.9px;top:701.0px;width:0.8px;height:2px"></div><div class="tk" style="left:396.9px;top:897.0px;width:0.8px;height:2px"></div><div class="tk" style="left:375.0px;top:876.4px;width:2px;height:0.8px"></div><div class="tk" style="left:571.0px;top:876.4px;width:2px;height:0.8px"></div><div class="tl" style="left:417.6px;top:899.0px;width:20px;margin-left:-10px;text-align:center">23</div><div class="tl" style="left:354.0px;top:851.9px;width:20px;text-align:right">23</div><div class="tk" style="left:417.2px;top:701.0px;width:0.8px;height:2px"></div><div class="tk" style="left:417.2px;top:897.0px;width:0.8px;height:2px"></div><div class="tk" style="left:375.0px;top:856.1px;width:2px;height:0.8px"></div><div class="tk" style="left:571.0px;top:856.1px;width:2px;height:0.8px"></div><div class="tl" style="left:437.9px;top:899.0px;width:20px;margin-left:-10px;text-align:center">34</div><div class="tl" style="left:354.0px;top:831.7px;width:20px;text-align:right">34</div><div class="tk" style="left:437.5px;top:701.0px;width:0.8px;height:2px"></div><div class="tk" style="left:437.5px;top:897.0px;width:0.8px;height:2px"></div><div class="tk" style="left:375.0px;top:835.9px;width:2px;height:0.8px"></div><div class="tk" style="left:571.0px;top:835.9px;width:2px;height:0.8px"></div><div class="tl" style="left:458.2px;top:899.0px;width:20px;margin-left:-10px;text-align:center">45</div><div class="tl" style="left:354.0px;top:811.4px;width:20px;text-align:right">45</div><div class="tk" style="left:457.8px;top:701.0px;width:0.8px;height:2px"></div><div class="tk" style="left:457.8px;top:897.0px;width:0.8px;height:2px"></div><div class="tk" style="left:375.0px;top:815.6px;width:2px;height:0.8px"></div><div class="tk" style="left:571.0px;top:815.6px;width:2px;height:0.8px"></div><div class="tl" style="left:478.5px;top:899.0px;width:20px;margin-left:-10px;text-align:center">56</div><div class="tl" style="left:354.0px;top:791.2px;width:20px;text-align:right">56</div><div class="tk" style="left:478.1px;top:701.0px;width:0.8px;height:2px"></div><div class="tk" style="left:478.1px;top:897.0px;width:0.8px;height:2px"></div><div class="tk" style="left:375.0px;top:795.4px;width:2px;height:0.8px"></div><div class="tk" style="left:571.0px;top:795.4px;width:2px;height:0.8px"></div><div class="tl" style="left:498.8px;top:899.0px;width:20px;margin-left:-10px;text-align:center">67</div><div class="tl" style="left:354.0px;top:770.9px;width:20px;text-align:right">67</div><div class="tk" style="left:498.4px;top:701.0px;width:0.8px;height:2px"></div><div class="tk" style="left:498.4px;top:897.0px;width:0.8px;height:2px"></div><div class="tk" style="left:375.0px;top:775.1px;width:2px;height:0.8px"></div><div class="tk" style="left:571.0px;top:775.1px;width:2px;height:0.8px"></div><div class="tl" style="left:519.1px;top:899.0px;width:20px;margin-left:-10px;text-align:center">78</div><div class="tl" style="left:354.0px;top:750.7px;width:20px;text-align:right">78</div><div class="tk" style="left:518.7px;top:701.0px;width:0.8px;height:2px"></div><div class="tk" style="left:518.7px;top:897.0px;width:0.8px;height:2px"></div><div class="tk" style="left:375.0px;top:754.9px;width:2px;height:0.8px"></div><div class="tk" style="left:571.0px;top:754.9px;width:2px;height:0.8px"></div><div class="tl" style="left:539.4px;top:899.0px;width:20px;margin-left:-10px;text-align:center">89</div><div class="tl" style="left:354.0px;top:730.4px;width:20px;text-align:right">89</div><div class="tk" style="left:539.0px;top:701.0px;width:0.8px;height:2px"></div><div class="tk" style="left:539.0px;top:897.0px;width:0.8px;height:2px"></div><div class="tk" style="left:375.0px;top:734.6px;width:2px;height:0.8px"></div><div class="tk" style="left:571.0px;top:734.6px;width:2px;height:0.8px"></div><div class="tl" style="left:559.7px;top:899.0px;width:20px;margin-left:-10px;text-align:center">100</div><div class="tl" style="left:354.0px;top:710.2px;width:20px;text-align:right">100</div><div class="tk" style="left:559.3px;top:701.0px;width:0.8px;height:2px"></div><div class="tk" style="left:559.3px;top:897.0px;width:0.8px;height:2px"></div><div class="tk" style="left:375.0px;top:714.4px;width:2px;height:0.8px"></div><div class="tk" style="left:571.0px;top:714.4px;width:2px;height:0.8px"></div><svg style="position:absolute;left:579.00px;top:703.00px" width="7.00" height="194.00"><defs><linearGradient id="gPCLM5" x1="0" y1="0" x2="0" y2="1"><stop offset="0.000" stop-color="#ff0000"/><stop offset="0.070" stop-color="#ff4000"/><stop offset="0.160" stop-color="#ffa000"/><stop offset="0.260" stop-color="#ffff00"/><stop offset="0.360" stop-color="#aaff00"/><stop offset="0.470" stop-color="#00ff00"/><stop offset="0.530" stop-color="#00ff96"/><stop offset="0.600" stop-color="#00f0ff"/><stop offset="0.660" stop-color="#00aaff"/><stop offset="0.740" stop-color="#0050ff"/><stop offset="0.860" stop-color="#0a00ff"/><stop offset="0.940" stop-color="#280096"/><stop offset="1.000" stop-color="#220046"/></linearGradient></defs><rect width="100%" height="100%" fill="url(#gPCLM5)"/></svg><div class="cl" style="left:590.8px;top:892.8px">0.0000</div><div class="tk" style="left:586.0px;top:896.6px;width:2px;height:0.8px"></div><div class="cl" style="left:590.8px;top:873.4px">0.0050</div><div class="tk" style="left:586.0px;top:877.2px;width:2px;height:0.8px"></div><div class="cl" style="left:590.8px;top:854.0px">0.0101</div><div class="tk" style="left:586.0px;top:857.8px;width:2px;height:0.8px"></div><div class="cl" style="left:590.8px;top:834.6px">0.0151</div><div class="tk" style="left:586.0px;top:838.4px;width:2px;height:0.8px"></div><div class="cl" style="left:590.8px;top:815.2px">0.0201</div><div class="tk" style="left:586.0px;top:819.0px;width:2px;height:0.8px"></div><div class="cl" style="left:590.8px;top:795.8px">0.0251</div><div class="tk" style="left:586.0px;top:799.6px;width:2px;height:0.8px"></div><div class="cl" style="left:590.8px;top:776.4px">0.0302</div><div class="tk" style="left:586.0px;top:780.2px;width:2px;height:0.8px"></div><div class="cl" style="left:590.8px;top:757.0px">0.0352</div><div class="tk" style="left:586.0px;top:760.8px;width:2px;height:0.8px"></div><div class="cl" style="left:590.8px;top:737.6px">0.0402</div><div class="tk" style="left:586.0px;top:741.4px;width:2px;height:0.8px"></div><div class="cl" style="left:590.8px;top:718.2px">0.0453</div><div class="tk" style="left:586.0px;top:722.0px;width:2px;height:0.8px"></div><div class="cl" style="left:590.8px;top:698.8px">0.0503</div><div class="tk" style="left:586.0px;top:702.6px;width:2px;height:0.8px"></div><div class="rl" style="left:348.7px;top:712.3px;color:#3f7f1f">A</div><div class="rl" style="left:348.7px;top:739.3px;color:#f01010">B</div><div class="rl" style="left:348.7px;top:789.2px;color:#3f7f1f">A</div><div class="rl" style="left:348.7px;top:835.7px;color:#f01010">B</div><div class="rl" style="left:348.7px;top:861.9px;color:#1a72c0">C</div><div class="bl" style="left:377.0px;top:855.1px;width:41.3px;height:1.3px"></div><div class="bl" style="left:417.0px;top:855.1px;width:1.3px;height:41.9px"></div><div class="bl" style="left:377.0px;top:834.8px;width:61.5px;height:1.3px"></div><div class="bl" style="left:437.2px;top:834.8px;width:1.3px;height:62.3px"></div><div class="bl" style="left:377.0px;top:757.8px;width:138.3px;height:1.3px"></div><div class="bl" style="left:514.0px;top:757.8px;width:1.3px;height:139.3px"></div><div class="bl" style="left:377.0px;top:735.1px;width:159.4px;height:1.3px"></div><div class="bl" style="left:535.1px;top:735.1px;width:1.3px;height:161.9px"></div></body></html>
